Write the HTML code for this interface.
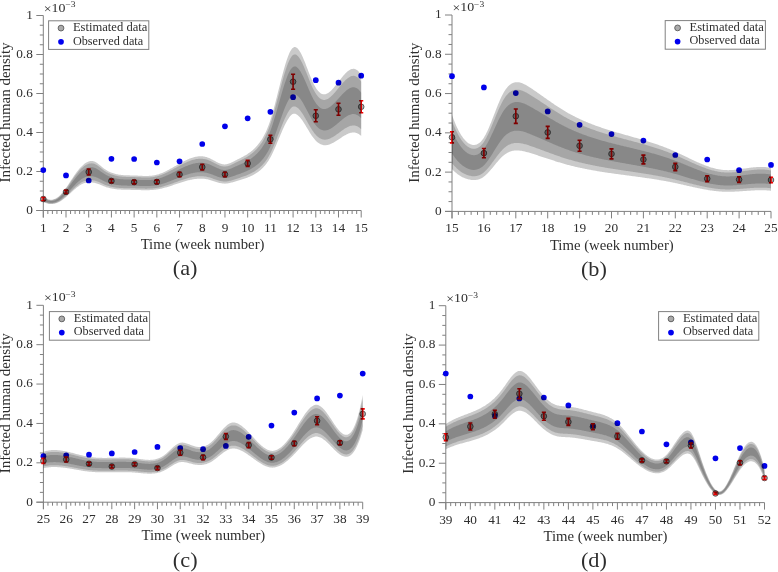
<!DOCTYPE html>
<html><head><meta charset="utf-8"><style>
html,body{margin:0;padding:0;background:#fff;}
svg{display:block;font-family:"Liberation Serif", serif;filter:blur(0.4px);}
</style></head><body>
<svg width="778" height="572" viewBox="0 0 778 572">
<rect width="778" height="572" fill="#fff"/>
<g id="panel-a">
<path d="M36.30,210.50H361.20M43.30,15.50V217.50" stroke="#808080" stroke-width="1" fill="none"/>
<path d="M36.30,210.50H43.30M39.80,200.75H43.30M39.80,191.00H43.30M39.80,181.25H43.30M36.30,171.50H43.30M39.80,161.75H43.30M39.80,152.00H43.30M39.80,142.25H43.30M36.30,132.50H43.30M39.80,122.75H43.30M39.80,113.00H43.30M39.80,103.25H43.30M36.30,93.50H43.30M39.80,83.75H43.30M39.80,74.00H43.30M39.80,64.25H43.30M36.30,54.50H43.30M39.80,44.75H43.30M39.80,35.00H43.30M39.80,25.25H43.30M36.30,15.50H43.30M43.30,210.50V217.50M47.84,210.50V214.00M52.38,210.50V214.00M56.92,210.50V214.00M61.47,210.50V214.00M66.01,210.50V217.50M70.55,210.50V214.00M75.09,210.50V214.00M79.63,210.50V214.00M84.17,210.50V214.00M88.71,210.50V217.50M93.26,210.50V214.00M97.80,210.50V214.00M102.34,210.50V214.00M106.88,210.50V214.00M111.42,210.50V217.50M115.96,210.50V214.00M120.50,210.50V214.00M125.05,210.50V214.00M129.59,210.50V214.00M134.13,210.50V217.50M138.67,210.50V214.00M143.21,210.50V214.00M147.75,210.50V214.00M152.29,210.50V214.00M156.84,210.50V217.50M161.38,210.50V214.00M165.92,210.50V214.00M170.46,210.50V214.00M175.00,210.50V214.00M179.54,210.50V217.50M184.08,210.50V214.00M188.63,210.50V214.00M193.17,210.50V214.00M197.71,210.50V214.00M202.25,210.50V217.50M206.79,210.50V214.00M211.33,210.50V214.00M215.87,210.50V214.00M220.42,210.50V214.00M224.96,210.50V217.50M229.50,210.50V214.00M234.04,210.50V214.00M238.58,210.50V214.00M243.12,210.50V214.00M247.66,210.50V217.50M252.21,210.50V214.00M256.75,210.50V214.00M261.29,210.50V214.00M265.83,210.50V214.00M270.37,210.50V217.50M274.91,210.50V214.00M279.45,210.50V214.00M284.00,210.50V214.00M288.54,210.50V214.00M293.08,210.50V217.50M297.62,210.50V214.00M302.16,210.50V214.00M306.70,210.50V214.00M311.24,210.50V214.00M315.79,210.50V217.50M320.33,210.50V214.00M324.87,210.50V214.00M329.41,210.50V214.00M333.95,210.50V214.00M338.49,210.50V217.50M343.03,210.50V214.00M347.58,210.50V214.00M352.12,210.50V214.00M356.66,210.50V214.00M361.20,210.50V217.50" stroke="#808080" stroke-width="1" fill="none"/>
<circle cx="43.30" cy="170.10" r="2.85" fill="#0000ea"/>
<circle cx="66.01" cy="175.40" r="2.85" fill="#0000ea"/>
<circle cx="88.71" cy="180.50" r="2.85" fill="#0000ea"/>
<circle cx="111.42" cy="158.80" r="2.85" fill="#0000ea"/>
<circle cx="134.13" cy="159.00" r="2.85" fill="#0000ea"/>
<circle cx="156.84" cy="162.50" r="2.85" fill="#0000ea"/>
<circle cx="179.54" cy="161.30" r="2.85" fill="#0000ea"/>
<circle cx="202.25" cy="144.00" r="2.85" fill="#0000ea"/>
<circle cx="224.96" cy="126.30" r="2.85" fill="#0000ea"/>
<circle cx="247.66" cy="118.30" r="2.85" fill="#0000ea"/>
<circle cx="270.37" cy="111.80" r="2.85" fill="#0000ea"/>
<circle cx="293.08" cy="97.20" r="2.85" fill="#0000ea"/>
<circle cx="315.79" cy="80.20" r="2.85" fill="#0000ea"/>
<circle cx="338.49" cy="82.70" r="2.85" fill="#0000ea"/>
<circle cx="361.20" cy="75.70" r="2.85" fill="#0000ea"/>
<circle cx="43.30" cy="199.00" r="2.8" fill="#000" fill-opacity="0.3" stroke="#444" stroke-width="0.85"/>
<circle cx="66.01" cy="191.90" r="2.8" fill="#000" fill-opacity="0.3" stroke="#444" stroke-width="0.85"/>
<circle cx="88.71" cy="172.00" r="2.8" fill="#000" fill-opacity="0.3" stroke="#444" stroke-width="0.85"/>
<circle cx="111.42" cy="181.00" r="2.8" fill="#000" fill-opacity="0.3" stroke="#444" stroke-width="0.85"/>
<circle cx="134.13" cy="182.10" r="2.8" fill="#000" fill-opacity="0.3" stroke="#444" stroke-width="0.85"/>
<circle cx="156.84" cy="181.90" r="2.8" fill="#000" fill-opacity="0.3" stroke="#444" stroke-width="0.85"/>
<circle cx="179.54" cy="174.50" r="2.8" fill="#000" fill-opacity="0.3" stroke="#444" stroke-width="0.85"/>
<circle cx="202.25" cy="167.10" r="2.8" fill="#000" fill-opacity="0.3" stroke="#444" stroke-width="0.85"/>
<circle cx="224.96" cy="174.40" r="2.8" fill="#000" fill-opacity="0.3" stroke="#444" stroke-width="0.85"/>
<circle cx="247.66" cy="163.40" r="2.8" fill="#000" fill-opacity="0.3" stroke="#444" stroke-width="0.85"/>
<circle cx="270.37" cy="139.30" r="2.8" fill="#000" fill-opacity="0.3" stroke="#444" stroke-width="0.85"/>
<circle cx="293.08" cy="81.70" r="2.8" fill="#000" fill-opacity="0.3" stroke="#444" stroke-width="0.85"/>
<circle cx="315.79" cy="115.80" r="2.8" fill="#000" fill-opacity="0.3" stroke="#444" stroke-width="0.85"/>
<circle cx="338.49" cy="109.30" r="2.8" fill="#000" fill-opacity="0.3" stroke="#444" stroke-width="0.85"/>
<circle cx="361.20" cy="106.80" r="2.8" fill="#000" fill-opacity="0.3" stroke="#444" stroke-width="0.85"/>
<path d="M43.30,197.50V200.50M41.25,197.50H45.35M41.25,200.50H45.35" stroke="#f00000" stroke-width="1.6" fill="none"/>
<path d="M66.01,190.40V193.40M63.96,190.40H68.06M63.96,193.40H68.06" stroke="#f00000" stroke-width="1.6" fill="none"/>
<path d="M88.71,169.00V175.00M86.66,169.00H90.76M86.66,175.00H90.76" stroke="#f00000" stroke-width="1.6" fill="none"/>
<path d="M111.42,179.20V182.80M109.37,179.20H113.47M109.37,182.80H113.47" stroke="#f00000" stroke-width="1.6" fill="none"/>
<path d="M134.13,180.30V183.90M132.08,180.30H136.18M132.08,183.90H136.18" stroke="#f00000" stroke-width="1.6" fill="none"/>
<path d="M156.84,180.10V183.70M154.79,180.10H158.89M154.79,183.70H158.89" stroke="#f00000" stroke-width="1.6" fill="none"/>
<path d="M179.54,172.30V176.70M177.49,172.30H181.59M177.49,176.70H181.59" stroke="#f00000" stroke-width="1.6" fill="none"/>
<path d="M202.25,164.30V169.90M200.20,164.30H204.30M200.20,169.90H204.30" stroke="#f00000" stroke-width="1.6" fill="none"/>
<path d="M224.96,172.20V176.60M222.91,172.20H227.01M222.91,176.60H227.01" stroke="#f00000" stroke-width="1.6" fill="none"/>
<path d="M247.66,160.40V166.40M245.61,160.40H249.71M245.61,166.40H249.71" stroke="#f00000" stroke-width="1.6" fill="none"/>
<path d="M270.37,135.30V143.30M268.32,135.30H272.42M268.32,143.30H272.42" stroke="#f00000" stroke-width="1.6" fill="none"/>
<path d="M293.08,74.20V89.20M291.03,74.20H295.13M291.03,89.20H295.13" stroke="#f00000" stroke-width="1.6" fill="none"/>
<path d="M315.79,109.80V121.80M313.74,109.80H317.84M313.74,121.80H317.84" stroke="#f00000" stroke-width="1.6" fill="none"/>
<path d="M338.49,103.30V115.30M336.44,103.30H340.54M336.44,115.30H340.54" stroke="#f00000" stroke-width="1.6" fill="none"/>
<path d="M361.20,100.80V112.80M359.15,100.80H363.25M359.15,112.80H363.25" stroke="#f00000" stroke-width="1.6" fill="none"/>
<polygon points="43.30,196.16 44.10,196.84 44.89,197.45 45.69,197.99 46.49,198.45 47.28,198.84 48.08,199.15 48.88,199.40 49.67,199.57 50.47,199.67 51.27,199.69 52.06,199.65 52.86,199.53 53.66,199.34 54.45,199.08 55.25,198.74 56.05,198.34 56.84,197.87 57.64,197.32 58.44,196.71 59.23,196.02 60.03,195.27 60.83,194.45 61.63,193.57 62.42,192.63 63.22,191.65 64.02,190.61 64.81,189.54 65.61,188.44 66.41,187.30 67.20,186.14 68.00,184.95 68.80,183.75 69.59,182.54 70.39,181.33 71.19,180.11 71.98,178.89 72.78,177.69 73.58,176.50 74.37,175.32 75.17,174.17 75.97,173.05 76.76,171.96 77.56,170.91 78.36,169.90 79.15,168.94 79.95,168.03 80.75,167.18 81.54,166.39 82.34,165.63 83.14,164.90 83.93,164.23 84.73,163.62 85.53,163.07 86.32,162.58 87.12,162.16 87.92,161.80 88.71,161.51 89.51,161.28 90.31,161.12 91.10,161.03 91.90,161.00 92.70,161.05 93.49,161.19 94.29,161.48 95.09,161.83 95.88,162.26 96.68,162.75 97.48,163.30 98.28,163.89 99.07,164.52 99.87,165.17 100.67,165.84 101.46,166.51 102.26,167.17 103.06,167.82 103.85,168.44 104.65,169.03 105.45,169.57 106.24,170.07 107.04,170.55 107.84,170.99 108.63,171.41 109.43,171.80 110.23,172.16 111.02,172.49 111.82,172.80 112.62,173.09 113.41,173.35 114.21,173.59 115.01,173.81 115.80,174.02 116.60,174.20 117.40,174.36 118.19,174.51 118.99,174.65 119.79,174.77 120.58,174.87 121.38,174.96 122.18,175.05 122.97,175.11 123.77,175.17 124.57,175.21 125.36,175.25 126.16,175.28 126.96,175.30 127.75,175.33 128.55,175.34 129.35,175.36 130.14,175.38 130.94,175.39 131.74,175.41 132.54,175.43 133.33,175.45 134.13,175.47 134.93,175.50 135.72,175.54 136.52,175.58 137.32,175.62 138.11,175.66 138.91,175.70 139.71,175.74 140.50,175.78 141.30,175.82 142.10,175.85 142.89,175.88 143.69,175.90 144.49,175.92 145.28,175.93 146.08,175.94 146.88,175.93 147.67,175.92 148.47,175.89 149.27,175.85 150.06,175.80 150.86,175.74 151.66,175.66 152.45,175.56 153.25,175.45 154.05,175.32 154.84,175.18 155.64,175.01 156.44,174.82 157.23,174.62 158.03,174.39 158.83,174.14 159.62,173.87 160.42,173.59 161.22,173.28 162.01,172.96 162.81,172.63 163.61,172.28 164.40,171.91 165.20,171.54 166.00,171.15 166.79,170.75 167.59,170.34 168.39,169.92 169.19,169.50 169.98,169.06 170.78,168.62 171.58,168.17 172.37,167.72 173.17,167.27 173.97,166.81 174.76,166.35 175.56,165.90 176.36,165.44 177.15,164.98 177.95,164.52 178.75,164.07 179.54,163.62 180.34,163.17 181.14,162.73 181.93,162.30 182.73,161.88 183.53,161.46 184.32,161.05 185.12,160.65 185.92,160.27 186.71,159.89 187.51,159.53 188.31,159.18 189.10,158.85 189.90,158.53 190.70,158.23 191.49,157.95 192.29,157.69 193.09,157.44 193.88,157.22 194.68,157.02 195.48,156.83 196.27,156.68 197.07,156.54 197.87,156.43 198.66,156.35 199.46,156.30 200.26,156.27 201.05,156.27 201.85,156.30 202.65,156.36 203.45,156.44 204.24,156.56 205.04,156.71 205.84,156.90 206.63,157.12 207.43,157.38 208.23,157.68 209.02,158.00 209.82,158.36 210.62,158.75 211.41,159.15 212.21,159.57 213.01,160.00 213.80,160.43 214.60,160.86 215.40,161.30 216.19,161.72 216.99,162.13 217.79,162.52 218.58,162.88 219.38,163.22 220.18,163.53 220.97,163.80 221.77,164.03 222.57,164.21 223.36,164.34 224.16,164.41 224.96,164.42 225.75,164.37 226.55,164.25 227.35,164.08 228.14,163.86 228.94,163.60 229.74,163.30 230.53,162.96 231.33,162.60 232.13,162.21 232.92,161.81 233.72,161.39 234.52,160.97 235.31,160.55 236.11,160.13 236.91,159.72 237.71,159.32 238.50,158.93 239.30,158.53 240.10,158.13 240.89,157.73 241.69,157.32 242.49,156.90 243.28,156.48 244.08,156.04 244.88,155.59 245.67,155.13 246.47,154.65 247.27,154.14 248.06,153.62 248.86,153.08 249.66,152.51 250.45,151.91 251.25,151.29 252.05,150.63 252.84,149.95 253.64,149.23 254.44,148.47 255.23,147.67 256.03,146.84 256.83,145.96 257.62,145.04 258.42,144.07 259.22,143.06 260.01,141.99 260.81,140.86 261.61,139.66 262.40,138.39 263.20,137.04 264.00,135.60 264.79,134.06 265.59,132.43 266.39,130.69 267.18,128.84 267.98,126.87 268.78,124.77 269.57,122.54 270.37,120.17 271.17,117.66 271.96,115.02 272.76,112.26 273.56,109.40 274.36,106.45 275.15,103.43 275.95,100.34 276.75,97.21 277.54,94.04 278.34,90.86 279.14,87.67 279.93,84.49 280.73,81.33 281.53,78.21 282.32,75.15 283.12,72.16 283.92,69.26 284.71,66.46 285.51,63.79 286.31,61.26 287.10,58.89 287.90,56.68 288.70,54.67 289.49,52.87 290.29,51.28 291.09,49.94 291.88,48.86 292.68,48.04 293.48,47.47 294.27,47.12 295.07,47.05 295.87,47.23 296.66,47.66 297.46,48.31 298.26,49.17 299.05,50.22 299.85,51.45 300.65,52.84 301.44,54.37 302.24,56.03 303.04,57.80 303.83,59.66 304.63,61.60 305.43,63.61 306.22,65.66 307.02,67.73 307.82,69.82 308.62,71.90 309.41,73.96 310.21,75.98 311.01,77.94 311.80,79.83 312.60,81.63 313.40,83.32 314.19,84.90 314.99,86.35 315.79,87.68 316.58,88.91 317.38,90.01 318.18,90.98 318.97,91.83 319.77,92.56 320.57,93.16 321.36,93.63 322.16,93.98 322.96,94.20 323.75,94.30 324.55,94.28 325.35,94.16 326.14,93.93 326.94,93.61 327.74,93.19 328.53,92.69 329.33,92.11 330.13,91.45 330.92,90.73 331.72,89.95 332.52,89.11 333.31,88.22 334.11,87.29 334.91,86.32 335.70,85.32 336.50,84.29 337.30,83.25 338.09,82.19 338.89,81.15 339.69,80.14 340.48,79.13 341.28,78.14 342.08,77.16 342.87,76.21 343.67,75.29 344.47,74.40 345.27,73.56 346.06,72.77 346.86,72.03 347.66,71.35 348.45,70.74 349.25,70.20 350.05,69.75 350.84,69.37 351.64,69.09 352.44,68.91 353.23,68.83 354.03,68.86 354.83,69.01 355.62,69.27 356.42,69.67 357.22,70.20 358.01,70.87 358.81,71.69 359.61,72.66 360.40,73.79 361.20,75.08 361.20,135.97 360.40,135.26 359.61,134.63 358.81,134.10 358.01,133.65 357.22,133.28 356.42,132.99 355.62,132.77 354.83,132.62 354.03,132.54 353.23,132.53 352.44,132.57 351.64,132.67 350.84,132.83 350.05,133.03 349.25,133.28 348.45,133.58 347.66,133.91 346.86,134.29 346.06,134.69 345.27,135.13 344.47,135.59 343.67,136.08 342.87,136.59 342.08,137.11 341.28,137.65 340.48,138.20 339.69,138.75 338.89,139.31 338.09,139.84 337.30,140.34 336.50,140.84 335.70,141.32 334.91,141.80 334.11,142.26 333.31,142.69 332.52,143.11 331.72,143.50 330.92,143.86 330.13,144.18 329.33,144.47 328.53,144.72 327.74,144.93 326.94,145.09 326.14,145.19 325.35,145.25 324.55,145.24 323.75,145.17 322.96,145.04 322.16,144.84 321.36,144.57 320.57,144.23 319.77,143.82 318.97,143.33 318.18,142.77 317.38,142.14 316.58,141.44 315.79,140.66 314.99,139.80 314.19,138.86 313.40,137.85 312.60,136.78 311.80,135.63 311.01,134.43 310.21,133.19 309.41,131.91 308.62,130.60 307.82,129.28 307.02,127.95 306.22,126.63 305.43,125.31 304.63,124.02 303.83,122.76 303.04,121.54 302.24,120.37 301.44,119.27 300.65,118.23 299.85,117.28 299.05,116.42 298.26,115.66 297.46,115.01 296.66,114.48 295.87,114.09 295.07,113.83 294.27,113.73 293.48,113.79 292.68,114.08 291.88,114.60 291.09,115.28 290.29,116.11 289.49,117.08 288.70,118.19 287.90,119.41 287.10,120.75 286.31,122.19 285.51,123.72 284.71,125.33 283.92,127.02 283.12,128.76 282.32,130.56 281.53,132.40 280.73,134.27 279.93,136.16 279.14,138.06 278.34,139.97 277.54,141.87 276.75,143.76 275.95,145.63 275.15,147.47 274.36,149.28 273.56,151.03 272.76,152.74 271.96,154.38 271.17,155.95 270.37,157.45 269.57,158.85 268.78,160.17 267.98,161.42 267.18,162.59 266.39,163.69 265.59,164.72 264.79,165.69 264.00,166.60 263.20,167.45 262.40,168.26 261.61,169.01 260.81,169.72 260.01,170.39 259.22,171.03 258.42,171.63 257.62,172.21 256.83,172.76 256.03,173.28 255.23,173.78 254.44,174.25 253.64,174.70 252.84,175.13 252.05,175.54 251.25,175.93 250.45,176.31 249.66,176.66 248.86,177.00 248.06,177.33 247.27,177.64 246.47,177.94 245.67,178.23 244.88,178.51 244.08,178.78 243.28,179.04 242.49,179.30 241.69,179.55 240.89,179.79 240.10,180.03 239.30,180.27 238.50,180.51 237.71,180.75 236.91,180.99 236.11,181.23 235.31,181.47 234.52,181.70 233.72,181.94 232.92,182.18 232.13,182.40 231.33,182.62 230.53,182.83 229.74,183.02 228.94,183.19 228.14,183.33 227.35,183.45 226.55,183.55 225.75,183.61 224.96,183.63 224.16,183.62 223.36,183.57 222.57,183.49 221.77,183.37 220.97,183.23 220.18,183.07 219.38,182.88 218.58,182.68 217.79,182.46 216.99,182.22 216.19,181.98 215.40,181.72 214.60,181.46 213.80,181.20 213.01,180.94 212.21,180.68 211.41,180.43 210.62,180.18 209.82,179.95 209.02,179.74 208.23,179.53 207.43,179.35 206.63,179.20 205.84,179.06 205.04,178.94 204.24,178.84 203.45,178.76 202.65,178.71 201.85,178.67 201.05,178.65 200.26,178.65 199.46,178.67 198.66,178.70 197.87,178.75 197.07,178.81 196.27,178.89 195.48,178.98 194.68,179.09 193.88,179.21 193.09,179.34 192.29,179.48 191.49,179.64 190.70,179.80 189.90,179.98 189.10,180.17 188.31,180.36 187.51,180.57 186.71,180.78 185.92,181.00 185.12,181.22 184.32,181.46 183.53,181.70 182.73,181.94 181.93,182.19 181.14,182.45 180.34,182.70 179.54,182.97 178.75,183.23 177.95,183.50 177.15,183.76 176.36,184.03 175.56,184.30 174.76,184.57 173.97,184.84 173.17,185.11 172.37,185.38 171.58,185.64 170.78,185.90 169.98,186.16 169.19,186.42 168.39,186.67 167.59,186.91 166.79,187.15 166.00,187.39 165.20,187.62 164.40,187.84 163.61,188.05 162.81,188.26 162.01,188.46 161.22,188.64 160.42,188.82 159.62,188.99 158.83,189.15 158.03,189.29 157.23,189.43 156.44,189.55 155.64,189.66 154.84,189.75 154.05,189.84 153.25,189.92 152.45,189.98 151.66,190.04 150.86,190.08 150.06,190.12 149.27,190.15 148.47,190.17 147.67,190.19 146.88,190.20 146.08,190.20 145.28,190.20 144.49,190.19 143.69,190.18 142.89,190.17 142.10,190.15 141.30,190.13 140.50,190.11 139.71,190.09 138.91,190.06 138.11,190.04 137.32,190.01 136.52,189.99 135.72,189.97 134.93,189.95 134.13,189.93 133.33,189.91 132.54,189.90 131.74,189.89 130.94,189.88 130.14,189.87 129.35,189.86 128.55,189.85 127.75,189.84 126.96,189.83 126.16,189.81 125.36,189.80 124.57,189.77 123.77,189.75 122.97,189.72 122.18,189.69 121.38,189.66 120.58,189.62 119.79,189.57 118.99,189.52 118.19,189.46 117.40,189.38 116.60,189.30 115.80,189.21 115.01,189.11 114.21,189.00 113.41,188.87 112.62,188.74 111.82,188.59 111.02,188.42 110.23,188.25 109.43,188.05 108.63,187.85 107.84,187.62 107.04,187.38 106.24,187.13 105.45,186.85 104.65,186.56 103.85,186.26 103.06,185.95 102.26,185.62 101.46,185.28 100.67,184.95 99.87,184.61 99.07,184.29 98.28,183.98 97.48,183.69 96.68,183.43 95.88,183.20 95.09,183.01 94.29,182.86 93.49,182.75 92.70,182.61 91.90,182.48 91.10,182.38 90.31,182.33 89.51,182.32 88.71,182.34 87.92,182.40 87.12,182.50 86.32,182.64 85.53,182.82 84.73,183.04 83.93,183.29 83.14,183.59 82.34,183.92 81.54,184.32 80.75,184.79 79.95,185.29 79.15,185.83 78.36,186.40 77.56,187.00 76.76,187.62 75.97,188.27 75.17,188.93 74.37,189.62 73.58,190.31 72.78,191.02 71.98,191.74 71.19,192.46 70.39,193.18 69.59,193.90 68.80,194.62 68.00,195.33 67.20,196.04 66.41,196.73 65.61,197.40 64.81,198.06 64.02,198.70 63.22,199.31 62.42,199.89 61.63,200.45 60.83,200.97 60.03,201.46 59.23,201.90 58.44,202.31 57.64,202.68 56.84,203.00 56.05,203.28 55.25,203.52 54.45,203.72 53.66,203.87 52.86,203.99 52.06,204.06 51.27,204.08 50.47,204.07 49.67,204.01 48.88,203.91 48.08,203.76 47.28,203.58 46.49,203.35 45.69,203.07 44.89,202.75 44.10,202.39 43.30,201.99" fill="#000" fill-opacity="0.208"/>
<polygon points="43.30,196.80 44.10,197.45 44.89,198.03 45.69,198.54 46.49,198.99 47.28,199.36 48.08,199.66 48.88,199.89 49.67,200.06 50.47,200.15 51.27,200.17 52.06,200.13 52.86,200.02 53.66,199.84 54.45,199.59 55.25,199.27 56.05,198.88 56.84,198.43 57.64,197.91 58.44,197.32 59.23,196.67 60.03,195.95 60.83,195.16 61.63,194.32 62.42,193.43 63.22,192.49 64.02,191.50 64.81,190.48 65.61,189.42 66.41,188.34 67.20,187.23 68.00,186.09 68.80,184.95 69.59,183.79 70.39,182.63 71.19,181.47 71.98,180.31 72.78,179.15 73.58,178.02 74.37,176.89 75.17,175.79 75.97,174.72 76.76,173.68 77.56,172.68 78.36,171.72 79.15,170.80 79.95,169.93 80.75,169.12 81.54,168.37 82.34,167.64 83.14,166.95 83.93,166.32 84.73,165.75 85.53,165.24 86.32,164.79 87.12,164.40 87.92,164.07 88.71,163.80 89.51,163.59 90.31,163.45 91.10,163.38 91.90,163.36 92.70,163.42 93.49,163.56 94.29,163.83 95.09,164.16 95.88,164.56 96.68,165.02 97.48,165.54 98.28,166.10 99.07,166.69 99.87,167.31 100.67,167.94 101.46,168.57 102.26,169.20 103.06,169.81 103.85,170.40 104.65,170.96 105.45,171.47 106.24,171.95 107.04,172.40 107.84,172.82 108.63,173.22 109.43,173.58 110.23,173.93 111.02,174.24 111.82,174.54 112.62,174.81 113.41,175.06 114.21,175.29 115.01,175.50 115.80,175.69 116.60,175.86 117.40,176.02 118.19,176.16 118.99,176.28 119.79,176.39 120.58,176.49 121.38,176.58 122.18,176.66 122.97,176.72 123.77,176.77 124.57,176.81 125.36,176.85 126.16,176.88 126.96,176.90 127.75,176.92 128.55,176.94 129.35,176.96 130.14,176.97 130.94,176.99 131.74,177.00 132.54,177.02 133.33,177.04 134.13,177.06 134.93,177.09 135.72,177.13 136.52,177.16 137.32,177.20 138.11,177.24 138.91,177.28 139.71,177.32 140.50,177.36 141.30,177.39 142.10,177.42 142.89,177.45 143.69,177.47 144.49,177.49 145.28,177.50 146.08,177.51 146.88,177.50 147.67,177.49 148.47,177.46 149.27,177.42 150.06,177.38 150.86,177.31 151.66,177.24 152.45,177.15 153.25,177.04 154.05,176.92 154.84,176.78 155.64,176.62 156.44,176.44 157.23,176.25 158.03,176.03 158.83,175.79 159.62,175.54 160.42,175.26 161.22,174.97 162.01,174.67 162.81,174.35 163.61,174.01 164.40,173.67 165.20,173.31 166.00,172.94 166.79,172.55 167.59,172.16 168.39,171.76 169.19,171.36 169.98,170.94 170.78,170.52 171.58,170.10 172.37,169.67 173.17,169.23 173.97,168.80 174.76,168.36 175.56,167.92 176.36,167.48 177.15,167.04 177.95,166.61 178.75,166.18 179.54,165.75 180.34,165.32 181.14,164.90 181.93,164.49 182.73,164.08 183.53,163.68 184.32,163.30 185.12,162.92 185.92,162.55 186.71,162.19 187.51,161.85 188.31,161.51 189.10,161.20 189.90,160.89 190.70,160.61 191.49,160.34 192.29,160.09 193.09,159.85 193.88,159.64 194.68,159.44 195.48,159.27 196.27,159.12 197.07,158.99 197.87,158.89 198.66,158.81 199.46,158.76 200.26,158.73 201.05,158.73 201.85,158.76 202.65,158.81 203.45,158.90 204.24,159.01 205.04,159.16 205.84,159.34 206.63,159.55 207.43,159.80 208.23,160.08 209.02,160.40 209.82,160.74 210.62,161.10 211.41,161.49 212.21,161.89 213.01,162.30 213.80,162.71 214.60,163.13 215.40,163.54 216.19,163.95 216.99,164.34 217.79,164.71 218.58,165.06 219.38,165.39 220.18,165.68 220.97,165.94 221.77,166.16 222.57,166.33 223.36,166.45 224.16,166.52 224.96,166.53 225.75,166.48 226.55,166.37 227.35,166.21 228.14,166.00 228.94,165.75 229.74,165.47 230.53,165.15 231.33,164.80 232.13,164.43 232.92,164.05 233.72,163.65 234.52,163.25 235.31,162.85 236.11,162.45 236.91,162.06 237.71,161.68 238.50,161.30 239.30,160.92 240.10,160.54 240.89,160.15 241.69,159.76 242.49,159.37 243.28,158.96 244.08,158.54 244.88,158.11 245.67,157.67 246.47,157.21 247.27,156.73 248.06,156.23 248.86,155.71 249.66,155.17 250.45,154.60 251.25,154.00 252.05,153.37 252.84,152.72 253.64,152.03 254.44,151.30 255.23,150.54 256.03,149.75 256.83,148.91 257.62,148.03 258.42,147.11 259.22,146.14 260.01,145.11 260.81,144.03 261.61,142.89 262.40,141.68 263.20,140.38 264.00,139.01 264.79,137.54 265.59,135.98 266.39,134.32 267.18,132.55 267.98,130.67 268.78,128.66 269.57,126.53 270.37,124.27 271.17,121.87 271.96,119.35 272.76,116.71 273.56,113.98 274.36,111.16 275.15,108.27 275.95,105.32 276.75,102.33 277.54,99.31 278.34,96.26 279.14,93.21 279.93,90.17 280.73,87.15 281.53,84.17 282.32,81.24 283.12,78.39 283.92,75.61 284.71,72.94 285.51,70.38 286.31,67.96 287.10,65.69 287.90,63.58 288.70,61.66 289.49,59.93 290.29,58.41 291.09,57.13 291.88,56.09 292.68,55.31 293.48,54.76 294.27,54.45 295.07,54.39 295.87,54.58 296.66,55.01 297.46,55.64 298.26,56.48 299.05,57.50 299.85,58.69 300.65,60.03 301.44,61.51 302.24,63.11 303.04,64.81 303.83,66.60 304.63,68.47 305.43,70.40 306.22,72.36 307.02,74.36 307.82,76.36 308.62,78.36 309.41,80.33 310.21,82.27 311.01,84.15 311.80,85.97 312.60,87.70 313.40,89.32 314.19,90.84 314.99,92.23 315.79,93.51 316.58,94.68 317.38,95.74 318.18,96.68 318.97,97.50 319.77,98.20 320.57,98.78 321.36,99.23 322.16,99.57 322.96,99.79 323.75,99.90 324.55,99.89 325.35,99.78 326.14,99.57 326.94,99.27 327.74,98.88 328.53,98.41 329.33,97.87 330.13,97.25 330.92,96.58 331.72,95.84 332.52,95.05 333.31,94.21 334.11,93.34 334.91,92.42 335.70,91.48 336.50,90.51 337.30,89.53 338.09,88.53 338.89,87.55 339.69,86.59 340.48,85.63 341.28,84.68 342.08,83.76 342.87,82.85 343.67,81.97 344.47,81.13 345.27,80.33 346.06,79.58 346.86,78.88 347.66,78.23 348.45,77.65 349.25,77.14 350.05,76.71 350.84,76.35 351.64,76.09 352.44,75.91 353.23,75.84 354.03,75.86 354.83,76.00 355.62,76.26 356.42,76.63 357.22,77.14 358.01,77.78 358.81,78.55 359.61,79.48 360.40,80.55 361.20,81.78 361.20,129.27 360.40,128.49 359.61,127.82 358.81,127.24 358.01,126.74 357.22,126.34 356.42,126.02 355.62,125.79 354.83,125.62 354.03,125.54 353.23,125.52 352.44,125.57 351.64,125.68 350.84,125.85 350.05,126.07 349.25,126.34 348.45,126.67 347.66,127.03 346.86,127.44 346.06,127.88 345.27,128.36 344.47,128.86 343.67,129.39 342.87,129.95 342.08,130.52 341.28,131.10 340.48,131.70 339.69,132.30 338.89,132.91 338.09,133.50 337.30,134.06 336.50,134.62 335.70,135.16 334.91,135.70 334.11,136.21 333.31,136.70 332.52,137.17 331.72,137.61 330.92,138.01 330.13,138.38 329.33,138.71 328.53,139.00 327.74,139.24 326.94,139.42 326.14,139.55 325.35,139.63 324.55,139.64 323.75,139.58 322.96,139.45 322.16,139.25 321.36,138.97 320.57,138.61 319.77,138.18 318.97,137.66 318.18,137.07 317.38,136.40 316.58,135.66 315.79,134.83 314.99,133.92 314.19,132.93 313.40,131.86 312.60,130.71 311.80,129.49 311.01,128.22 310.21,126.90 309.41,125.54 308.62,124.15 307.82,122.74 307.02,121.33 306.22,119.92 305.43,118.53 304.63,117.15 303.83,115.82 303.04,114.53 302.24,113.30 301.44,112.13 300.65,111.04 299.85,110.04 299.05,109.14 298.26,108.35 297.46,107.67 296.66,107.13 295.87,106.73 295.07,106.49 294.27,106.40 293.48,106.50 292.68,106.82 291.88,107.37 291.09,108.09 290.29,108.98 289.49,110.02 288.70,111.20 287.90,112.51 287.10,113.95 286.31,115.49 285.51,117.13 284.71,118.86 283.92,120.66 283.12,122.54 282.32,124.46 281.53,126.44 280.73,128.44 279.93,130.47 279.14,132.52 278.34,134.57 277.54,136.61 276.75,138.64 275.95,140.65 275.15,142.63 274.36,144.57 273.56,146.46 272.76,148.29 271.96,150.05 271.17,151.74 270.37,153.35 269.57,154.86 268.78,156.28 267.98,157.62 267.18,158.88 266.39,160.06 265.59,161.17 264.79,162.21 264.00,163.19 263.20,164.11 262.40,164.97 261.61,165.78 260.81,166.55 260.01,167.27 259.22,167.95 258.42,168.60 257.62,169.22 256.83,169.81 256.03,170.37 255.23,170.91 254.44,171.41 253.64,171.90 252.84,172.36 252.05,172.80 251.25,173.22 250.45,173.62 249.66,174.01 248.86,174.37 248.06,174.72 247.27,175.06 246.47,175.38 245.67,175.69 244.88,175.99 244.08,176.28 243.28,176.56 242.49,176.83 241.69,177.10 240.89,177.37 240.10,177.63 239.30,177.88 238.50,178.14 237.71,178.39 236.91,178.65 236.11,178.91 235.31,179.16 234.52,179.42 233.72,179.68 232.92,179.94 232.13,180.18 231.33,180.42 230.53,180.64 229.74,180.85 228.94,181.03 228.14,181.19 227.35,181.32 226.55,181.42 225.75,181.49 224.96,181.52 224.16,181.50 223.36,181.45 222.57,181.37 221.77,181.25 220.97,181.10 220.18,180.92 219.38,180.72 218.58,180.50 217.79,180.26 216.99,180.01 216.19,179.75 215.40,179.47 214.60,179.20 213.80,178.92 213.01,178.64 212.21,178.36 211.41,178.09 210.62,177.83 209.82,177.58 209.02,177.34 208.23,177.13 207.43,176.94 206.63,176.77 205.84,176.62 205.04,176.49 204.24,176.39 203.45,176.31 202.65,176.25 201.85,176.21 201.05,176.19 200.26,176.19 199.46,176.21 198.66,176.24 197.87,176.29 197.07,176.36 196.27,176.45 195.48,176.55 194.68,176.66 193.88,176.79 193.09,176.93 192.29,177.09 191.49,177.25 190.70,177.43 189.90,177.62 189.10,177.82 188.31,178.03 187.51,178.25 186.71,178.48 185.92,178.72 185.12,178.96 184.32,179.21 183.53,179.47 182.73,179.74 181.93,180.00 181.14,180.28 180.34,180.56 179.54,180.84 178.75,181.12 177.95,181.41 177.15,181.70 176.36,181.99 175.56,182.28 174.76,182.57 173.97,182.86 173.17,183.15 172.37,183.44 171.58,183.72 170.78,184.00 169.98,184.28 169.19,184.56 168.39,184.83 167.59,185.09 166.79,185.35 166.00,185.60 165.20,185.85 164.40,186.09 163.61,186.32 162.81,186.54 162.01,186.75 161.22,186.95 160.42,187.15 159.62,187.33 158.83,187.50 158.03,187.65 157.23,187.80 156.44,187.93 155.64,188.05 154.84,188.15 154.05,188.24 153.25,188.32 152.45,188.39 151.66,188.45 150.86,188.50 150.06,188.55 149.27,188.58 148.47,188.60 147.67,188.62 146.88,188.63 146.08,188.63 145.28,188.63 144.49,188.62 143.69,188.61 142.89,188.60 142.10,188.58 141.30,188.56 140.50,188.53 139.71,188.51 138.91,188.48 138.11,188.45 137.32,188.43 136.52,188.40 135.72,188.38 134.93,188.36 134.13,188.34 133.33,188.32 132.54,188.31 131.74,188.30 130.94,188.29 130.14,188.28 129.35,188.27 128.55,188.26 127.75,188.25 126.96,188.23 126.16,188.22 125.36,188.20 124.57,188.17 123.77,188.14 122.97,188.11 122.18,188.08 121.38,188.04 120.58,188.00 119.79,187.94 118.99,187.88 118.19,187.81 117.40,187.73 116.60,187.64 115.80,187.54 115.01,187.43 114.21,187.30 113.41,187.17 112.62,187.02 111.82,186.85 111.02,186.67 110.23,186.48 109.43,186.27 108.63,186.04 107.84,185.79 107.04,185.53 106.24,185.25 105.45,184.95 104.65,184.63 103.85,184.30 103.06,183.95 102.26,183.59 101.46,183.22 100.67,182.84 99.87,182.47 99.07,182.11 98.28,181.77 97.48,181.45 96.68,181.15 95.88,180.90 95.09,180.68 94.29,180.51 93.49,180.38 92.70,180.24 91.90,180.11 91.10,180.03 90.31,180.00 89.51,180.00 88.71,180.05 87.92,180.14 87.12,180.27 86.32,180.44 85.53,180.65 84.73,180.90 83.93,181.20 83.14,181.53 82.34,181.91 81.54,182.35 80.75,182.85 79.95,183.39 79.15,183.97 78.36,184.58 77.56,185.23 76.76,185.90 75.97,186.59 75.17,187.31 74.37,188.04 73.58,188.79 72.78,189.55 71.98,190.32 71.19,191.10 70.39,191.88 69.59,192.65 68.80,193.43 68.00,194.19 67.20,194.95 66.41,195.69 65.61,196.42 64.81,197.12 64.02,197.81 63.22,198.46 62.42,199.09 61.63,199.69 60.83,200.25 60.03,200.78 59.23,201.26 58.44,201.70 57.64,202.09 56.84,202.44 56.05,202.74 55.25,203.00 54.45,203.21 53.66,203.37 52.86,203.50 52.06,203.57 51.27,203.60 50.47,203.58 49.67,203.52 48.88,203.41 48.08,203.26 47.28,203.06 46.49,202.81 45.69,202.51 44.89,202.17 44.10,201.78 43.30,201.34" fill="#000" fill-opacity="0.178"/>
<polygon points="43.30,197.85 44.10,198.45 44.89,198.99 45.69,199.46 46.49,199.87 47.28,200.21 48.08,200.49 48.88,200.70 49.67,200.86 50.47,200.94 51.27,200.97 52.06,200.92 52.86,200.82 53.66,200.65 54.45,200.42 55.25,200.13 56.05,199.77 56.84,199.36 57.64,198.88 58.44,198.33 59.23,197.73 60.03,197.06 60.83,196.34 61.63,195.56 62.42,194.74 63.22,193.87 64.02,192.96 64.81,192.01 65.61,191.04 66.41,190.03 67.20,189.01 68.00,187.96 68.80,186.91 69.59,185.84 70.39,184.76 71.19,183.69 71.98,182.62 72.78,181.55 73.58,180.50 74.37,179.47 75.17,178.45 75.97,177.46 76.76,176.50 77.56,175.57 78.36,174.69 79.15,173.84 79.95,173.04 80.75,172.29 81.54,171.59 82.34,170.93 83.14,170.32 83.93,169.76 84.73,169.25 85.53,168.80 86.32,168.40 87.12,168.06 87.92,167.78 88.71,167.55 89.51,167.38 90.31,167.27 91.10,167.22 91.90,167.23 92.70,167.30 93.49,167.44 94.29,167.68 95.09,167.97 95.88,168.33 96.68,168.75 97.48,169.21 98.28,169.71 99.07,170.25 99.87,170.81 100.67,171.38 101.46,171.95 102.26,172.52 103.06,173.08 103.85,173.61 104.65,174.11 105.45,174.58 106.24,175.02 107.04,175.43 107.84,175.82 108.63,176.18 109.43,176.51 110.23,176.82 111.02,177.11 111.82,177.38 112.62,177.63 113.41,177.85 114.21,178.06 115.01,178.25 115.80,178.42 116.60,178.58 117.40,178.72 118.19,178.85 118.99,178.96 119.79,179.06 120.58,179.15 121.38,179.22 122.18,179.29 122.97,179.35 123.77,179.40 124.57,179.43 125.36,179.47 126.16,179.49 126.96,179.52 127.75,179.54 128.55,179.55 129.35,179.57 130.14,179.58 130.94,179.59 131.74,179.61 132.54,179.62 133.33,179.64 134.13,179.67 134.93,179.69 135.72,179.72 136.52,179.76 137.32,179.79 138.11,179.83 138.91,179.86 139.71,179.90 140.50,179.93 141.30,179.97 142.10,180.00 142.89,180.02 143.69,180.04 144.49,180.06 145.28,180.07 146.08,180.07 146.88,180.07 147.67,180.05 148.47,180.03 149.27,180.00 150.06,179.95 150.86,179.90 151.66,179.83 152.45,179.74 153.25,179.65 154.05,179.53 154.84,179.40 155.64,179.26 156.44,179.09 157.23,178.91 158.03,178.71 158.83,178.49 159.62,178.26 160.42,178.01 161.22,177.74 162.01,177.46 162.81,177.16 163.61,176.85 164.40,176.53 165.20,176.20 166.00,175.86 166.79,175.51 167.59,175.15 168.39,174.78 169.19,174.40 169.98,174.02 170.78,173.63 171.58,173.24 172.37,172.84 173.17,172.44 173.97,172.04 174.76,171.64 175.56,171.23 176.36,170.83 177.15,170.43 177.95,170.02 178.75,169.63 179.54,169.23 180.34,168.84 181.14,168.45 181.93,168.07 182.73,167.70 183.53,167.33 184.32,166.97 185.12,166.62 185.92,166.28 186.71,165.95 187.51,165.63 188.31,165.33 189.10,165.03 189.90,164.75 190.70,164.49 191.49,164.24 192.29,164.01 193.09,163.79 193.88,163.60 194.68,163.42 195.48,163.26 196.27,163.12 197.07,163.00 197.87,162.91 198.66,162.83 199.46,162.78 200.26,162.76 201.05,162.76 201.85,162.79 202.65,162.84 203.45,162.92 204.24,163.02 205.04,163.16 205.84,163.33 206.63,163.52 207.43,163.75 208.23,164.02 209.02,164.31 209.82,164.62 210.62,164.96 211.41,165.32 212.21,165.69 213.01,166.07 213.80,166.45 214.60,166.84 215.40,167.22 216.19,167.59 216.99,167.95 217.79,168.30 218.58,168.62 219.38,168.93 220.18,169.20 220.97,169.44 221.77,169.64 222.57,169.80 223.36,169.91 224.16,169.98 224.96,169.99 225.75,169.95 226.55,169.85 227.35,169.70 228.14,169.51 228.94,169.28 229.74,169.02 230.53,168.72 231.33,168.40 232.13,168.07 232.92,167.71 233.72,167.35 234.52,166.98 235.31,166.61 236.11,166.25 236.91,165.89 237.71,165.54 238.50,165.19 239.30,164.83 240.10,164.48 240.89,164.13 241.69,163.77 242.49,163.40 243.28,163.02 244.08,162.64 244.88,162.24 245.67,161.83 246.47,161.40 247.27,160.96 248.06,160.50 248.86,160.02 249.66,159.51 250.45,158.99 251.25,158.44 252.05,157.86 252.84,157.25 253.64,156.61 254.44,155.95 255.23,155.24 256.03,154.51 256.83,153.73 257.62,152.92 258.42,152.07 259.22,151.17 260.01,150.23 260.81,149.23 261.61,148.17 262.40,147.05 263.20,145.86 264.00,144.59 264.79,143.24 265.59,141.80 266.39,140.26 267.18,138.63 267.98,136.89 268.78,135.04 269.57,133.07 270.37,130.98 271.17,128.76 271.96,126.43 272.76,124.00 273.56,121.47 274.36,118.87 275.15,116.20 275.95,113.48 276.75,110.71 277.54,107.91 278.34,105.10 279.14,102.28 279.93,99.47 280.73,96.68 281.53,93.93 282.32,91.22 283.12,88.57 283.92,86.01 284.71,83.54 285.51,81.17 286.31,78.93 287.10,76.83 287.90,74.87 288.70,73.09 289.49,71.49 290.29,70.08 291.09,68.89 291.88,67.92 292.68,67.20 293.48,66.70 294.27,66.44 295.07,66.41 295.87,66.62 296.66,67.04 297.46,67.65 298.26,68.45 299.05,69.42 299.85,70.54 300.65,71.80 301.44,73.19 302.24,74.69 303.04,76.28 303.83,77.96 304.63,79.71 305.43,81.50 306.22,83.34 307.02,85.20 307.82,87.06 308.62,88.92 309.41,90.76 310.21,92.57 311.01,94.32 311.80,96.01 312.60,97.62 313.40,99.14 314.19,100.55 314.99,101.85 315.79,103.05 316.58,104.14 317.38,105.12 318.18,106.00 318.97,106.77 319.77,107.42 320.57,107.97 321.36,108.40 322.16,108.73 322.96,108.94 323.75,109.05 324.55,109.06 325.35,108.98 326.14,108.80 326.94,108.54 327.74,108.20 328.53,107.78 329.33,107.29 330.13,106.75 330.92,106.14 331.72,105.48 332.52,104.77 333.31,104.02 334.11,103.23 334.91,102.41 335.70,101.56 336.50,100.69 337.30,99.80 338.09,98.91 338.89,98.02 339.69,97.14 340.48,96.26 341.28,95.40 342.08,94.55 342.87,93.72 343.67,92.92 344.47,92.15 345.27,91.42 346.06,90.73 346.86,90.08 347.66,89.49 348.45,88.96 349.25,88.50 350.05,88.10 350.84,87.77 351.64,87.53 352.44,87.37 353.23,87.30 354.03,87.33 354.83,87.45 355.62,87.69 356.42,88.03 357.22,88.49 358.01,89.08 358.81,89.79 359.61,90.63 360.40,91.61 361.20,92.74 361.20,118.31 360.40,117.43 359.61,116.66 358.81,116.00 358.01,115.44 357.22,114.99 356.42,114.63 355.62,114.36 354.83,114.17 354.03,114.07 353.23,114.05 352.44,114.11 351.64,114.23 350.84,114.42 350.05,114.68 349.25,114.99 348.45,115.36 347.66,115.77 346.86,116.23 346.06,116.73 345.27,117.27 344.47,117.85 343.67,118.45 342.87,119.08 342.08,119.73 341.28,120.39 340.48,121.07 339.69,121.75 338.89,122.44 338.09,123.12 337.30,123.78 336.50,124.44 335.70,125.08 334.91,125.71 334.11,126.32 333.31,126.90 332.52,127.45 331.72,127.97 330.92,128.45 330.13,128.89 329.33,129.29 328.53,129.63 327.74,129.92 326.94,130.16 326.14,130.33 325.35,130.43 324.55,130.46 323.75,130.42 322.96,130.30 322.16,130.09 321.36,129.80 320.57,129.42 319.77,128.95 318.97,128.39 318.18,127.75 317.38,127.02 316.58,126.20 315.79,125.30 314.99,124.30 314.19,123.21 313.40,122.04 312.60,120.78 311.80,119.45 311.01,118.05 310.21,116.60 309.41,115.10 308.62,113.58 307.82,112.04 307.02,110.49 306.22,108.95 305.43,107.42 304.63,105.92 303.83,104.46 303.04,103.06 302.24,101.71 301.44,100.45 300.65,99.27 299.85,98.19 299.05,97.22 298.26,96.38 297.46,95.67 296.66,95.10 295.87,94.70 295.07,94.46 294.27,94.41 293.48,94.56 292.68,94.93 291.88,95.53 291.09,96.33 290.29,97.31 289.49,98.46 288.70,99.77 287.90,101.22 287.10,102.81 286.31,104.52 285.51,106.34 284.71,108.26 283.92,110.27 283.12,112.35 282.32,114.49 281.53,116.68 280.73,118.92 279.93,121.17 279.14,123.45 278.34,125.73 277.54,128.00 276.75,130.26 275.95,132.50 275.15,134.70 274.36,136.86 273.56,138.96 272.76,141.00 271.96,142.97 271.17,144.85 270.37,146.64 269.57,148.32 268.78,149.91 267.98,151.40 267.18,152.80 266.39,154.12 265.59,155.36 264.79,156.52 264.00,157.61 263.20,158.63 262.40,159.59 261.61,160.50 260.81,161.35 260.01,162.16 259.22,162.92 258.42,163.64 257.62,164.33 256.83,164.99 256.03,165.61 255.23,166.21 254.44,166.77 253.64,167.31 252.84,167.83 252.05,168.32 251.25,168.79 250.45,169.23 249.66,169.66 248.86,170.07 248.06,170.45 247.27,170.83 246.47,171.19 245.67,171.53 244.88,171.86 244.08,172.19 243.28,172.50 242.49,172.80 241.69,173.10 240.89,173.39 240.10,173.68 239.30,173.97 238.50,174.25 237.71,174.54 236.91,174.82 236.11,175.11 235.31,175.40 234.52,175.69 233.72,175.98 232.92,176.27 232.13,176.55 231.33,176.82 230.53,177.07 229.74,177.30 228.94,177.51 228.14,177.69 227.35,177.84 226.55,177.95 225.75,178.03 224.96,178.06 224.16,178.05 223.36,177.99 222.57,177.90 221.77,177.76 220.97,177.60 220.18,177.40 219.38,177.18 218.58,176.94 217.79,176.67 216.99,176.39 216.19,176.10 215.40,175.80 214.60,175.49 213.80,175.18 213.01,174.87 212.21,174.56 211.41,174.26 210.62,173.97 209.82,173.69 209.02,173.43 208.23,173.20 207.43,172.98 206.63,172.79 205.84,172.63 205.04,172.49 204.24,172.38 203.45,172.29 202.65,172.22 201.85,172.18 201.05,172.16 200.26,172.16 199.46,172.18 198.66,172.22 197.87,172.28 197.07,172.35 196.27,172.45 195.48,172.56 194.68,172.69 193.88,172.83 193.09,172.99 192.29,173.16 191.49,173.35 190.70,173.55 189.90,173.76 189.10,173.99 188.31,174.22 187.51,174.47 186.71,174.72 185.92,174.99 185.12,175.26 184.32,175.54 183.53,175.83 182.73,176.12 181.93,176.42 181.14,176.73 180.34,177.04 179.54,177.36 178.75,177.67 177.95,177.99 177.15,178.32 176.36,178.64 175.56,178.97 174.76,179.29 173.97,179.61 173.17,179.94 172.37,180.26 171.58,180.58 170.78,180.89 169.98,181.20 169.19,181.51 168.39,181.81 167.59,182.11 166.79,182.40 166.00,182.68 165.20,182.95 164.40,183.22 163.61,183.48 162.81,183.73 162.01,183.96 161.22,184.19 160.42,184.40 159.62,184.61 158.83,184.79 158.03,184.97 157.23,185.13 156.44,185.28 155.64,185.41 154.84,185.53 154.05,185.63 153.25,185.72 152.45,185.80 151.66,185.87 150.86,185.92 150.06,185.97 149.27,186.00 148.47,186.03 147.67,186.05 146.88,186.06 146.08,186.06 145.28,186.06 144.49,186.05 143.69,186.04 142.89,186.02 142.10,186.00 141.30,185.98 140.50,185.95 139.71,185.92 138.91,185.90 138.11,185.87 137.32,185.84 136.52,185.81 135.72,185.78 134.93,185.76 134.13,185.74 133.33,185.72 132.54,185.70 131.74,185.69 130.94,185.68 130.14,185.67 129.35,185.66 128.55,185.65 127.75,185.63 126.96,185.62 126.16,185.60 125.36,185.58 124.57,185.55 123.77,185.52 122.97,185.48 122.18,185.44 121.38,185.40 120.58,185.34 119.79,185.28 118.99,185.21 118.19,185.12 117.40,185.03 116.60,184.92 115.80,184.81 115.01,184.68 114.21,184.53 113.41,184.37 112.62,184.20 111.82,184.01 111.02,183.80 110.23,183.58 109.43,183.34 108.63,183.08 107.84,182.80 107.04,182.50 106.24,182.18 105.45,181.84 104.65,181.47 103.85,181.09 103.06,180.69 102.26,180.27 101.46,179.84 100.67,179.40 99.87,178.97 99.07,178.55 98.28,178.15 97.48,177.78 96.68,177.43 95.88,177.13 95.09,176.87 94.29,176.66 93.49,176.50 92.70,176.36 91.90,176.25 91.10,176.19 90.31,176.18 89.51,176.22 88.71,176.30 87.92,176.43 87.12,176.60 86.32,176.83 85.53,177.09 84.73,177.41 83.93,177.76 83.14,178.17 82.34,178.62 81.54,179.12 80.75,179.68 79.95,180.29 79.15,180.93 78.36,181.61 77.56,182.33 76.76,183.08 75.97,183.85 75.17,184.65 74.37,185.47 73.58,186.31 72.78,187.15 71.98,188.01 71.19,188.88 70.39,189.74 69.59,190.61 68.80,191.47 68.00,192.32 67.20,193.17 66.41,193.99 65.61,194.80 64.81,195.59 64.02,196.35 63.22,197.09 62.42,197.79 61.63,198.45 60.83,199.08 60.03,199.66 59.23,200.20 58.44,200.69 57.64,201.12 56.84,201.51 56.05,201.85 55.25,202.14 54.45,202.37 53.66,202.56 52.86,202.69 52.06,202.78 51.27,202.81 50.47,202.79 49.67,202.72 48.88,202.60 48.08,202.43 47.28,202.20 46.49,201.93 45.69,201.60 44.89,201.21 44.10,200.78 43.30,200.30" fill="#000" fill-opacity="0.181"/>
<rect x="48.60" y="20.80" width="100.2" height="28.6" fill="#fff" stroke="#808080" stroke-width="1"/>
<circle cx="61.00" cy="28.10" r="2.9" fill="#000" fill-opacity="0.33" stroke="#5a5a5a" stroke-width="0.9"/>
<circle cx="61.00" cy="41.80" r="2.85" fill="#0000f0"/>
<text x="72.95" y="30.70" font-size="11.8" textLength="74.4" lengthAdjust="spacingAndGlyphs" fill="#2e2e2e">Estimated data</text>
<text x="72.95" y="44.60" font-size="11.8" textLength="70.2" lengthAdjust="spacingAndGlyphs" fill="#2e2e2e">Observed data</text>
<g font-size="12.1" fill="#2e2e2e"><text transform="translate(32.85,213.90) scale(1.1,1)" text-anchor="end">0</text>
<text transform="translate(32.85,174.90) scale(1.1,1)" text-anchor="end">0.2</text>
<text transform="translate(32.85,135.90) scale(1.1,1)" text-anchor="end">0.4</text>
<text transform="translate(32.85,96.90) scale(1.1,1)" text-anchor="end">0.6</text>
<text transform="translate(32.85,57.90) scale(1.1,1)" text-anchor="end">0.8</text>
<text transform="translate(32.85,18.90) scale(1.1,1)" text-anchor="end">1</text>
<text transform="translate(43.30,231.50) scale(1.1,1)" text-anchor="middle">1</text>
<text transform="translate(66.01,231.50) scale(1.1,1)" text-anchor="middle">2</text>
<text transform="translate(88.71,231.50) scale(1.1,1)" text-anchor="middle">3</text>
<text transform="translate(111.42,231.50) scale(1.1,1)" text-anchor="middle">4</text>
<text transform="translate(134.13,231.50) scale(1.1,1)" text-anchor="middle">5</text>
<text transform="translate(156.84,231.50) scale(1.1,1)" text-anchor="middle">6</text>
<text transform="translate(179.54,231.50) scale(1.1,1)" text-anchor="middle">7</text>
<text transform="translate(202.25,231.50) scale(1.1,1)" text-anchor="middle">8</text>
<text transform="translate(224.96,231.50) scale(1.1,1)" text-anchor="middle">9</text>
<text transform="translate(247.66,231.50) scale(1.1,1)" text-anchor="middle">10</text>
<text transform="translate(270.37,231.50) scale(1.1,1)" text-anchor="middle">11</text>
<text transform="translate(293.08,231.50) scale(1.1,1)" text-anchor="middle">12</text>
<text transform="translate(315.79,231.50) scale(1.1,1)" text-anchor="middle">13</text>
<text transform="translate(338.49,231.50) scale(1.1,1)" text-anchor="middle">14</text>
<text transform="translate(361.20,231.50) scale(1.1,1)" text-anchor="middle">15</text></g>
<text transform="translate(202.55,248.65) scale(1.017,1)" font-size="14.5" text-anchor="middle" fill="#2e2e2e">Time (week number)</text>
<text transform="translate(10.10,112.50) rotate(-90) scale(1.03,1)" font-size="14.5" text-anchor="middle" fill="#2e2e2e">Infected human density</text>
<g transform="translate(43.90,11.60) scale(1.15,1)" fill="#2e2e2e"><text x="-0.1" y="0.9" font-size="12.1">×</text><text x="6.7" y="0" font-size="12.1">10</text><text x="18.7" y="-4.2" font-size="8.3">−3</text></g>
<text transform="translate(185.10,275.00) scale(1.05,1)" font-size="21.2" text-anchor="middle" fill="#2e2e2e">(a)</text>
</g>
<g id="panel-b">
<path d="M445.00,211.40H771.00M452.00,15.00V218.40" stroke="#808080" stroke-width="1" fill="none"/>
<path d="M445.00,211.40H452.00M448.50,201.58H452.00M448.50,191.76H452.00M448.50,181.94H452.00M445.00,172.12H452.00M448.50,162.30H452.00M448.50,152.48H452.00M448.50,142.66H452.00M445.00,132.84H452.00M448.50,123.02H452.00M448.50,113.20H452.00M448.50,103.38H452.00M445.00,93.56H452.00M448.50,83.74H452.00M448.50,73.92H452.00M448.50,64.10H452.00M445.00,54.28H452.00M448.50,44.46H452.00M448.50,34.64H452.00M448.50,24.82H452.00M445.00,15.00H452.00M452.00,211.40V218.40M458.38,211.40V214.90M464.76,211.40V214.90M471.14,211.40V214.90M477.52,211.40V214.90M483.90,211.40V218.40M490.28,211.40V214.90M496.66,211.40V214.90M503.04,211.40V214.90M509.42,211.40V214.90M515.80,211.40V218.40M522.18,211.40V214.90M528.56,211.40V214.90M534.94,211.40V214.90M541.32,211.40V214.90M547.70,211.40V218.40M554.08,211.40V214.90M560.46,211.40V214.90M566.84,211.40V214.90M573.22,211.40V214.90M579.60,211.40V218.40M585.98,211.40V214.90M592.36,211.40V214.90M598.74,211.40V214.90M605.12,211.40V214.90M611.50,211.40V218.40M617.88,211.40V214.90M624.26,211.40V214.90M630.64,211.40V214.90M637.02,211.40V214.90M643.40,211.40V218.40M649.78,211.40V214.90M656.16,211.40V214.90M662.54,211.40V214.90M668.92,211.40V214.90M675.30,211.40V218.40M681.68,211.40V214.90M688.06,211.40V214.90M694.44,211.40V214.90M700.82,211.40V214.90M707.20,211.40V218.40M713.58,211.40V214.90M719.96,211.40V214.90M726.34,211.40V214.90M732.72,211.40V214.90M739.10,211.40V218.40M745.48,211.40V214.90M751.86,211.40V214.90M758.24,211.40V214.90M764.62,211.40V214.90M771.00,211.40V218.40" stroke="#808080" stroke-width="1" fill="none"/>
<circle cx="452.00" cy="76.20" r="2.85" fill="#0000ea"/>
<circle cx="483.90" cy="87.40" r="2.85" fill="#0000ea"/>
<circle cx="515.80" cy="93.10" r="2.85" fill="#0000ea"/>
<circle cx="547.70" cy="111.40" r="2.85" fill="#0000ea"/>
<circle cx="579.60" cy="124.80" r="2.85" fill="#0000ea"/>
<circle cx="611.50" cy="134.10" r="2.85" fill="#0000ea"/>
<circle cx="643.40" cy="140.60" r="2.85" fill="#0000ea"/>
<circle cx="675.30" cy="155.00" r="2.85" fill="#0000ea"/>
<circle cx="707.20" cy="159.50" r="2.85" fill="#0000ea"/>
<circle cx="739.10" cy="170.20" r="2.85" fill="#0000ea"/>
<circle cx="771.00" cy="164.90" r="2.85" fill="#0000ea"/>
<circle cx="452.00" cy="137.30" r="2.8" fill="#000" fill-opacity="0.3" stroke="#444" stroke-width="0.85"/>
<circle cx="483.90" cy="153.10" r="2.8" fill="#000" fill-opacity="0.3" stroke="#444" stroke-width="0.85"/>
<circle cx="515.80" cy="116.20" r="2.8" fill="#000" fill-opacity="0.3" stroke="#444" stroke-width="0.85"/>
<circle cx="547.70" cy="132.40" r="2.8" fill="#000" fill-opacity="0.3" stroke="#444" stroke-width="0.85"/>
<circle cx="579.60" cy="145.80" r="2.8" fill="#000" fill-opacity="0.3" stroke="#444" stroke-width="0.85"/>
<circle cx="611.50" cy="153.90" r="2.8" fill="#000" fill-opacity="0.3" stroke="#444" stroke-width="0.85"/>
<circle cx="643.40" cy="159.50" r="2.8" fill="#000" fill-opacity="0.3" stroke="#444" stroke-width="0.85"/>
<circle cx="675.30" cy="166.90" r="2.8" fill="#000" fill-opacity="0.3" stroke="#444" stroke-width="0.85"/>
<circle cx="707.20" cy="178.70" r="2.8" fill="#000" fill-opacity="0.3" stroke="#444" stroke-width="0.85"/>
<circle cx="739.10" cy="179.60" r="2.8" fill="#000" fill-opacity="0.3" stroke="#444" stroke-width="0.85"/>
<circle cx="771.00" cy="180.00" r="2.8" fill="#000" fill-opacity="0.3" stroke="#444" stroke-width="0.85"/>
<path d="M452.00,131.70V142.90M449.95,131.70H454.05M449.95,142.90H454.05" stroke="#f00000" stroke-width="1.6" fill="none"/>
<path d="M483.90,148.50V157.70M481.85,148.50H485.95M481.85,157.70H485.95" stroke="#f00000" stroke-width="1.6" fill="none"/>
<path d="M515.80,109.00V123.40M513.75,109.00H517.85M513.75,123.40H517.85" stroke="#f00000" stroke-width="1.6" fill="none"/>
<path d="M547.70,126.40V138.40M545.65,126.40H549.75M545.65,138.40H549.75" stroke="#f00000" stroke-width="1.6" fill="none"/>
<path d="M579.60,140.30V151.30M577.55,140.30H581.65M577.55,151.30H581.65" stroke="#f00000" stroke-width="1.6" fill="none"/>
<path d="M611.50,148.90V158.90M609.45,148.90H613.55M609.45,158.90H613.55" stroke="#f00000" stroke-width="1.6" fill="none"/>
<path d="M643.40,155.10V163.90M641.35,155.10H645.45M641.35,163.90H645.45" stroke="#f00000" stroke-width="1.6" fill="none"/>
<path d="M675.30,163.20V170.60M673.25,163.20H677.35M673.25,170.60H677.35" stroke="#f00000" stroke-width="1.6" fill="none"/>
<path d="M707.20,175.80V181.60M705.15,175.80H709.25M705.15,181.60H709.25" stroke="#f00000" stroke-width="1.6" fill="none"/>
<path d="M739.10,176.70V182.50M737.05,176.70H741.15M737.05,182.50H741.15" stroke="#f00000" stroke-width="1.6" fill="none"/>
<path d="M771.00,177.20V182.80M768.95,177.20H773.05M768.95,182.80H773.05" stroke="#f00000" stroke-width="1.6" fill="none"/>
<polygon points="452.00,115.04 452.80,117.24 453.60,119.35 454.40,121.36 455.20,123.29 456.00,125.13 456.80,126.88 457.60,128.55 458.40,130.13 459.20,131.63 459.99,133.04 460.79,134.38 461.59,135.63 462.39,136.80 463.19,137.90 463.99,138.91 464.79,139.86 465.59,140.72 466.39,141.52 467.19,142.24 467.99,142.88 468.79,143.39 469.59,143.82 470.39,144.19 471.19,144.49 471.99,144.72 472.79,144.88 473.59,144.95 474.39,144.95 475.19,144.86 475.98,144.69 476.78,144.43 477.58,144.07 478.38,143.61 479.18,143.06 479.98,142.40 480.78,141.64 481.58,140.76 482.38,139.77 483.18,138.67 483.98,137.45 484.78,136.11 485.58,134.65 486.38,133.09 487.18,131.44 487.98,129.71 488.78,127.90 489.58,126.03 490.38,124.10 491.18,122.13 491.97,120.12 492.77,118.08 493.57,116.03 494.37,113.97 495.17,111.91 495.97,109.86 496.77,107.83 497.57,105.83 498.37,103.87 499.17,101.96 499.97,100.11 500.77,98.32 501.57,96.61 502.37,94.99 503.17,93.47 503.97,92.05 504.77,90.74 505.57,89.53 506.37,88.43 507.17,87.44 507.96,86.53 508.76,85.73 509.56,85.01 510.36,84.38 511.16,83.84 511.96,83.38 512.76,82.99 513.56,82.69 514.36,82.45 515.16,82.28 515.96,82.17 516.76,82.13 517.56,82.15 518.36,82.22 519.16,82.35 519.96,82.52 520.76,82.74 521.56,83.00 522.36,83.31 523.16,83.64 523.95,84.02 524.75,84.42 525.55,84.84 526.35,85.29 527.15,85.77 527.95,86.25 528.75,86.76 529.55,87.27 530.35,87.79 531.15,88.31 531.95,88.84 532.75,89.37 533.55,89.91 534.35,90.45 535.15,91.00 535.95,91.54 536.75,92.09 537.55,92.65 538.35,93.20 539.15,93.76 539.94,94.32 540.74,94.88 541.54,95.44 542.34,96.00 543.14,96.57 543.94,97.13 544.74,97.69 545.54,98.26 546.34,98.82 547.14,99.38 547.94,99.95 548.74,100.51 549.54,101.07 550.34,101.62 551.14,102.18 551.94,102.73 552.74,103.28 553.54,103.83 554.34,104.38 555.14,104.92 555.93,105.46 556.73,105.99 557.53,106.52 558.33,107.05 559.13,107.57 559.93,108.09 560.73,108.60 561.53,109.10 562.33,109.60 563.13,110.10 563.93,110.58 564.73,111.07 565.53,111.54 566.33,112.01 567.13,112.47 567.93,112.93 568.73,113.38 569.53,113.82 570.33,114.26 571.13,114.69 571.92,115.12 572.72,115.54 573.52,115.96 574.32,116.37 575.12,116.77 575.92,117.17 576.72,117.57 577.52,117.96 578.32,118.34 579.12,118.72 579.92,119.10 580.72,119.47 581.52,119.83 582.32,120.19 583.12,120.55 583.92,120.90 584.72,121.24 585.52,121.59 586.32,121.92 587.12,122.26 587.91,122.59 588.71,122.91 589.51,123.24 590.31,123.55 591.11,123.87 591.91,124.18 592.71,124.48 593.51,124.79 594.31,125.09 595.11,125.38 595.91,125.68 596.71,125.97 597.51,126.25 598.31,126.54 599.11,126.82 599.91,127.09 600.71,127.37 601.51,127.64 602.31,127.91 603.11,128.18 603.90,128.44 604.70,128.70 605.50,128.96 606.30,129.22 607.10,129.48 607.90,129.73 608.70,129.98 609.50,130.23 610.30,130.47 611.10,130.72 611.90,130.96 612.70,131.20 613.50,131.45 614.30,131.68 615.10,131.92 615.90,132.16 616.70,132.39 617.50,132.63 618.30,132.86 619.10,133.09 619.89,133.32 620.69,133.55 621.49,133.78 622.29,134.01 623.09,134.23 623.89,134.46 624.69,134.69 625.49,134.92 626.29,135.14 627.09,135.37 627.89,135.59 628.69,135.82 629.49,136.04 630.29,136.27 631.09,136.50 631.89,136.72 632.69,136.95 633.49,137.18 634.29,137.40 635.09,137.63 635.88,137.86 636.68,138.09 637.48,138.32 638.28,138.55 639.08,138.78 639.88,139.02 640.68,139.25 641.48,139.49 642.28,139.72 643.08,139.96 643.88,140.20 644.68,140.44 645.48,140.69 646.28,140.93 647.08,141.18 647.88,141.42 648.68,141.67 649.48,141.93 650.28,142.18 651.08,142.44 651.87,142.70 652.67,142.96 653.47,143.22 654.27,143.49 655.07,143.76 655.87,144.03 656.67,144.30 657.47,144.58 658.27,144.86 659.07,145.14 659.87,145.42 660.67,145.71 661.47,146.01 662.27,146.30 663.07,146.60 663.87,146.90 664.67,147.21 665.47,147.52 666.27,147.83 667.07,148.15 667.86,148.47 668.66,148.79 669.46,149.12 670.26,149.45 671.06,149.79 671.86,150.13 672.66,150.47 673.46,150.82 674.26,151.18 675.06,151.54 675.86,151.90 676.66,152.26 677.46,152.63 678.26,153.01 679.06,153.38 679.86,153.76 680.66,154.14 681.46,154.52 682.26,154.90 683.06,155.29 683.85,155.68 684.65,156.06 685.45,156.45 686.25,156.84 687.05,157.23 687.85,157.61 688.65,158.00 689.45,158.39 690.25,158.77 691.05,159.15 691.85,159.54 692.65,159.92 693.45,160.29 694.25,160.67 695.05,161.04 695.85,161.41 696.65,161.77 697.45,162.13 698.25,162.49 699.05,162.84 699.84,163.19 700.64,163.53 701.44,163.87 702.24,164.20 703.04,164.52 703.84,164.84 704.64,165.15 705.44,165.46 706.24,165.76 707.04,166.05 707.84,166.34 708.64,166.61 709.44,166.88 710.24,167.14 711.04,167.39 711.84,167.63 712.64,167.87 713.44,168.09 714.24,168.30 715.04,168.50 715.83,168.70 716.63,168.88 717.43,169.05 718.23,169.21 719.03,169.35 719.83,169.49 720.63,169.61 721.43,169.72 722.23,169.82 723.03,169.90 723.83,169.97 724.63,170.03 725.43,170.07 726.23,170.11 727.03,170.12 727.83,170.13 728.63,170.13 729.43,170.11 730.23,170.09 731.03,170.05 731.82,170.01 732.62,169.95 733.42,169.89 734.22,169.82 735.02,169.75 735.82,169.67 736.62,169.58 737.42,169.49 738.22,169.39 739.02,169.29 739.82,169.18 740.62,169.07 741.42,168.96 742.22,168.85 743.02,168.73 743.82,168.62 744.62,168.50 745.42,168.39 746.22,168.27 747.02,168.16 747.81,168.04 748.61,167.93 749.41,167.83 750.21,167.72 751.01,167.62 751.81,167.53 752.61,167.44 753.41,167.35 754.21,167.27 755.01,167.20 755.81,167.14 756.61,167.08 757.41,167.03 758.21,166.99 759.01,166.96 759.81,166.94 760.61,166.93 761.41,166.93 762.21,166.94 763.01,166.97 763.80,167.00 764.60,167.05 765.40,167.12 766.20,167.19 767.00,167.29 767.80,167.39 768.60,167.52 769.40,167.66 770.20,167.82 771.00,167.99 771.00,190.74 770.20,190.65 769.40,190.58 768.60,190.51 767.80,190.46 767.00,190.40 766.20,190.36 765.40,190.32 764.60,190.29 763.80,190.27 763.01,190.25 762.21,190.24 761.41,190.24 760.61,190.24 759.81,190.24 759.01,190.26 758.21,190.27 757.41,190.29 756.61,190.31 755.81,190.34 755.01,190.37 754.21,190.41 753.41,190.45 752.61,190.49 751.81,190.53 751.01,190.58 750.21,190.63 749.41,190.68 748.61,190.73 747.81,190.78 747.02,190.83 746.22,190.89 745.42,190.94 744.62,191.00 743.82,191.06 743.02,191.11 742.22,191.17 741.42,191.22 740.62,191.27 739.82,191.33 739.02,191.38 738.22,191.43 737.42,191.47 736.62,191.52 735.82,191.56 735.02,191.60 734.22,191.64 733.42,191.67 732.62,191.70 731.82,191.72 731.03,191.75 730.23,191.76 729.43,191.78 728.63,191.78 727.83,191.79 727.03,191.78 726.23,191.78 725.43,191.76 724.63,191.74 723.83,191.72 723.03,191.68 722.23,191.64 721.43,191.60 720.63,191.55 719.83,191.49 719.03,191.42 718.23,191.35 717.43,191.28 716.63,191.20 715.83,191.11 715.04,191.02 714.24,190.93 713.44,190.83 712.64,190.72 711.84,190.61 711.04,190.50 710.24,190.38 709.44,190.26 708.64,190.13 707.84,190.00 707.04,189.87 706.24,189.73 705.44,189.59 704.64,189.44 703.84,189.29 703.04,189.14 702.24,188.99 701.44,188.83 700.64,188.67 699.84,188.51 699.05,188.35 698.25,188.18 697.45,188.01 696.65,187.84 695.85,187.67 695.05,187.50 694.25,187.32 693.45,187.14 692.65,186.97 691.85,186.79 691.05,186.61 690.25,186.42 689.45,186.24 688.65,186.06 687.85,185.88 687.05,185.69 686.25,185.51 685.45,185.33 684.65,185.14 683.85,184.96 683.06,184.78 682.26,184.60 681.46,184.42 680.66,184.24 679.86,184.06 679.06,183.88 678.26,183.70 677.46,183.52 676.66,183.35 675.86,183.18 675.06,183.01 674.26,182.84 673.46,182.67 672.66,182.51 671.86,182.34 671.06,182.18 670.26,182.02 669.46,181.87 668.66,181.71 667.86,181.56 667.07,181.41 666.27,181.26 665.47,181.11 664.67,180.97 663.87,180.82 663.07,180.68 662.27,180.54 661.47,180.40 660.67,180.26 659.87,180.13 659.07,179.99 658.27,179.86 657.47,179.73 656.67,179.60 655.87,179.47 655.07,179.34 654.27,179.21 653.47,179.09 652.67,178.97 651.87,178.84 651.08,178.72 650.28,178.60 649.48,178.48 648.68,178.36 647.88,178.25 647.08,178.13 646.28,178.01 645.48,177.90 644.68,177.78 643.88,177.67 643.08,177.56 642.28,177.45 641.48,177.34 640.68,177.22 639.88,177.11 639.08,177.01 638.28,176.90 637.48,176.79 636.68,176.68 635.88,176.57 635.09,176.46 634.29,176.36 633.49,176.25 632.69,176.14 631.89,176.04 631.09,175.93 630.29,175.83 629.49,175.72 628.69,175.61 627.89,175.51 627.09,175.40 626.29,175.30 625.49,175.19 624.69,175.09 623.89,174.98 623.09,174.87 622.29,174.77 621.49,174.66 620.69,174.55 619.89,174.44 619.10,174.34 618.30,174.23 617.50,174.12 616.70,174.01 615.90,173.90 615.10,173.79 614.30,173.68 613.50,173.57 612.70,173.45 611.90,173.34 611.10,173.23 610.30,173.11 609.50,173.00 608.70,172.88 607.90,172.76 607.10,172.64 606.30,172.52 605.50,172.40 604.70,172.28 603.90,172.16 603.11,172.04 602.31,171.91 601.51,171.78 600.71,171.66 599.91,171.53 599.11,171.40 598.31,171.27 597.51,171.13 596.71,171.00 595.91,170.86 595.11,170.73 594.31,170.59 593.51,170.45 592.71,170.30 591.91,170.16 591.11,170.02 590.31,169.87 589.51,169.72 588.71,169.57 587.91,169.42 587.12,169.26 586.32,169.10 585.52,168.95 584.72,168.79 583.92,168.62 583.12,168.46 582.32,168.29 581.52,168.12 580.72,167.95 579.92,167.78 579.12,167.60 578.32,167.42 577.52,167.24 576.72,167.06 575.92,166.88 575.12,166.69 574.32,166.50 573.52,166.31 572.72,166.11 571.92,165.91 571.13,165.71 570.33,165.51 569.53,165.30 568.73,165.10 567.93,164.88 567.13,164.67 566.33,164.45 565.53,164.23 564.73,164.01 563.93,163.78 563.13,163.56 562.33,163.32 561.53,163.09 560.73,162.85 559.93,162.61 559.13,162.37 558.33,162.13 557.53,161.88 556.73,161.63 555.93,161.38 555.14,161.13 554.34,160.87 553.54,160.62 552.74,160.36 551.94,160.10 551.14,159.84 550.34,159.58 549.54,159.32 548.74,159.05 547.94,158.79 547.14,158.53 546.34,158.26 545.54,158.00 544.74,157.73 543.94,157.47 543.14,157.21 542.34,156.94 541.54,156.68 540.74,156.41 539.94,156.15 539.15,155.89 538.35,155.63 537.55,155.37 536.75,155.11 535.95,154.85 535.15,154.59 534.35,154.34 533.55,154.09 532.75,153.83 531.95,153.58 531.15,153.34 530.35,153.09 529.55,152.85 528.75,152.61 527.95,152.37 527.15,152.15 526.35,151.92 525.55,151.71 524.75,151.51 523.95,151.33 523.16,151.15 522.36,151.00 521.56,150.86 520.76,150.73 519.96,150.63 519.16,150.55 518.36,150.49 517.56,150.46 516.76,150.46 515.96,150.48 515.16,150.53 514.36,150.61 513.56,150.72 512.76,150.87 511.96,151.05 511.16,151.27 510.36,151.53 509.56,151.83 508.76,152.17 507.96,152.55 507.17,152.98 506.37,153.45 505.57,153.97 504.77,154.54 503.97,155.16 503.17,155.83 502.37,156.55 501.57,157.31 500.77,158.12 499.97,158.96 499.17,159.84 498.37,160.74 497.57,161.66 496.77,162.61 495.97,163.56 495.17,164.53 494.37,165.50 493.57,166.48 492.77,167.44 491.97,168.40 491.18,169.35 490.38,170.28 489.58,171.19 488.78,172.08 487.98,172.93 487.18,173.75 486.38,174.52 485.58,175.26 484.78,175.94 483.98,176.58 483.18,177.15 482.38,177.68 481.58,178.14 480.78,178.55 479.98,178.91 479.18,179.23 478.38,179.49 477.58,179.70 476.78,179.87 475.98,180.00 475.19,180.08 474.39,180.12 473.59,180.12 472.79,180.09 471.99,180.02 471.19,179.91 470.39,179.77 469.59,179.60 468.79,179.39 467.99,179.16 467.19,178.96 466.39,178.74 465.59,178.48 464.79,178.19 463.99,177.87 463.19,177.52 462.39,177.13 461.59,176.71 460.79,176.26 459.99,175.78 459.20,175.26 458.40,174.71 457.60,174.13 456.80,173.52 456.00,172.87 455.20,172.18 454.40,171.47 453.60,170.71 452.80,169.93 452.00,169.11" fill="#000" fill-opacity="0.208"/>
<polygon points="452.00,120.99 452.80,123.03 453.60,125.00 454.40,126.87 455.20,128.67 456.00,130.38 456.80,132.01 457.60,133.56 458.40,135.03 459.20,136.43 459.99,137.74 460.79,138.98 461.59,140.15 462.39,141.24 463.19,142.25 463.99,143.20 464.79,144.07 465.59,144.88 466.39,145.61 467.19,146.28 467.99,146.87 468.79,147.35 469.59,147.76 470.39,148.11 471.19,148.39 471.99,148.60 472.79,148.75 473.59,148.82 474.39,148.82 475.19,148.74 475.98,148.57 476.78,148.33 477.58,147.99 478.38,147.56 479.18,147.04 479.98,146.42 480.78,145.70 481.58,144.87 482.38,143.94 483.18,142.90 483.98,141.75 484.78,140.49 485.58,139.12 486.38,137.65 487.18,136.10 487.98,134.46 488.78,132.76 489.58,131.00 490.38,129.18 491.18,127.32 491.97,125.43 492.77,123.51 493.57,121.58 494.37,119.64 495.17,117.69 495.97,115.76 496.77,113.85 497.57,111.97 498.37,110.12 499.17,108.32 499.97,106.58 500.77,104.90 501.57,103.29 502.37,101.76 503.17,100.33 503.97,98.99 504.77,97.75 505.57,96.62 506.37,95.59 507.17,94.65 507.96,93.80 508.76,93.04 509.56,92.36 510.36,91.77 511.16,91.26 511.96,90.82 512.76,90.46 513.56,90.17 514.36,89.95 515.16,89.79 515.96,89.69 516.76,89.65 517.56,89.66 518.36,89.73 519.16,89.85 519.96,90.01 520.76,90.22 521.56,90.47 522.36,90.75 523.16,91.07 523.95,91.42 524.75,91.80 525.55,92.20 526.35,92.62 527.15,93.07 527.95,93.53 528.75,94.00 529.55,94.48 530.35,94.97 531.15,95.46 531.95,95.96 532.75,96.46 533.55,96.97 534.35,97.48 535.15,97.99 535.95,98.51 536.75,99.02 537.55,99.55 538.35,100.07 539.15,100.59 539.94,101.12 540.74,101.65 541.54,102.18 542.34,102.71 543.14,103.24 543.94,103.77 544.74,104.30 545.54,104.83 546.34,105.36 547.14,105.89 547.94,106.42 548.74,106.95 549.54,107.47 550.34,108.00 551.14,108.52 551.94,109.04 552.74,109.56 553.54,110.08 554.34,110.59 555.14,111.10 555.93,111.61 556.73,112.11 557.53,112.61 558.33,113.11 559.13,113.60 559.93,114.08 560.73,114.57 561.53,115.04 562.33,115.51 563.13,115.98 563.93,116.44 564.73,116.89 565.53,117.34 566.33,117.78 567.13,118.21 567.93,118.64 568.73,119.07 569.53,119.49 570.33,119.90 571.13,120.31 571.92,120.71 572.72,121.11 573.52,121.50 574.32,121.88 575.12,122.27 575.92,122.64 576.72,123.01 577.52,123.38 578.32,123.74 579.12,124.10 579.92,124.45 580.72,124.80 581.52,125.14 582.32,125.48 583.12,125.82 583.92,126.15 584.72,126.47 585.52,126.80 586.32,127.11 587.12,127.43 587.91,127.74 588.71,128.05 589.51,128.35 590.31,128.65 591.11,128.94 591.91,129.24 592.71,129.52 593.51,129.81 594.31,130.09 595.11,130.37 595.91,130.65 596.71,130.92 597.51,131.19 598.31,131.46 599.11,131.72 599.91,131.98 600.71,132.24 601.51,132.50 602.31,132.75 603.11,133.00 603.90,133.25 604.70,133.50 605.50,133.74 606.30,133.98 607.10,134.22 607.90,134.46 608.70,134.70 609.50,134.93 610.30,135.16 611.10,135.40 611.90,135.62 612.70,135.85 613.50,136.08 614.30,136.30 615.10,136.53 615.90,136.75 616.70,136.97 617.50,137.19 618.30,137.41 619.10,137.63 619.89,137.84 620.69,138.06 621.49,138.28 622.29,138.49 623.09,138.71 623.89,138.92 624.69,139.13 625.49,139.35 626.29,139.56 627.09,139.77 627.89,139.98 628.69,140.20 629.49,140.41 630.29,140.62 631.09,140.83 631.89,141.05 632.69,141.26 633.49,141.47 634.29,141.69 635.09,141.90 635.88,142.12 636.68,142.33 637.48,142.55 638.28,142.77 639.08,142.99 639.88,143.21 640.68,143.43 641.48,143.65 642.28,143.87 643.08,144.10 643.88,144.32 644.68,144.55 645.48,144.78 646.28,145.01 647.08,145.24 647.88,145.47 648.68,145.71 649.48,145.95 650.28,146.19 651.08,146.43 651.87,146.67 652.67,146.92 653.47,147.17 654.27,147.42 655.07,147.67 655.87,147.93 656.67,148.18 657.47,148.44 658.27,148.71 659.07,148.97 659.87,149.24 660.67,149.51 661.47,149.79 662.27,150.07 663.07,150.35 663.87,150.63 664.67,150.92 665.47,151.21 666.27,151.51 667.07,151.80 667.86,152.11 668.66,152.41 669.46,152.72 670.26,153.03 671.06,153.35 671.86,153.67 672.66,154.00 673.46,154.33 674.26,154.66 675.06,155.00 675.86,155.34 676.66,155.68 677.46,156.03 678.26,156.38 679.06,156.74 679.86,157.09 680.66,157.45 681.46,157.81 682.26,158.17 683.06,158.53 683.85,158.90 684.65,159.26 685.45,159.63 686.25,159.99 687.05,160.36 687.85,160.72 688.65,161.09 689.45,161.45 690.25,161.81 691.05,162.17 691.85,162.53 692.65,162.89 693.45,163.25 694.25,163.60 695.05,163.95 695.85,164.29 696.65,164.64 697.45,164.98 698.25,165.31 699.05,165.65 699.84,165.97 700.64,166.29 701.44,166.61 702.24,166.92 703.04,167.23 703.84,167.53 704.64,167.83 705.44,168.11 706.24,168.40 707.04,168.67 707.84,168.94 708.64,169.20 709.44,169.45 710.24,169.70 711.04,169.93 711.84,170.16 712.64,170.38 713.44,170.59 714.24,170.79 715.04,170.98 715.83,171.16 716.63,171.33 717.43,171.49 718.23,171.64 719.03,171.78 719.83,171.91 720.63,172.02 721.43,172.13 722.23,172.22 723.03,172.30 723.83,172.37 724.63,172.42 725.43,172.46 726.23,172.49 727.03,172.51 727.83,172.51 728.63,172.51 729.43,172.49 730.23,172.47 731.03,172.44 731.82,172.40 732.62,172.35 733.42,172.29 734.22,172.22 735.02,172.15 735.82,172.08 736.62,171.99 737.42,171.91 738.22,171.81 739.02,171.72 739.82,171.62 740.62,171.52 741.42,171.41 742.22,171.30 743.02,171.20 743.82,171.09 744.62,170.98 745.42,170.87 746.22,170.76 747.02,170.65 747.81,170.55 748.61,170.44 749.41,170.34 750.21,170.24 751.01,170.15 751.81,170.06 752.61,169.97 753.41,169.89 754.21,169.82 755.01,169.75 755.81,169.69 756.61,169.64 757.41,169.59 758.21,169.55 759.01,169.52 759.81,169.50 760.61,169.49 761.41,169.49 762.21,169.50 763.01,169.53 763.80,169.56 764.60,169.61 765.40,169.67 766.20,169.74 767.00,169.83 767.80,169.93 768.60,170.05 769.40,170.18 770.20,170.33 771.00,170.49 771.00,188.23 770.20,188.14 769.40,188.06 768.60,187.98 767.80,187.92 767.00,187.86 766.20,187.81 765.40,187.77 764.60,187.74 763.80,187.71 763.01,187.69 762.21,187.68 761.41,187.67 760.61,187.68 759.81,187.68 759.01,187.69 758.21,187.71 757.41,187.73 756.61,187.76 755.81,187.79 755.01,187.82 754.21,187.86 753.41,187.91 752.61,187.95 751.81,188.00 751.01,188.05 750.21,188.11 749.41,188.16 748.61,188.22 747.81,188.28 747.02,188.34 746.22,188.40 745.42,188.46 744.62,188.53 743.82,188.59 743.02,188.65 742.22,188.71 741.42,188.77 740.62,188.83 739.82,188.89 739.02,188.95 738.22,189.00 737.42,189.06 736.62,189.11 735.82,189.15 735.02,189.20 734.22,189.24 733.42,189.27 732.62,189.31 731.82,189.34 731.03,189.36 730.23,189.38 729.43,189.39 728.63,189.40 727.83,189.41 727.03,189.40 726.23,189.39 725.43,189.38 724.63,189.35 723.83,189.32 723.03,189.29 722.23,189.24 721.43,189.19 720.63,189.13 719.83,189.07 719.03,189.00 718.23,188.92 717.43,188.83 716.63,188.74 715.83,188.65 715.04,188.55 714.24,188.44 713.44,188.33 712.64,188.21 711.84,188.08 711.04,187.96 710.24,187.82 709.44,187.69 708.64,187.54 707.84,187.40 707.04,187.25 706.24,187.09 705.44,186.93 704.64,186.77 703.84,186.60 703.04,186.43 702.24,186.26 701.44,186.09 700.64,185.91 699.84,185.73 699.05,185.54 698.25,185.35 697.45,185.17 696.65,184.97 695.85,184.78 695.05,184.59 694.25,184.39 693.45,184.19 692.65,183.99 691.85,183.79 691.05,183.59 690.25,183.38 689.45,183.18 688.65,182.97 687.85,182.77 687.05,182.56 686.25,182.36 685.45,182.15 684.65,181.95 683.85,181.74 683.06,181.54 682.26,181.33 681.46,181.13 680.66,180.93 679.86,180.72 679.06,180.52 678.26,180.32 677.46,180.13 676.66,179.93 675.86,179.74 675.06,179.54 674.26,179.35 673.46,179.17 672.66,178.98 671.86,178.80 671.06,178.62 670.26,178.44 669.46,178.26 668.66,178.09 667.86,177.92 667.07,177.75 666.27,177.58 665.47,177.42 664.67,177.25 663.87,177.09 663.07,176.93 662.27,176.77 661.47,176.62 660.67,176.46 659.87,176.31 659.07,176.16 658.27,176.01 657.47,175.86 656.67,175.71 655.87,175.57 655.07,175.43 654.27,175.28 653.47,175.14 652.67,175.00 651.87,174.87 651.08,174.73 650.28,174.59 649.48,174.46 648.68,174.33 647.88,174.20 647.08,174.06 646.28,173.93 645.48,173.80 644.68,173.68 643.88,173.55 643.08,173.42 642.28,173.30 641.48,173.17 640.68,173.05 639.88,172.92 639.08,172.80 638.28,172.68 637.48,172.56 636.68,172.43 635.88,172.31 635.09,172.19 634.29,172.07 633.49,171.95 632.69,171.83 631.89,171.71 631.09,171.59 630.29,171.48 629.49,171.36 628.69,171.24 627.89,171.12 627.09,171.00 626.29,170.88 625.49,170.76 624.69,170.64 623.89,170.52 623.09,170.40 622.29,170.28 621.49,170.16 620.69,170.04 619.89,169.92 619.10,169.80 618.30,169.68 617.50,169.55 616.70,169.43 615.90,169.31 615.10,169.18 614.30,169.06 613.50,168.93 612.70,168.81 611.90,168.68 611.10,168.55 610.30,168.42 609.50,168.29 608.70,168.16 607.90,168.03 607.10,167.89 606.30,167.76 605.50,167.63 604.70,167.49 603.90,167.35 603.11,167.21 602.31,167.07 601.51,166.93 600.71,166.79 599.91,166.64 599.11,166.49 598.31,166.35 597.51,166.20 596.71,166.05 595.91,165.89 595.11,165.74 594.31,165.58 593.51,165.42 592.71,165.26 591.91,165.10 591.11,164.94 590.31,164.77 589.51,164.61 588.71,164.44 587.91,164.26 587.12,164.09 586.32,163.91 585.52,163.74 584.72,163.56 583.92,163.37 583.12,163.19 582.32,163.00 581.52,162.81 580.72,162.62 579.92,162.42 579.12,162.23 578.32,162.03 577.52,161.82 576.72,161.62 575.92,161.41 575.12,161.20 574.32,160.98 573.52,160.77 572.72,160.55 571.92,160.33 571.13,160.10 570.33,159.87 569.53,159.64 568.73,159.41 567.93,159.17 567.13,158.93 566.33,158.68 565.53,158.44 564.73,158.19 563.93,157.93 563.13,157.68 562.33,157.41 561.53,157.15 560.73,156.88 559.93,156.61 559.13,156.34 558.33,156.07 557.53,155.79 556.73,155.51 555.93,155.23 555.14,154.94 554.34,154.66 553.54,154.37 552.74,154.08 551.94,153.79 551.14,153.50 550.34,153.20 549.54,152.91 548.74,152.61 547.94,152.32 547.14,152.02 546.34,151.73 545.54,151.43 544.74,151.13 543.94,150.83 543.14,150.54 542.34,150.24 541.54,149.94 540.74,149.65 539.94,149.35 539.15,149.05 538.35,148.76 537.55,148.47 536.75,148.18 535.95,147.89 535.15,147.60 534.35,147.31 533.55,147.03 532.75,146.74 531.95,146.46 531.15,146.18 530.35,145.91 529.55,145.63 528.75,145.36 527.95,145.10 527.15,144.84 526.35,144.60 525.55,144.36 524.75,144.13 523.95,143.92 523.16,143.73 522.36,143.55 521.56,143.39 520.76,143.25 519.96,143.14 519.16,143.05 518.36,142.98 517.56,142.95 516.76,142.94 515.96,142.96 515.16,143.02 514.36,143.11 513.56,143.24 512.76,143.40 511.96,143.61 511.16,143.86 510.36,144.15 509.56,144.48 508.76,144.86 507.96,145.29 507.17,145.77 506.37,146.30 505.57,146.88 504.77,147.52 503.97,148.21 503.17,148.97 502.37,149.78 501.57,150.64 500.77,151.54 499.97,152.49 499.17,153.47 498.37,154.48 497.57,155.52 496.77,156.58 495.97,157.66 495.17,158.74 494.37,159.83 493.57,160.93 492.77,162.01 491.97,163.09 491.18,164.16 490.38,165.20 489.58,166.22 488.78,167.22 487.98,168.17 487.18,169.09 486.38,169.97 485.58,170.79 484.78,171.56 483.98,172.27 483.18,172.92 482.38,173.51 481.58,174.03 480.78,174.49 479.98,174.90 479.18,175.25 478.38,175.54 477.58,175.78 476.78,175.97 475.98,176.11 475.19,176.21 474.39,176.25 473.59,176.26 472.79,176.22 471.99,176.13 471.19,176.01 470.39,175.86 469.59,175.66 468.79,175.43 467.99,175.17 467.19,174.92 466.39,174.64 465.59,174.33 464.79,173.97 463.99,173.58 463.19,173.16 462.39,172.70 461.59,172.19 460.79,171.66 459.99,171.08 459.20,170.46 458.40,169.81 457.60,169.12 456.80,168.39 456.00,167.61 455.20,166.80 454.40,165.95 453.60,165.06 452.80,164.13 452.00,163.16" fill="#000" fill-opacity="0.178"/>
<polygon points="452.00,130.72 452.80,132.52 453.60,134.24 454.40,135.89 455.20,137.47 456.00,138.97 456.80,140.41 457.60,141.77 458.40,143.06 459.20,144.28 459.99,145.44 460.79,146.52 461.59,147.54 462.39,148.50 463.19,149.39 463.99,150.21 464.79,150.97 465.59,151.67 466.39,152.31 467.19,152.89 467.99,153.40 468.79,153.83 469.59,154.20 470.39,154.51 471.19,154.76 471.99,154.96 472.79,155.09 473.59,155.15 474.39,155.15 475.19,155.08 475.98,154.93 476.78,154.71 477.58,154.40 478.38,154.02 479.18,153.55 479.98,152.99 480.78,152.34 481.58,151.60 482.38,150.77 483.18,149.83 483.98,148.80 484.78,147.66 485.58,146.43 486.38,145.11 487.18,143.71 487.98,142.24 488.78,140.71 489.58,139.13 490.38,137.49 491.18,135.82 491.97,134.12 492.77,132.40 493.57,130.66 494.37,128.91 495.17,127.17 495.97,125.43 496.77,123.71 497.57,122.02 498.37,120.36 499.17,118.74 499.97,117.17 500.77,115.66 501.57,114.22 502.37,112.84 503.17,111.55 503.97,110.35 504.77,109.24 505.57,108.22 506.37,107.29 507.17,106.44 507.96,105.68 508.76,105.00 509.56,104.39 510.36,103.86 511.16,103.40 511.96,103.00 512.76,102.68 513.56,102.42 514.36,102.21 515.16,102.07 515.96,101.98 516.76,101.95 517.56,101.96 518.36,102.02 519.16,102.13 519.96,102.27 520.76,102.46 521.56,102.68 522.36,102.94 523.16,103.22 523.95,103.54 524.75,103.87 525.55,104.24 526.35,104.62 527.15,105.02 527.95,105.43 528.75,105.85 529.55,106.29 530.35,106.73 531.15,107.17 531.95,107.62 532.75,108.07 533.55,108.52 534.35,108.98 535.15,109.44 535.95,109.90 536.75,110.37 537.55,110.84 538.35,111.30 539.15,111.78 539.94,112.25 540.74,112.72 541.54,113.20 542.34,113.67 543.14,114.15 543.94,114.63 544.74,115.11 545.54,115.58 546.34,116.06 547.14,116.54 547.94,117.01 548.74,117.49 549.54,117.96 550.34,118.43 551.14,118.90 551.94,119.37 552.74,119.84 553.54,120.30 554.34,120.76 555.14,121.22 555.93,121.67 556.73,122.13 557.53,122.58 558.33,123.02 559.13,123.46 559.93,123.90 560.73,124.33 561.53,124.76 562.33,125.18 563.13,125.60 563.93,126.01 564.73,126.42 565.53,126.82 566.33,127.22 567.13,127.61 567.93,128.00 568.73,128.38 569.53,128.75 570.33,129.12 571.13,129.49 571.92,129.85 572.72,130.21 573.52,130.56 574.32,130.91 575.12,131.25 575.92,131.59 576.72,131.92 577.52,132.25 578.32,132.58 579.12,132.90 579.92,133.21 580.72,133.53 581.52,133.84 582.32,134.14 583.12,134.44 583.92,134.74 584.72,135.03 585.52,135.32 586.32,135.61 587.12,135.89 587.91,136.17 588.71,136.44 589.51,136.72 590.31,136.98 591.11,137.25 591.91,137.51 592.71,137.77 593.51,138.03 594.31,138.28 595.11,138.53 595.91,138.78 596.71,139.03 597.51,139.27 598.31,139.51 599.11,139.75 599.91,139.98 600.71,140.21 601.51,140.44 602.31,140.67 603.11,140.90 603.90,141.12 604.70,141.34 605.50,141.56 606.30,141.78 607.10,141.99 607.90,142.21 608.70,142.42 609.50,142.63 610.30,142.84 611.10,143.05 611.90,143.25 612.70,143.46 613.50,143.66 614.30,143.86 615.10,144.06 615.90,144.26 616.70,144.46 617.50,144.66 618.30,144.86 619.10,145.05 619.89,145.25 620.69,145.44 621.49,145.63 622.29,145.83 623.09,146.02 623.89,146.21 624.69,146.40 625.49,146.60 626.29,146.79 627.09,146.98 627.89,147.17 628.69,147.36 629.49,147.55 630.29,147.74 631.09,147.93 631.89,148.12 632.69,148.32 633.49,148.51 634.29,148.70 635.09,148.89 635.88,149.09 636.68,149.28 637.48,149.48 638.28,149.67 639.08,149.87 639.88,150.06 640.68,150.26 641.48,150.46 642.28,150.66 643.08,150.86 643.88,151.07 644.68,151.27 645.48,151.48 646.28,151.68 647.08,151.89 647.88,152.10 648.68,152.31 649.48,152.53 650.28,152.74 651.08,152.96 651.87,153.18 652.67,153.40 653.47,153.62 654.27,153.85 655.07,154.08 655.87,154.30 656.67,154.54 657.47,154.77 658.27,155.01 659.07,155.25 659.87,155.49 660.67,155.73 661.47,155.98 662.27,156.23 663.07,156.48 663.87,156.74 664.67,157.00 665.47,157.26 666.27,157.52 667.07,157.79 667.86,158.06 668.66,158.34 669.46,158.62 670.26,158.90 671.06,159.18 671.86,159.47 672.66,159.76 673.46,160.06 674.26,160.36 675.06,160.66 675.86,160.97 676.66,161.28 677.46,161.59 678.26,161.91 679.06,162.22 679.86,162.54 680.66,162.87 681.46,163.19 682.26,163.52 683.06,163.84 683.85,164.17 684.65,164.50 685.45,164.83 686.25,165.15 687.05,165.48 687.85,165.81 688.65,166.14 689.45,166.47 690.25,166.79 691.05,167.12 691.85,167.44 692.65,167.76 693.45,168.08 694.25,168.40 695.05,168.71 695.85,169.02 696.65,169.33 697.45,169.64 698.25,169.94 699.05,170.24 699.84,170.53 700.64,170.82 701.44,171.11 702.24,171.39 703.04,171.66 703.84,171.93 704.64,172.20 705.44,172.46 706.24,172.71 707.04,172.96 707.84,173.20 708.64,173.43 709.44,173.66 710.24,173.88 711.04,174.09 711.84,174.30 712.64,174.49 713.44,174.68 714.24,174.86 715.04,175.03 715.83,175.20 716.63,175.35 717.43,175.49 718.23,175.63 719.03,175.75 719.83,175.87 720.63,175.97 721.43,176.07 722.23,176.15 723.03,176.22 723.83,176.28 724.63,176.33 725.43,176.36 726.23,176.39 727.03,176.41 727.83,176.41 728.63,176.41 729.43,176.39 730.23,176.37 731.03,176.34 731.82,176.30 732.62,176.26 733.42,176.21 734.22,176.15 735.02,176.09 735.82,176.02 736.62,175.94 737.42,175.86 738.22,175.78 739.02,175.69 739.82,175.60 740.62,175.51 741.42,175.42 742.22,175.32 743.02,175.22 743.82,175.13 744.62,175.03 745.42,174.93 746.22,174.83 747.02,174.73 747.81,174.64 748.61,174.54 749.41,174.45 750.21,174.36 751.01,174.28 751.81,174.20 752.61,174.12 753.41,174.05 754.21,173.98 755.01,173.92 755.81,173.87 756.61,173.82 757.41,173.78 758.21,173.74 759.01,173.72 759.81,173.70 760.61,173.69 761.41,173.69 762.21,173.70 763.01,173.72 763.80,173.75 764.60,173.79 765.40,173.85 766.20,173.91 767.00,173.99 767.80,174.08 768.60,174.19 769.40,174.31 770.20,174.44 771.00,174.59 771.00,184.14 770.20,184.03 769.40,183.93 768.60,183.84 767.80,183.77 767.00,183.70 766.20,183.64 765.40,183.59 764.60,183.55 763.80,183.52 763.01,183.50 762.21,183.49 761.41,183.48 760.61,183.48 759.81,183.49 759.01,183.50 758.21,183.52 757.41,183.55 756.61,183.58 755.81,183.61 755.01,183.65 754.21,183.70 753.41,183.75 752.61,183.80 751.81,183.86 751.01,183.92 750.21,183.98 749.41,184.05 748.61,184.12 747.81,184.19 747.02,184.26 746.22,184.33 745.42,184.40 744.62,184.48 743.82,184.55 743.02,184.62 742.22,184.69 741.42,184.77 740.62,184.84 739.82,184.91 739.02,184.97 738.22,185.04 737.42,185.10 736.62,185.16 735.82,185.21 735.02,185.26 734.22,185.31 733.42,185.35 732.62,185.39 731.82,185.43 731.03,185.45 730.23,185.48 729.43,185.49 728.63,185.50 727.83,185.51 727.03,185.50 726.23,185.49 725.43,185.47 724.63,185.45 723.83,185.41 723.03,185.37 722.23,185.31 721.43,185.25 720.63,185.18 719.83,185.11 719.03,185.02 718.23,184.93 717.43,184.83 716.63,184.73 715.83,184.61 715.04,184.49 714.24,184.37 713.44,184.23 712.64,184.09 711.84,183.95 711.04,183.80 710.24,183.64 709.44,183.48 708.64,183.31 707.84,183.14 707.04,182.96 706.24,182.78 705.44,182.59 704.64,182.40 703.84,182.20 703.04,182.00 702.24,181.80 701.44,181.59 700.64,181.38 699.84,181.17 699.05,180.95 698.25,180.73 697.45,180.51 696.65,180.28 695.85,180.05 695.05,179.82 694.25,179.59 693.45,179.36 692.65,179.12 691.85,178.88 691.05,178.64 690.25,178.41 689.45,178.16 688.65,177.92 687.85,177.68 687.05,177.44 686.25,177.20 685.45,176.95 684.65,176.71 683.85,176.47 683.06,176.23 682.26,175.99 681.46,175.75 680.66,175.51 679.86,175.27 679.06,175.03 678.26,174.80 677.46,174.57 676.66,174.34 675.86,174.11 675.06,173.88 674.26,173.66 673.46,173.43 672.66,173.22 671.86,173.00 671.06,172.79 670.26,172.58 669.46,172.37 668.66,172.16 667.86,171.96 667.07,171.76 666.27,171.56 665.47,171.37 664.67,171.18 663.87,170.98 663.07,170.80 662.27,170.61 661.47,170.43 660.67,170.24 659.87,170.06 659.07,169.88 658.27,169.71 657.47,169.53 656.67,169.36 655.87,169.19 655.07,169.02 654.27,168.85 653.47,168.69 652.67,168.52 651.87,168.36 651.08,168.20 650.28,168.04 649.48,167.88 648.68,167.72 647.88,167.57 647.08,167.41 646.28,167.26 645.48,167.11 644.68,166.96 643.88,166.80 643.08,166.66 642.28,166.51 641.48,166.36 640.68,166.21 639.88,166.07 639.08,165.92 638.28,165.78 637.48,165.63 636.68,165.49 635.88,165.35 635.09,165.20 634.29,165.06 633.49,164.92 632.69,164.78 631.89,164.64 631.09,164.50 630.29,164.36 629.49,164.21 628.69,164.07 627.89,163.93 627.09,163.79 626.29,163.65 625.49,163.51 624.69,163.37 623.89,163.23 623.09,163.09 622.29,162.95 621.49,162.80 620.69,162.66 619.89,162.52 619.10,162.37 618.30,162.23 617.50,162.09 616.70,161.94 615.90,161.79 615.10,161.65 614.30,161.50 613.50,161.35 612.70,161.20 611.90,161.05 611.10,160.90 610.30,160.75 609.50,160.59 608.70,160.44 607.90,160.28 607.10,160.12 606.30,159.97 605.50,159.81 604.70,159.64 603.90,159.48 603.11,159.32 602.31,159.15 601.51,158.98 600.71,158.81 599.91,158.64 599.11,158.47 598.31,158.29 597.51,158.12 596.71,157.94 595.91,157.76 595.11,157.58 594.31,157.39 593.51,157.21 592.71,157.02 591.91,156.83 591.11,156.63 590.31,156.44 589.51,156.24 588.71,156.04 587.91,155.84 587.12,155.63 586.32,155.42 585.52,155.21 584.72,155.00 583.92,154.78 583.12,154.56 582.32,154.34 581.52,154.12 580.72,153.89 579.92,153.66 579.12,153.43 578.32,153.19 577.52,152.95 576.72,152.71 575.92,152.46 575.12,152.21 574.32,151.96 573.52,151.71 572.72,151.45 571.92,151.18 571.13,150.92 570.33,150.65 569.53,150.38 568.73,150.10 567.93,149.82 567.13,149.53 566.33,149.24 565.53,148.95 564.73,148.66 563.93,148.36 563.13,148.05 562.33,147.75 561.53,147.43 560.73,147.12 559.93,146.80 559.13,146.48 558.33,146.15 557.53,145.83 556.73,145.49 555.93,145.16 555.14,144.83 554.34,144.49 553.54,144.15 552.74,143.81 551.94,143.46 551.14,143.12 550.34,142.77 549.54,142.42 548.74,142.08 547.94,141.73 547.14,141.38 546.34,141.03 545.54,140.67 544.74,140.32 543.94,139.97 543.14,139.62 542.34,139.27 541.54,138.92 540.74,138.57 539.94,138.22 539.15,137.87 538.35,137.52 537.55,137.18 536.75,136.83 535.95,136.49 535.15,136.15 534.35,135.81 533.55,135.48 532.75,135.14 531.95,134.81 531.15,134.48 530.35,134.15 529.55,133.83 528.75,133.51 527.95,133.20 527.15,132.90 526.35,132.60 525.55,132.32 524.75,132.06 523.95,131.81 523.16,131.58 522.36,131.37 521.56,131.18 520.76,131.02 519.96,130.88 519.16,130.77 518.36,130.70 517.56,130.65 516.76,130.64 515.96,130.67 515.16,130.74 514.36,130.84 513.56,130.99 512.76,131.19 511.96,131.43 511.16,131.72 510.36,132.06 509.56,132.45 508.76,132.90 507.96,133.41 507.17,133.97 506.37,134.59 505.57,135.28 504.77,136.04 503.97,136.85 503.17,137.74 502.37,138.70 501.57,139.71 500.77,140.78 499.97,141.89 499.17,143.05 498.37,144.25 497.57,145.47 496.77,146.72 495.97,147.99 495.17,149.27 494.37,150.56 493.57,151.85 492.77,153.13 491.97,154.40 491.18,155.66 490.38,156.89 489.58,158.10 488.78,159.27 487.98,160.39 487.18,161.48 486.38,162.51 485.58,163.48 484.78,164.39 483.98,165.23 483.18,165.99 482.38,166.68 481.58,167.30 480.78,167.85 479.98,168.33 479.18,168.74 478.38,169.08 477.58,169.37 476.78,169.59 475.98,169.76 475.19,169.87 474.39,169.92 473.59,169.93 472.79,169.88 471.99,169.78 471.19,169.64 470.39,169.45 469.59,169.22 468.79,168.95 467.99,168.64 467.19,168.31 466.39,167.94 465.59,167.53 464.79,167.07 463.99,166.57 463.19,166.03 462.39,165.44 461.59,164.80 460.79,164.12 459.99,163.39 459.20,162.61 458.40,161.78 457.60,160.91 456.80,159.99 456.00,159.02 455.20,158.00 454.40,156.94 453.60,155.82 452.80,154.65 452.00,153.43" fill="#000" fill-opacity="0.181"/>
<rect x="665.20" y="20.60" width="100.2" height="28.6" fill="#fff" stroke="#808080" stroke-width="1"/>
<circle cx="677.60" cy="27.90" r="2.9" fill="#000" fill-opacity="0.33" stroke="#5a5a5a" stroke-width="0.9"/>
<circle cx="677.60" cy="41.60" r="2.85" fill="#0000f0"/>
<text x="689.55" y="30.50" font-size="11.8" textLength="74.4" lengthAdjust="spacingAndGlyphs" fill="#2e2e2e">Estimated data</text>
<text x="689.55" y="44.40" font-size="11.8" textLength="70.2" lengthAdjust="spacingAndGlyphs" fill="#2e2e2e">Observed data</text>
<g font-size="12.1" fill="#2e2e2e"><text transform="translate(441.55,214.80) scale(1.1,1)" text-anchor="end">0</text>
<text transform="translate(441.55,175.52) scale(1.1,1)" text-anchor="end">0.2</text>
<text transform="translate(441.55,136.24) scale(1.1,1)" text-anchor="end">0.4</text>
<text transform="translate(441.55,96.96) scale(1.1,1)" text-anchor="end">0.6</text>
<text transform="translate(441.55,57.68) scale(1.1,1)" text-anchor="end">0.8</text>
<text transform="translate(441.55,18.40) scale(1.1,1)" text-anchor="end">1</text>
<text transform="translate(452.00,232.40) scale(1.1,1)" text-anchor="middle">15</text>
<text transform="translate(483.90,232.40) scale(1.1,1)" text-anchor="middle">16</text>
<text transform="translate(515.80,232.40) scale(1.1,1)" text-anchor="middle">17</text>
<text transform="translate(547.70,232.40) scale(1.1,1)" text-anchor="middle">18</text>
<text transform="translate(579.60,232.40) scale(1.1,1)" text-anchor="middle">19</text>
<text transform="translate(611.50,232.40) scale(1.1,1)" text-anchor="middle">20</text>
<text transform="translate(643.40,232.40) scale(1.1,1)" text-anchor="middle">21</text>
<text transform="translate(675.30,232.40) scale(1.1,1)" text-anchor="middle">22</text>
<text transform="translate(707.20,232.40) scale(1.1,1)" text-anchor="middle">23</text>
<text transform="translate(739.10,232.40) scale(1.1,1)" text-anchor="middle">24</text>
<text transform="translate(771.00,232.40) scale(1.1,1)" text-anchor="middle">25</text></g>
<text transform="translate(611.80,249.55) scale(1.017,1)" font-size="14.5" text-anchor="middle" fill="#2e2e2e">Time (week number)</text>
<text transform="translate(418.80,112.70) rotate(-90) scale(1.03,1)" font-size="14.5" text-anchor="middle" fill="#2e2e2e">Infected human density</text>
<g transform="translate(452.60,11.10) scale(1.15,1)" fill="#2e2e2e"><text x="-0.1" y="0.9" font-size="12.1">×</text><text x="6.7" y="0" font-size="12.1">10</text><text x="18.7" y="-4.2" font-size="8.3">−3</text></g>
<text transform="translate(593.90,275.90) scale(1.05,1)" font-size="21.2" text-anchor="middle" fill="#2e2e2e">(b)</text>
</g>
<g id="panel-c">
<path d="M36.40,502.20H362.70M43.40,305.30V509.20" stroke="#808080" stroke-width="1" fill="none"/>
<path d="M36.40,502.20H43.40M39.90,492.36H43.40M39.90,482.51H43.40M39.90,472.66H43.40M36.40,462.82H43.40M39.90,452.98H43.40M39.90,443.13H43.40M39.90,433.28H43.40M36.40,423.44H43.40M39.90,413.60H43.40M39.90,403.75H43.40M39.90,393.90H43.40M36.40,384.06H43.40M39.90,374.22H43.40M39.90,364.37H43.40M39.90,354.52H43.40M36.40,344.68H43.40M39.90,334.83H43.40M39.90,324.99H43.40M39.90,315.14H43.40M36.40,305.30H43.40M43.40,502.20V509.20M47.96,502.20V505.70M52.52,502.20V505.70M57.08,502.20V505.70M61.65,502.20V505.70M66.21,502.20V509.20M70.77,502.20V505.70M75.33,502.20V505.70M79.89,502.20V505.70M84.45,502.20V505.70M89.01,502.20V509.20M93.58,502.20V505.70M98.14,502.20V505.70M102.70,502.20V505.70M107.26,502.20V505.70M111.82,502.20V509.20M116.38,502.20V505.70M120.94,502.20V505.70M125.51,502.20V505.70M130.07,502.20V505.70M134.63,502.20V509.20M139.19,502.20V505.70M143.75,502.20V505.70M148.31,502.20V505.70M152.87,502.20V505.70M157.44,502.20V509.20M162.00,502.20V505.70M166.56,502.20V505.70M171.12,502.20V505.70M175.68,502.20V505.70M180.24,502.20V509.20M184.80,502.20V505.70M189.37,502.20V505.70M193.93,502.20V505.70M198.49,502.20V505.70M203.05,502.20V509.20M207.61,502.20V505.70M212.17,502.20V505.70M216.73,502.20V505.70M221.30,502.20V505.70M225.86,502.20V509.20M230.42,502.20V505.70M234.98,502.20V505.70M239.54,502.20V505.70M244.10,502.20V505.70M248.66,502.20V509.20M253.23,502.20V505.70M257.79,502.20V505.70M262.35,502.20V505.70M266.91,502.20V505.70M271.47,502.20V509.20M276.03,502.20V505.70M280.59,502.20V505.70M285.16,502.20V505.70M289.72,502.20V505.70M294.28,502.20V509.20M298.84,502.20V505.70M303.40,502.20V505.70M307.96,502.20V505.70M312.52,502.20V505.70M317.09,502.20V509.20M321.65,502.20V505.70M326.21,502.20V505.70M330.77,502.20V505.70M335.33,502.20V505.70M339.89,502.20V509.20M344.45,502.20V505.70M349.02,502.20V505.70M353.58,502.20V505.70M358.14,502.20V505.70M362.70,502.20V509.20" stroke="#808080" stroke-width="1" fill="none"/>
<circle cx="43.40" cy="456.20" r="2.85" fill="#0000ea"/>
<circle cx="66.21" cy="455.30" r="2.85" fill="#0000ea"/>
<circle cx="89.01" cy="454.70" r="2.85" fill="#0000ea"/>
<circle cx="111.82" cy="453.40" r="2.85" fill="#0000ea"/>
<circle cx="134.63" cy="452.00" r="2.85" fill="#0000ea"/>
<circle cx="157.44" cy="446.90" r="2.85" fill="#0000ea"/>
<circle cx="180.24" cy="448.00" r="2.85" fill="#0000ea"/>
<circle cx="203.05" cy="449.20" r="2.85" fill="#0000ea"/>
<circle cx="225.86" cy="445.90" r="2.85" fill="#0000ea"/>
<circle cx="248.66" cy="436.80" r="2.85" fill="#0000ea"/>
<circle cx="271.47" cy="425.60" r="2.85" fill="#0000ea"/>
<circle cx="294.28" cy="412.60" r="2.85" fill="#0000ea"/>
<circle cx="317.09" cy="398.40" r="2.85" fill="#0000ea"/>
<circle cx="339.89" cy="395.60" r="2.85" fill="#0000ea"/>
<circle cx="362.70" cy="373.60" r="2.85" fill="#0000ea"/>
<circle cx="43.40" cy="460.90" r="2.8" fill="#000" fill-opacity="0.3" stroke="#444" stroke-width="0.85"/>
<circle cx="66.21" cy="459.50" r="2.8" fill="#000" fill-opacity="0.3" stroke="#444" stroke-width="0.85"/>
<circle cx="89.01" cy="463.70" r="2.8" fill="#000" fill-opacity="0.3" stroke="#444" stroke-width="0.85"/>
<circle cx="111.82" cy="466.50" r="2.8" fill="#000" fill-opacity="0.3" stroke="#444" stroke-width="0.85"/>
<circle cx="134.63" cy="464.20" r="2.8" fill="#000" fill-opacity="0.3" stroke="#444" stroke-width="0.85"/>
<circle cx="157.44" cy="468.10" r="2.8" fill="#000" fill-opacity="0.3" stroke="#444" stroke-width="0.85"/>
<circle cx="180.24" cy="452.70" r="2.8" fill="#000" fill-opacity="0.3" stroke="#444" stroke-width="0.85"/>
<circle cx="203.05" cy="457.40" r="2.8" fill="#000" fill-opacity="0.3" stroke="#444" stroke-width="0.85"/>
<circle cx="225.86" cy="436.50" r="2.8" fill="#000" fill-opacity="0.3" stroke="#444" stroke-width="0.85"/>
<circle cx="248.66" cy="445.10" r="2.8" fill="#000" fill-opacity="0.3" stroke="#444" stroke-width="0.85"/>
<circle cx="271.47" cy="457.50" r="2.8" fill="#000" fill-opacity="0.3" stroke="#444" stroke-width="0.85"/>
<circle cx="294.28" cy="443.50" r="2.8" fill="#000" fill-opacity="0.3" stroke="#444" stroke-width="0.85"/>
<circle cx="317.09" cy="420.80" r="2.8" fill="#000" fill-opacity="0.3" stroke="#444" stroke-width="0.85"/>
<circle cx="339.89" cy="442.80" r="2.8" fill="#000" fill-opacity="0.3" stroke="#444" stroke-width="0.85"/>
<circle cx="362.70" cy="413.90" r="2.8" fill="#000" fill-opacity="0.3" stroke="#444" stroke-width="0.85"/>
<path d="M43.40,458.40V463.40M41.35,458.40H45.45M41.35,463.40H45.45" stroke="#f00000" stroke-width="1.6" fill="none"/>
<path d="M66.21,457.00V462.00M64.16,457.00H68.26M64.16,462.00H68.26" stroke="#f00000" stroke-width="1.6" fill="none"/>
<path d="M89.01,462.20V465.20M86.96,462.20H91.06M86.96,465.20H91.06" stroke="#f00000" stroke-width="1.6" fill="none"/>
<path d="M111.82,465.00V468.00M109.77,465.00H113.87M109.77,468.00H113.87" stroke="#f00000" stroke-width="1.6" fill="none"/>
<path d="M134.63,462.70V465.70M132.58,462.70H136.68M132.58,465.70H136.68" stroke="#f00000" stroke-width="1.6" fill="none"/>
<path d="M157.44,466.60V469.60M155.39,466.60H159.49M155.39,469.60H159.49" stroke="#f00000" stroke-width="1.6" fill="none"/>
<path d="M180.24,450.20V455.20M178.19,450.20H182.29M178.19,455.20H182.29" stroke="#f00000" stroke-width="1.6" fill="none"/>
<path d="M203.05,455.20V459.60M201.00,455.20H205.10M201.00,459.60H205.10" stroke="#f00000" stroke-width="1.6" fill="none"/>
<path d="M225.86,433.50V439.50M223.81,433.50H227.91M223.81,439.50H227.91" stroke="#f00000" stroke-width="1.6" fill="none"/>
<path d="M248.66,442.60V447.60M246.61,442.60H250.71M246.61,447.60H250.71" stroke="#f00000" stroke-width="1.6" fill="none"/>
<path d="M271.47,455.70V459.30M269.42,455.70H273.52M269.42,459.30H273.52" stroke="#f00000" stroke-width="1.6" fill="none"/>
<path d="M294.28,441.30V445.70M292.23,441.30H296.33M292.23,445.70H296.33" stroke="#f00000" stroke-width="1.6" fill="none"/>
<path d="M317.09,416.80V424.80M315.04,416.80H319.14M315.04,424.80H319.14" stroke="#f00000" stroke-width="1.6" fill="none"/>
<path d="M339.89,440.80V444.80M337.84,440.80H341.94M337.84,444.80H341.94" stroke="#f00000" stroke-width="1.6" fill="none"/>
<path d="M362.70,408.90V418.90M360.65,408.90H364.75M360.65,418.90H364.75" stroke="#f00000" stroke-width="1.6" fill="none"/>
<polygon points="43.40,451.71 44.20,451.45 45.00,451.22 45.80,451.01 46.60,450.82 47.40,450.66 48.20,450.51 49.00,450.38 49.80,450.28 50.60,450.19 51.40,450.12 52.20,450.07 53.00,450.04 53.80,450.02 54.60,450.02 55.40,450.04 56.20,450.06 57.00,450.11 57.80,450.17 58.60,450.24 59.41,450.32 60.21,450.41 61.01,450.52 61.81,450.64 62.61,450.76 63.41,450.90 64.21,451.05 65.01,451.20 65.81,451.36 66.61,451.53 67.41,451.71 68.21,451.89 69.01,452.08 69.81,452.27 70.61,452.47 71.41,452.67 72.21,452.87 73.01,453.08 73.81,453.29 74.61,453.49 75.41,453.70 76.21,453.92 77.01,454.13 77.81,454.33 78.61,454.54 79.41,454.75 80.21,454.95 81.01,455.15 81.81,455.34 82.61,455.54 83.41,455.72 84.21,455.90 85.01,456.08 85.81,456.24 86.61,456.40 87.41,456.55 88.21,456.70 89.01,456.83 89.81,456.95 90.61,457.07 91.42,457.17 92.22,457.27 93.02,457.36 93.82,457.44 94.62,457.51 95.42,457.58 96.22,457.64 97.02,457.69 97.82,457.73 98.62,457.77 99.42,457.80 100.22,457.83 101.02,457.85 101.82,457.86 102.62,457.88 103.42,457.88 104.22,457.89 105.02,457.89 105.82,457.88 106.62,457.88 107.42,457.87 108.22,457.85 109.02,457.84 109.82,457.82 110.62,457.81 111.42,457.79 112.22,457.77 113.02,457.75 113.82,457.73 114.62,457.71 115.42,457.69 116.22,457.68 117.02,457.66 117.82,457.64 118.62,457.63 119.42,457.62 120.22,457.61 121.02,457.60 121.82,457.60 122.62,457.60 123.43,457.60 124.23,457.61 125.03,457.62 125.83,457.64 126.63,457.66 127.43,457.69 128.23,457.72 129.03,457.76 129.83,457.81 130.63,457.86 131.43,457.92 132.23,457.99 133.03,458.06 133.83,458.14 134.63,458.23 135.43,458.33 136.23,458.43 137.03,458.54 137.83,458.66 138.63,458.78 139.43,458.90 140.23,459.01 141.03,459.13 141.83,459.24 142.63,459.35 143.43,459.46 144.23,459.55 145.03,459.64 145.83,459.71 146.63,459.78 147.43,459.83 148.23,459.86 149.03,459.88 149.83,459.88 150.63,459.86 151.43,459.82 152.23,459.76 153.03,459.67 153.83,459.56 154.63,459.43 155.44,459.26 156.24,459.07 157.04,458.84 157.84,458.58 158.64,458.29 159.44,457.96 160.24,457.60 161.04,457.19 161.84,456.75 162.64,456.26 163.44,455.74 164.24,455.16 165.04,454.55 165.84,453.89 166.64,453.20 167.44,452.49 168.24,451.75 169.04,451.00 169.84,450.25 170.64,449.49 171.44,448.74 172.24,448.01 173.04,447.29 173.84,446.61 174.64,445.95 175.44,445.33 176.24,444.76 177.04,444.25 177.84,443.79 178.64,443.40 179.44,443.08 180.24,442.84 181.04,442.68 181.84,442.61 182.64,442.60 183.44,442.66 184.24,442.78 185.04,442.94 185.84,443.15 186.64,443.40 187.45,443.68 188.25,443.97 189.05,444.29 189.85,444.61 190.65,444.93 191.45,445.24 192.25,445.54 193.05,445.82 193.85,446.08 194.65,446.30 195.45,446.49 196.25,446.66 197.05,446.79 197.85,446.88 198.65,446.94 199.45,446.97 200.25,446.95 201.05,446.90 201.85,446.81 202.65,446.67 203.45,446.49 204.25,446.27 205.05,446.00 205.85,445.69 206.65,445.32 207.45,444.91 208.25,444.44 209.05,443.92 209.85,443.35 210.65,442.73 211.45,442.05 212.25,441.31 213.05,440.52 213.85,439.69 214.65,438.82 215.45,437.92 216.25,437.00 217.05,436.06 217.85,435.10 218.65,434.14 219.46,433.17 220.26,432.21 221.06,431.27 221.86,430.34 222.66,429.43 223.46,428.55 224.26,427.71 225.06,426.91 225.86,426.16 226.66,425.46 227.46,424.82 228.26,424.25 229.06,423.75 229.86,423.33 230.66,423.00 231.46,422.75 232.26,422.59 233.06,422.52 233.86,422.53 234.66,422.61 235.46,422.77 236.26,422.99 237.06,423.28 237.86,423.62 238.66,424.02 239.46,424.47 240.26,424.97 241.06,425.52 241.86,426.10 242.66,426.73 243.46,427.39 244.26,428.09 245.06,428.81 245.86,429.56 246.66,430.34 247.46,431.14 248.26,431.96 249.06,432.80 249.86,433.64 250.66,434.50 251.47,435.37 252.27,436.24 253.07,437.11 253.87,437.98 254.67,438.84 255.47,439.70 256.27,440.55 257.07,441.39 257.87,442.20 258.67,443.00 259.47,443.78 260.27,444.53 261.07,445.26 261.87,445.96 262.67,446.62 263.47,447.24 264.27,447.83 265.07,448.37 265.87,448.87 266.67,449.32 267.47,449.72 268.27,450.06 269.07,450.35 269.87,450.58 270.67,450.75 271.47,450.85 272.27,450.88 273.07,450.85 273.87,450.75 274.67,450.59 275.47,450.36 276.27,450.07 277.07,449.73 277.87,449.33 278.67,448.87 279.47,448.35 280.27,447.79 281.07,447.17 281.87,446.50 282.67,445.79 283.48,445.02 284.28,444.22 285.08,443.37 285.88,442.47 286.68,441.54 287.48,440.56 288.28,439.55 289.08,438.51 289.88,437.43 290.68,436.31 291.48,435.17 292.28,433.99 293.08,432.79 293.88,431.56 294.68,430.31 295.48,429.03 296.28,427.74 297.08,426.43 297.88,425.12 298.68,423.81 299.48,422.50 300.28,421.20 301.08,419.91 301.88,418.64 302.68,417.40 303.48,416.18 304.28,415.00 305.08,413.86 305.88,412.76 306.68,411.71 307.48,410.71 308.28,409.78 309.08,408.90 309.88,408.10 310.68,407.37 311.48,406.72 312.28,406.16 313.08,405.68 313.88,405.30 314.68,405.02 315.49,404.84 316.29,404.77 317.09,404.82 317.89,404.98 318.69,405.26 319.49,405.65 320.29,406.13 321.09,406.71 321.89,407.38 322.69,408.12 323.49,408.94 324.29,409.83 325.09,410.79 325.89,411.79 326.69,412.85 327.49,413.94 328.29,415.07 329.09,416.24 329.89,417.42 330.69,418.62 331.49,419.83 332.29,421.04 333.09,422.25 333.89,423.45 334.69,424.63 335.49,425.78 336.29,426.90 337.09,427.97 337.89,429.00 338.69,429.97 339.49,430.88 340.29,431.71 341.09,432.46 341.89,433.12 342.69,433.69 343.49,434.16 344.29,434.51 345.09,434.74 345.89,434.85 346.69,434.82 347.50,434.65 348.30,434.33 349.10,433.86 349.90,433.22 350.70,432.41 351.50,431.42 352.30,430.24 353.10,428.88 353.90,427.31 354.70,425.54 355.50,423.56 356.30,421.36 357.10,418.92 357.90,416.26 358.70,413.35 359.50,410.19 360.30,406.78 361.10,403.11 361.90,399.16 362.70,394.94 362.70,429.95 361.90,432.79 361.10,435.45 360.30,437.92 359.50,440.22 358.70,442.35 357.90,444.31 357.10,446.10 356.30,447.74 355.50,449.22 354.70,450.56 353.90,451.75 353.10,452.81 352.30,453.73 351.50,454.52 350.70,455.18 349.90,455.73 349.10,456.16 348.30,456.48 347.50,456.70 346.69,456.81 345.89,456.83 345.09,456.76 344.29,456.60 343.49,456.36 342.69,456.05 341.89,455.67 341.09,455.22 340.29,454.71 339.49,454.15 338.69,453.54 337.89,452.89 337.09,452.20 336.29,451.47 335.49,450.72 334.69,449.94 333.89,449.15 333.09,448.34 332.29,447.53 331.49,446.71 330.69,445.90 329.89,445.09 329.09,444.29 328.29,443.51 327.49,442.75 326.69,442.01 325.89,441.30 325.09,440.62 324.29,439.98 323.49,439.38 322.69,438.83 321.89,438.32 321.09,437.87 320.29,437.48 319.49,437.16 318.69,436.90 317.89,436.71 317.09,436.60 316.29,436.57 315.49,436.61 314.68,436.73 313.88,436.92 313.08,437.18 312.28,437.50 311.48,437.88 310.68,438.32 309.88,438.81 309.08,439.35 308.28,439.94 307.48,440.57 306.68,441.24 305.88,441.95 305.08,442.69 304.28,443.46 303.48,444.26 302.68,445.07 301.88,445.91 301.08,446.77 300.28,447.63 299.48,448.51 298.68,449.39 297.88,450.28 297.08,451.16 296.28,452.04 295.48,452.91 294.68,453.77 293.88,454.61 293.08,455.44 292.28,456.25 291.48,457.04 290.68,457.82 289.88,458.57 289.08,459.29 288.28,460.00 287.48,460.68 286.68,461.34 285.88,461.96 285.08,462.57 284.28,463.14 283.48,463.68 282.67,464.20 281.87,464.68 281.07,465.13 280.27,465.55 279.47,465.93 278.67,466.27 277.87,466.58 277.07,466.85 276.27,467.09 275.47,467.28 274.67,467.43 273.87,467.54 273.07,467.61 272.27,467.63 271.47,467.61 270.67,467.54 269.87,467.43 269.07,467.27 268.27,467.08 267.47,466.85 266.67,466.58 265.87,466.27 265.07,465.94 264.27,465.57 263.47,465.18 262.67,464.76 261.87,464.31 261.07,463.84 260.27,463.35 259.47,462.85 258.67,462.32 257.87,461.78 257.07,461.23 256.27,460.67 255.47,460.10 254.67,459.52 253.87,458.94 253.07,458.35 252.27,457.77 251.47,457.18 250.66,456.60 249.86,456.02 249.06,455.45 248.26,454.88 247.46,454.33 246.66,453.79 245.86,453.27 245.06,452.76 244.26,452.27 243.46,451.80 242.66,451.36 241.86,450.94 241.06,450.54 240.26,450.18 239.46,449.84 238.66,449.54 237.86,449.27 237.06,449.04 236.26,448.84 235.46,448.69 234.66,448.59 233.86,448.53 233.06,448.53 232.26,448.57 231.46,448.68 230.66,448.85 229.86,449.07 229.06,449.36 228.26,449.69 227.46,450.08 226.66,450.51 225.86,450.98 225.06,451.48 224.26,452.02 223.46,452.59 222.66,453.18 221.86,453.79 221.06,454.42 220.26,455.05 219.46,455.70 218.65,456.35 217.85,457.00 217.05,457.64 216.25,458.28 215.45,458.90 214.65,459.51 213.85,460.09 213.05,460.65 212.25,461.18 211.45,461.68 210.65,462.14 209.85,462.56 209.05,462.94 208.25,463.29 207.45,463.61 206.65,463.88 205.85,464.13 205.05,464.34 204.25,464.52 203.45,464.67 202.65,464.79 201.85,464.89 201.05,464.95 200.25,464.98 199.45,464.99 198.65,464.98 197.85,464.94 197.05,464.87 196.25,464.78 195.45,464.67 194.65,464.54 193.85,464.39 193.05,464.22 192.25,464.03 191.45,463.83 190.65,463.62 189.85,463.40 189.05,463.19 188.25,462.98 187.45,462.78 186.64,462.59 185.84,462.42 185.04,462.28 184.24,462.17 183.44,462.09 182.64,462.05 181.84,462.06 181.04,462.11 180.24,462.21 179.44,462.37 178.64,462.59 177.84,462.85 177.04,463.16 176.24,463.51 175.44,463.89 174.64,464.31 173.84,464.75 173.04,465.21 172.24,465.69 171.44,466.19 170.64,466.69 169.84,467.20 169.04,467.71 168.24,468.22 167.44,468.71 166.64,469.19 165.84,469.66 165.04,470.10 164.24,470.51 163.44,470.90 162.64,471.25 161.84,471.58 161.04,471.88 160.24,472.15 159.44,472.40 158.64,472.62 157.84,472.82 157.04,472.99 156.24,473.14 155.44,473.27 154.63,473.39 153.83,473.48 153.03,473.55 152.23,473.61 151.43,473.65 150.63,473.68 149.83,473.69 149.03,473.69 148.23,473.68 147.43,473.65 146.63,473.62 145.83,473.58 145.03,473.53 144.23,473.47 143.43,473.41 142.63,473.34 141.83,473.26 141.03,473.19 140.23,473.11 139.43,473.03 138.63,472.95 137.83,472.87 137.03,472.79 136.23,472.72 135.43,472.65 134.63,472.58 133.83,472.52 133.03,472.46 132.23,472.42 131.43,472.37 130.63,472.33 129.83,472.30 129.03,472.27 128.23,472.24 127.43,472.22 126.63,472.20 125.83,472.18 125.03,472.17 124.23,472.16 123.43,472.16 122.62,472.16 121.82,472.16 121.02,472.16 120.22,472.16 119.42,472.17 118.62,472.18 117.82,472.18 117.02,472.20 116.22,472.21 115.42,472.22 114.62,472.23 113.82,472.24 113.02,472.26 112.22,472.27 111.42,472.28 110.62,472.30 109.82,472.31 109.02,472.32 108.22,472.33 107.42,472.33 106.62,472.34 105.82,472.35 105.02,472.35 104.22,472.35 103.42,472.35 102.62,472.34 101.82,472.33 101.02,472.32 100.22,472.31 99.42,472.29 98.62,472.27 97.82,472.24 97.02,472.21 96.22,472.18 95.42,472.14 94.62,472.10 93.82,472.05 93.02,471.99 92.22,471.93 91.42,471.87 90.61,471.80 89.81,471.72 89.01,471.64 88.21,471.55 87.41,471.45 86.61,471.35 85.81,471.24 85.01,471.13 84.21,471.01 83.41,470.89 82.61,470.76 81.81,470.64 81.01,470.50 80.21,470.37 79.41,470.23 78.61,470.10 77.81,469.96 77.01,469.81 76.21,469.67 75.41,469.53 74.61,469.39 73.81,469.25 73.01,469.11 72.21,468.97 71.41,468.83 70.61,468.70 69.81,468.57 69.01,468.44 68.21,468.31 67.41,468.19 66.61,468.07 65.81,467.95 65.01,467.85 64.21,467.74 63.41,467.64 62.61,467.55 61.81,467.47 61.01,467.39 60.21,467.32 59.41,467.25 58.60,467.20 57.80,467.15 57.00,467.11 56.20,467.08 55.40,467.06 54.60,467.05 53.80,467.05 53.00,467.06 52.20,467.08 51.40,467.12 50.60,467.17 49.80,467.22 49.00,467.30 48.20,467.38 47.40,467.48 46.60,467.59 45.80,467.72 45.00,467.86 44.20,468.01 43.40,468.19" fill="#000" fill-opacity="0.208"/>
<polygon points="43.40,453.52 44.20,453.27 45.00,453.05 45.80,452.85 46.60,452.67 47.40,452.51 48.20,452.37 49.00,452.24 49.80,452.14 50.60,452.06 51.40,451.99 52.20,451.94 53.00,451.91 53.80,451.89 54.60,451.89 55.40,451.91 56.20,451.94 57.00,451.98 57.80,452.03 58.60,452.10 59.41,452.18 60.21,452.27 61.01,452.38 61.81,452.49 62.61,452.61 63.41,452.74 64.21,452.88 65.01,453.03 65.81,453.19 66.61,453.35 67.41,453.52 68.21,453.70 69.01,453.88 69.81,454.06 70.61,454.25 71.41,454.45 72.21,454.64 73.01,454.84 73.81,455.04 74.61,455.24 75.41,455.45 76.21,455.65 77.01,455.85 77.81,456.05 78.61,456.25 79.41,456.45 80.21,456.65 81.01,456.84 81.81,457.03 82.61,457.21 83.41,457.39 84.21,457.56 85.01,457.73 85.81,457.89 86.61,458.05 87.41,458.19 88.21,458.33 89.01,458.46 89.81,458.58 90.61,458.69 91.42,458.79 92.22,458.88 93.02,458.97 93.82,459.05 94.62,459.12 95.42,459.18 96.22,459.24 97.02,459.28 97.82,459.33 98.62,459.36 99.42,459.39 100.22,459.42 101.02,459.44 101.82,459.46 102.62,459.47 103.42,459.47 104.22,459.48 105.02,459.48 105.82,459.47 106.62,459.47 107.42,459.46 108.22,459.45 109.02,459.43 109.82,459.42 110.62,459.40 111.42,459.38 112.22,459.37 113.02,459.35 113.82,459.33 114.62,459.31 115.42,459.29 116.22,459.27 117.02,459.26 117.82,459.24 118.62,459.23 119.42,459.22 120.22,459.21 121.02,459.20 121.82,459.20 122.62,459.20 123.43,459.21 124.23,459.21 125.03,459.22 125.83,459.24 126.63,459.26 127.43,459.29 128.23,459.32 129.03,459.36 129.83,459.40 130.63,459.45 131.43,459.51 132.23,459.57 133.03,459.64 133.83,459.72 134.63,459.81 135.43,459.90 136.23,460.00 137.03,460.11 137.83,460.22 138.63,460.34 139.43,460.45 140.23,460.56 141.03,460.68 141.83,460.79 142.63,460.89 143.43,460.99 144.23,461.08 145.03,461.16 145.83,461.24 146.63,461.30 147.43,461.35 148.23,461.38 149.03,461.40 149.83,461.40 150.63,461.38 151.43,461.34 152.23,461.28 153.03,461.20 153.83,461.09 154.63,460.96 155.44,460.80 156.24,460.61 157.04,460.40 157.84,460.15 158.64,459.86 159.44,459.55 160.24,459.20 161.04,458.81 161.84,458.38 162.64,457.91 163.44,457.40 164.24,456.85 165.04,456.26 165.84,455.62 166.64,454.96 167.44,454.27 168.24,453.56 169.04,452.84 169.84,452.11 170.64,451.38 171.44,450.66 172.24,449.95 173.04,449.26 173.84,448.60 174.64,447.97 175.44,447.37 176.24,446.83 177.04,446.33 177.84,445.89 178.64,445.51 179.44,445.20 180.24,444.97 181.04,444.82 181.84,444.75 182.64,444.74 183.44,444.80 184.24,444.91 185.04,445.07 185.84,445.27 186.64,445.51 187.45,445.78 188.25,446.06 189.05,446.37 189.85,446.67 190.65,446.98 191.45,447.29 192.25,447.58 193.05,447.85 193.85,448.09 194.65,448.31 195.45,448.49 196.25,448.65 197.05,448.78 197.85,448.87 198.65,448.93 199.45,448.95 200.25,448.94 201.05,448.89 201.85,448.80 202.65,448.67 203.45,448.49 204.25,448.28 205.05,448.02 205.85,447.71 206.65,447.36 207.45,446.96 208.25,446.52 209.05,446.02 209.85,445.47 210.65,444.86 211.45,444.21 212.25,443.49 213.05,442.74 213.85,441.94 214.65,441.10 215.45,440.23 216.25,439.34 217.05,438.43 217.85,437.51 218.65,436.58 219.46,435.65 220.26,434.73 221.06,433.81 221.86,432.92 222.66,432.04 223.46,431.20 224.26,430.39 225.06,429.61 225.86,428.89 226.66,428.22 227.46,427.60 228.26,427.05 229.06,426.57 229.86,426.17 230.66,425.84 231.46,425.60 232.26,425.45 233.06,425.38 233.86,425.39 234.66,425.47 235.46,425.62 236.26,425.84 237.06,426.11 237.86,426.45 238.66,426.83 239.46,427.27 240.26,427.75 241.06,428.27 241.86,428.83 242.66,429.44 243.46,430.08 244.26,430.75 245.06,431.45 245.86,432.17 246.66,432.92 247.46,433.69 248.26,434.48 249.06,435.29 249.86,436.11 250.66,436.93 251.47,437.77 252.27,438.61 253.07,439.45 253.87,440.28 254.67,441.12 255.47,441.95 256.27,442.76 257.07,443.57 257.87,444.36 258.67,445.13 259.47,445.88 260.27,446.61 261.07,447.30 261.87,447.97 262.67,448.61 263.47,449.21 264.27,449.78 265.07,450.30 265.87,450.78 266.67,451.22 267.47,451.60 268.27,451.94 269.07,452.21 269.87,452.44 270.67,452.60 271.47,452.69 272.27,452.72 273.07,452.69 273.87,452.60 274.67,452.44 275.47,452.22 276.27,451.95 277.07,451.61 277.87,451.22 278.67,450.78 279.47,450.29 280.27,449.74 281.07,449.15 281.87,448.50 282.67,447.81 283.48,447.08 284.28,446.30 285.08,445.48 285.88,444.62 286.68,443.72 287.48,442.78 288.28,441.80 289.08,440.79 289.88,439.75 290.68,438.68 291.48,437.57 292.28,436.44 293.08,435.28 293.88,434.10 294.68,432.89 295.48,431.66 296.28,430.41 297.08,429.15 297.88,427.89 298.68,426.62 299.48,425.36 300.28,424.11 301.08,422.87 301.88,421.64 302.68,420.44 303.48,419.27 304.28,418.13 305.08,417.03 305.88,415.97 306.68,414.96 307.48,414.00 308.28,413.09 309.08,412.25 309.88,411.48 310.68,410.78 311.48,410.15 312.28,409.60 313.08,409.14 313.88,408.78 314.68,408.50 315.49,408.33 316.29,408.27 317.09,408.31 317.89,408.47 318.69,408.74 319.49,409.11 320.29,409.58 321.09,410.14 321.89,410.78 322.69,411.50 323.49,412.29 324.29,413.15 325.09,414.07 325.89,415.04 326.69,416.05 327.49,417.11 328.29,418.20 329.09,419.32 329.89,420.46 330.69,421.62 331.49,422.78 332.29,423.95 333.09,425.12 333.89,426.27 334.69,427.41 335.49,428.52 336.29,429.60 337.09,430.64 337.89,431.63 338.69,432.56 339.49,433.44 340.29,434.24 341.09,434.96 341.89,435.60 342.69,436.15 343.49,436.60 344.29,436.94 345.09,437.16 345.89,437.27 346.69,437.24 347.50,437.08 348.30,436.77 349.10,436.31 349.90,435.69 350.70,434.91 351.50,433.96 352.30,432.83 353.10,431.51 353.90,430.00 354.70,428.30 355.50,426.38 356.30,424.26 357.10,421.91 357.90,419.34 358.70,416.54 359.50,413.50 360.30,410.21 361.10,406.66 361.90,402.86 362.70,398.79 362.70,426.09 361.90,429.09 361.10,431.89 360.30,434.50 359.50,436.92 358.70,439.16 357.90,441.22 357.10,443.11 356.30,444.84 355.50,446.40 354.70,447.81 353.90,449.07 353.10,450.18 352.30,451.14 351.50,451.98 350.70,452.68 349.90,453.25 349.10,453.71 348.30,454.05 347.50,454.27 346.69,454.39 345.89,454.41 345.09,454.34 344.29,454.17 343.49,453.92 342.69,453.59 341.89,453.19 341.09,452.72 340.29,452.18 339.49,451.59 338.69,450.95 337.89,450.26 337.09,449.53 336.29,448.77 335.49,447.98 334.69,447.16 333.89,446.32 333.09,445.47 332.29,444.61 331.49,443.75 330.69,442.90 329.89,442.04 329.09,441.20 328.29,440.38 327.49,439.58 326.69,438.80 325.89,438.05 325.09,437.34 324.29,436.66 323.49,436.03 322.69,435.45 321.89,434.92 321.09,434.45 320.29,434.03 319.49,433.69 318.69,433.42 317.89,433.22 317.09,433.10 316.29,433.07 315.49,433.12 314.68,433.24 313.88,433.44 313.08,433.71 312.28,434.05 311.48,434.45 310.68,434.91 309.88,435.43 309.08,436.00 308.28,436.62 307.48,437.29 306.68,437.99 305.88,438.74 305.08,439.52 304.28,440.33 303.48,441.17 302.68,442.03 301.88,442.91 301.08,443.81 300.28,444.73 299.48,445.65 298.68,446.58 297.88,447.51 297.08,448.44 296.28,449.37 295.48,450.28 294.68,451.19 293.88,452.08 293.08,452.95 292.28,453.80 291.48,454.64 290.68,455.45 289.88,456.24 289.08,457.01 288.28,457.75 287.48,458.47 286.68,459.16 285.88,459.82 285.08,460.45 284.28,461.06 283.48,461.63 282.67,462.17 281.87,462.68 281.07,463.15 280.27,463.59 279.47,463.99 278.67,464.36 277.87,464.68 277.07,464.97 276.27,465.21 275.47,465.42 274.67,465.58 273.87,465.69 273.07,465.76 272.27,465.79 271.47,465.76 270.67,465.69 269.87,465.58 269.07,465.41 268.27,465.21 267.47,464.96 266.67,464.68 265.87,464.36 265.07,464.01 264.27,463.62 263.47,463.21 262.67,462.76 261.87,462.29 261.07,461.80 260.27,461.28 259.47,460.75 258.67,460.20 257.87,459.63 257.07,459.05 256.27,458.46 255.47,457.86 254.67,457.25 253.87,456.63 253.07,456.02 252.27,455.40 251.47,454.78 250.66,454.17 249.86,453.56 249.06,452.96 248.26,452.36 247.46,451.78 246.66,451.21 245.86,450.66 245.06,450.13 244.26,449.61 243.46,449.12 242.66,448.65 241.86,448.21 241.06,447.79 240.26,447.40 239.46,447.05 238.66,446.73 237.86,446.45 237.06,446.20 236.26,446.00 235.46,445.84 234.66,445.73 233.86,445.67 233.06,445.67 232.26,445.72 231.46,445.83 230.66,446.00 229.86,446.24 229.06,446.54 228.26,446.89 227.46,447.30 226.66,447.75 225.86,448.25 225.06,448.78 224.26,449.35 223.46,449.94 222.66,450.57 221.86,451.21 221.06,451.87 220.26,452.54 219.46,453.22 218.65,453.91 217.85,454.59 217.05,455.27 216.25,455.94 215.45,456.59 214.65,457.23 213.85,457.85 213.05,458.44 212.25,459.00 211.45,459.52 210.65,460.00 209.85,460.45 209.05,460.85 208.25,461.22 207.45,461.55 206.65,461.84 205.85,462.10 205.05,462.32 204.25,462.52 203.45,462.67 202.65,462.80 201.85,462.90 201.05,462.96 200.25,463.00 199.45,463.01 198.65,462.99 197.85,462.95 197.05,462.88 196.25,462.79 195.45,462.67 194.65,462.54 193.85,462.38 193.05,462.20 192.25,462.00 191.45,461.79 190.65,461.56 189.85,461.34 189.05,461.11 188.25,460.89 187.45,460.68 186.64,460.48 185.84,460.31 185.04,460.16 184.24,460.04 183.44,459.95 182.64,459.91 181.84,459.92 181.04,459.97 180.24,460.08 179.44,460.25 178.64,460.48 177.84,460.76 177.04,461.08 176.24,461.45 175.44,461.85 174.64,462.29 173.84,462.75 173.04,463.24 172.24,463.75 171.44,464.27 170.64,464.80 169.84,465.34 169.04,465.87 168.24,466.40 167.44,466.93 166.64,467.43 165.84,467.92 165.04,468.39 164.24,468.83 163.44,469.23 162.64,469.61 161.84,469.95 161.04,470.26 160.24,470.55 159.44,470.81 158.64,471.04 157.84,471.25 157.04,471.43 156.24,471.59 155.44,471.73 154.63,471.85 153.83,471.95 153.03,472.03 152.23,472.09 151.43,472.13 150.63,472.16 149.83,472.17 149.03,472.17 148.23,472.16 147.43,472.13 146.63,472.10 145.83,472.05 145.03,472.00 144.23,471.94 143.43,471.87 142.63,471.80 141.83,471.72 141.03,471.64 140.23,471.56 139.43,471.47 138.63,471.39 137.83,471.31 137.03,471.22 136.23,471.15 135.43,471.07 134.63,471.00 133.83,470.94 133.03,470.88 132.23,470.83 131.43,470.78 130.63,470.74 129.83,470.70 129.03,470.67 128.23,470.64 127.43,470.62 126.63,470.60 125.83,470.58 125.03,470.57 124.23,470.56 123.43,470.56 122.62,470.55 121.82,470.55 121.02,470.56 120.22,470.56 119.42,470.57 118.62,470.58 117.82,470.59 117.02,470.60 116.22,470.61 115.42,470.62 114.62,470.63 113.82,470.65 113.02,470.66 112.22,470.68 111.42,470.69 110.62,470.70 109.82,470.71 109.02,470.73 108.22,470.73 107.42,470.74 106.62,470.75 105.82,470.75 105.02,470.76 104.22,470.76 103.42,470.76 102.62,470.75 101.82,470.74 101.02,470.73 100.22,470.72 99.42,470.70 98.62,470.67 97.82,470.65 97.02,470.62 96.22,470.58 95.42,470.54 94.62,470.49 93.82,470.44 93.02,470.38 92.22,470.32 91.42,470.25 90.61,470.18 89.81,470.10 89.01,470.01 88.21,469.91 87.41,469.81 86.61,469.70 85.81,469.59 85.01,469.47 84.21,469.35 83.41,469.22 82.61,469.09 81.81,468.95 81.01,468.82 80.21,468.67 79.41,468.53 78.61,468.38 77.81,468.24 77.01,468.09 76.21,467.94 75.41,467.79 74.61,467.64 73.81,467.49 73.01,467.35 72.21,467.20 71.41,467.05 70.61,466.91 69.81,466.77 69.01,466.64 68.21,466.50 67.41,466.37 66.61,466.25 65.81,466.13 65.01,466.01 64.21,465.91 63.41,465.80 62.61,465.70 61.81,465.61 61.01,465.53 60.21,465.46 59.41,465.39 58.60,465.33 57.80,465.28 57.00,465.24 56.20,465.21 55.40,465.19 54.60,465.18 53.80,465.18 53.00,465.19 52.20,465.21 51.40,465.25 50.60,465.30 49.80,465.36 49.00,465.43 48.20,465.52 47.40,465.63 46.60,465.75 45.80,465.88 45.00,466.03 44.20,466.19 43.40,466.37" fill="#000" fill-opacity="0.178"/>
<polygon points="43.40,456.49 44.20,456.25 45.00,456.04 45.80,455.85 46.60,455.68 47.40,455.53 48.20,455.40 49.00,455.29 49.80,455.19 50.60,455.11 51.40,455.05 52.20,455.01 53.00,454.98 53.80,454.96 54.60,454.96 55.40,454.97 56.20,455.00 57.00,455.04 57.80,455.09 58.60,455.15 59.41,455.23 60.21,455.32 61.01,455.41 61.81,455.52 62.61,455.63 63.41,455.76 64.21,455.89 65.01,456.03 65.81,456.17 66.61,456.33 67.41,456.49 68.21,456.65 69.01,456.82 69.81,457.00 70.61,457.17 71.41,457.36 72.21,457.54 73.01,457.73 73.81,457.91 74.61,458.10 75.41,458.29 76.21,458.49 77.01,458.68 77.81,458.86 78.61,459.05 79.41,459.24 80.21,459.42 81.01,459.60 81.81,459.78 82.61,459.95 83.41,460.12 84.21,460.28 85.01,460.44 85.81,460.59 86.61,460.74 87.41,460.87 88.21,461.00 89.01,461.12 89.81,461.24 90.61,461.34 91.42,461.44 92.22,461.52 93.02,461.60 93.82,461.68 94.62,461.74 95.42,461.80 96.22,461.85 97.02,461.90 97.82,461.94 98.62,461.97 99.42,462.00 100.22,462.03 101.02,462.05 101.82,462.06 102.62,462.07 103.42,462.08 104.22,462.08 105.02,462.08 105.82,462.08 106.62,462.07 107.42,462.06 108.22,462.05 109.02,462.04 109.82,462.02 110.62,462.01 111.42,461.99 112.22,461.98 113.02,461.96 113.82,461.94 114.62,461.92 115.42,461.91 116.22,461.89 117.02,461.87 117.82,461.86 118.62,461.85 119.42,461.84 120.22,461.83 121.02,461.82 121.82,461.82 122.62,461.82 123.43,461.83 124.23,461.83 125.03,461.84 125.83,461.86 126.63,461.88 127.43,461.90 128.23,461.93 129.03,461.97 129.83,462.01 130.63,462.06 131.43,462.11 132.23,462.17 133.03,462.24 133.83,462.31 134.63,462.39 135.43,462.48 136.23,462.58 137.03,462.68 137.83,462.78 138.63,462.89 139.43,462.99 140.23,463.10 141.03,463.21 141.83,463.31 142.63,463.41 143.43,463.50 144.23,463.59 145.03,463.66 145.83,463.73 146.63,463.79 147.43,463.84 148.23,463.87 149.03,463.88 149.83,463.89 150.63,463.87 151.43,463.83 152.23,463.78 153.03,463.70 153.83,463.60 154.63,463.48 155.44,463.33 156.24,463.15 157.04,462.94 157.84,462.71 158.64,462.44 159.44,462.15 160.24,461.82 161.04,461.45 161.84,461.05 162.64,460.61 163.44,460.13 164.24,459.62 165.04,459.06 165.84,458.46 166.64,457.84 167.44,457.19 168.24,456.53 169.04,455.85 169.84,455.16 170.64,454.48 171.44,453.80 172.24,453.14 173.04,452.49 173.84,451.87 174.64,451.27 175.44,450.72 176.24,450.20 177.04,449.73 177.84,449.32 178.64,448.96 179.44,448.67 180.24,448.46 181.04,448.32 181.84,448.25 182.64,448.24 183.44,448.30 184.24,448.40 185.04,448.55 185.84,448.74 186.64,448.97 187.45,449.22 188.25,449.49 189.05,449.77 189.85,450.06 190.65,450.35 191.45,450.63 192.25,450.90 193.05,451.16 193.85,451.39 194.65,451.59 195.45,451.77 196.25,451.91 197.05,452.03 197.85,452.12 198.65,452.17 199.45,452.20 200.25,452.18 201.05,452.14 201.85,452.05 202.65,451.93 203.45,451.77 204.25,451.56 205.05,451.32 205.85,451.03 206.65,450.70 207.45,450.33 208.25,449.91 209.05,449.44 209.85,448.92 210.65,448.36 211.45,447.74 212.25,447.07 213.05,446.36 213.85,445.61 214.65,444.82 215.45,444.01 216.25,443.17 217.05,442.32 217.85,441.45 218.65,440.58 219.46,439.71 220.26,438.84 221.06,437.98 221.86,437.14 222.66,436.32 223.46,435.52 224.26,434.76 225.06,434.04 225.86,433.36 226.66,432.73 227.46,432.15 228.26,431.63 229.06,431.18 229.86,430.80 230.66,430.49 231.46,430.27 232.26,430.13 233.06,430.06 233.86,430.07 234.66,430.15 235.46,430.29 236.26,430.49 237.06,430.75 237.86,431.06 238.66,431.42 239.46,431.83 240.26,432.28 241.06,432.77 241.86,433.31 242.66,433.87 243.46,434.47 244.26,435.10 245.06,435.76 245.86,436.44 246.66,437.14 247.46,437.87 248.26,438.61 249.06,439.36 249.86,440.13 250.66,440.91 251.47,441.69 252.27,442.48 253.07,443.27 253.87,444.06 254.67,444.84 255.47,445.62 256.27,446.39 257.07,447.14 257.87,447.88 258.67,448.61 259.47,449.31 260.27,449.99 261.07,450.65 261.87,451.28 262.67,451.88 263.47,452.44 264.27,452.97 265.07,453.47 265.87,453.92 266.67,454.32 267.47,454.69 268.27,455.00 269.07,455.26 269.87,455.47 270.67,455.62 271.47,455.71 272.27,455.74 273.07,455.71 273.87,455.62 274.67,455.47 275.47,455.27 276.27,455.01 277.07,454.70 277.87,454.33 278.67,453.92 279.47,453.45 280.27,452.94 281.07,452.38 281.87,451.77 282.67,451.13 283.48,450.44 284.28,449.70 285.08,448.93 285.88,448.12 286.68,447.28 287.48,446.40 288.28,445.48 289.08,444.54 289.88,443.56 290.68,442.55 291.48,441.51 292.28,440.45 293.08,439.36 293.88,438.25 294.68,437.11 295.48,435.96 296.28,434.78 297.08,433.60 297.88,432.42 298.68,431.23 299.48,430.04 300.28,428.87 301.08,427.70 301.88,426.55 302.68,425.43 303.48,424.32 304.28,423.25 305.08,422.22 305.88,421.22 306.68,420.27 307.48,419.37 308.28,418.52 309.08,417.73 309.88,417.01 310.68,416.35 311.48,415.76 312.28,415.25 313.08,414.81 313.88,414.47 314.68,414.21 315.49,414.05 316.29,413.99 317.09,414.03 317.89,414.18 318.69,414.43 319.49,414.78 320.29,415.22 321.09,415.75 321.89,416.35 322.69,417.03 323.49,417.77 324.29,418.58 325.09,419.44 325.89,420.35 326.69,421.30 327.49,422.30 328.29,423.32 329.09,424.37 329.89,425.44 330.69,426.53 331.49,427.62 332.29,428.72 333.09,429.82 333.89,430.90 334.69,431.97 335.49,433.01 336.29,434.02 337.09,435.00 337.89,435.93 338.69,436.81 339.49,437.63 340.29,438.38 341.09,439.06 341.89,439.66 342.69,440.18 343.49,440.60 344.29,440.91 345.09,441.13 345.89,441.22 346.69,441.20 347.50,441.04 348.30,440.76 349.10,440.33 349.90,439.75 350.70,439.01 351.50,438.12 352.30,437.05 353.10,435.82 353.90,434.40 354.70,432.80 355.50,431.00 356.30,429.01 357.10,426.80 357.90,424.39 358.70,421.76 359.50,418.90 360.30,415.81 361.10,412.48 361.90,408.91 362.70,405.09 362.70,419.79 361.90,423.04 361.10,426.07 360.30,428.89 359.50,431.51 358.70,433.94 357.90,436.17 357.10,438.22 356.30,440.09 355.50,441.78 354.70,443.31 353.90,444.67 353.10,445.87 352.30,446.92 351.50,447.82 350.70,448.58 349.90,449.20 349.10,449.69 348.30,450.06 347.50,450.30 346.69,450.43 345.89,450.46 345.09,450.37 344.29,450.19 343.49,449.92 342.69,449.57 341.89,449.13 341.09,448.62 340.29,448.04 339.49,447.40 338.69,446.71 337.89,445.96 337.09,445.17 336.29,444.35 335.49,443.49 334.69,442.60 333.89,441.70 333.09,440.77 332.29,439.85 331.49,438.91 330.69,437.99 329.89,437.06 329.09,436.15 328.29,435.26 327.49,434.39 326.69,433.55 325.89,432.74 325.09,431.97 324.29,431.24 323.49,430.55 322.69,429.92 321.89,429.35 321.09,428.84 320.29,428.39 319.49,428.02 318.69,427.72 317.89,427.51 317.09,427.38 316.29,427.35 315.49,427.40 314.68,427.53 313.88,427.75 313.08,428.04 312.28,428.41 311.48,428.84 310.68,429.34 309.88,429.90 309.08,430.52 308.28,431.19 307.48,431.91 306.68,432.68 305.88,433.48 305.08,434.33 304.28,435.21 303.48,436.11 302.68,437.05 301.88,438.01 301.08,438.98 300.28,439.97 299.48,440.97 298.68,441.97 297.88,442.98 297.08,443.99 296.28,444.99 295.48,445.98 294.68,446.97 293.88,447.93 293.08,448.87 292.28,449.80 291.48,450.70 290.68,451.58 289.88,452.44 289.08,453.27 288.28,454.07 287.48,454.85 286.68,455.59 285.88,456.31 285.08,457.00 284.28,457.65 283.48,458.27 282.67,458.86 281.87,459.41 281.07,459.92 280.27,460.40 279.47,460.83 278.67,461.23 277.87,461.58 277.07,461.89 276.27,462.15 275.47,462.37 274.67,462.55 273.87,462.67 273.07,462.75 272.27,462.77 271.47,462.75 270.67,462.67 269.87,462.54 269.07,462.37 268.27,462.15 267.47,461.88 266.67,461.57 265.87,461.23 265.07,460.84 264.27,460.43 263.47,459.98 262.67,459.50 261.87,458.99 261.07,458.45 260.27,457.90 259.47,457.32 258.67,456.72 257.87,456.11 257.07,455.48 256.27,454.84 255.47,454.18 254.67,453.52 253.87,452.86 253.07,452.19 252.27,451.52 251.47,450.85 250.66,450.19 249.86,449.53 249.06,448.88 248.26,448.24 247.46,447.61 246.66,446.99 245.86,446.40 245.06,445.82 244.26,445.26 243.46,444.72 242.66,444.22 241.86,443.74 241.06,443.29 240.26,442.87 239.46,442.48 238.66,442.14 237.86,441.83 237.06,441.57 236.26,441.35 235.46,441.18 234.66,441.06 233.86,440.99 233.06,440.98 232.26,441.04 231.46,441.16 230.66,441.35 229.86,441.61 229.06,441.93 228.26,442.31 227.46,442.75 226.66,443.24 225.86,443.78 225.06,444.36 224.26,444.97 223.46,445.62 222.66,446.29 221.86,446.99 221.06,447.70 220.26,448.43 219.46,449.17 218.65,449.91 217.85,450.65 217.05,451.38 216.25,452.11 215.45,452.82 214.65,453.51 213.85,454.18 213.05,454.81 212.25,455.42 211.45,455.98 210.65,456.51 209.85,456.99 209.05,457.43 208.25,457.83 207.45,458.18 206.65,458.50 205.85,458.78 205.05,459.02 204.25,459.23 203.45,459.40 202.65,459.54 201.85,459.64 201.05,459.71 200.25,459.76 199.45,459.77 198.65,459.75 197.85,459.70 197.05,459.63 196.25,459.53 195.45,459.40 194.65,459.25 193.85,459.08 193.05,458.89 192.25,458.67 191.45,458.44 190.65,458.20 189.85,457.95 189.05,457.71 188.25,457.47 187.45,457.24 186.64,457.03 185.84,456.84 185.04,456.68 184.24,456.55 183.44,456.46 182.64,456.41 181.84,456.42 181.04,456.47 180.24,456.59 179.44,456.78 178.64,457.02 177.84,457.32 177.04,457.68 176.24,458.07 175.44,458.51 174.64,458.98 173.84,459.49 173.04,460.02 172.24,460.57 171.44,461.13 170.64,461.71 169.84,462.29 169.04,462.87 168.24,463.44 167.44,464.01 166.64,464.56 165.84,465.08 165.04,465.59 164.24,466.06 163.44,466.50 162.64,466.91 161.84,467.28 161.04,467.62 160.24,467.93 159.44,468.21 158.64,468.46 157.84,468.69 157.04,468.89 156.24,469.06 155.44,469.21 154.63,469.34 153.83,469.44 153.03,469.53 152.23,469.59 151.43,469.64 150.63,469.67 149.83,469.69 149.03,469.69 148.23,469.67 147.43,469.64 146.63,469.61 145.83,469.56 145.03,469.50 144.23,469.43 143.43,469.36 142.63,469.28 141.83,469.20 141.03,469.11 140.23,469.02 139.43,468.93 138.63,468.84 137.83,468.75 137.03,468.66 136.23,468.57 135.43,468.49 134.63,468.42 133.83,468.35 133.03,468.29 132.23,468.23 131.43,468.18 130.63,468.13 129.83,468.09 129.03,468.06 128.23,468.03 127.43,468.00 126.63,467.98 125.83,467.97 125.03,467.95 124.23,467.94 123.43,467.94 122.62,467.93 121.82,467.93 121.02,467.94 120.22,467.94 119.42,467.95 118.62,467.96 117.82,467.97 117.02,467.98 116.22,467.99 115.42,468.01 114.62,468.02 113.82,468.04 113.02,468.05 112.22,468.07 111.42,468.08 110.62,468.09 109.82,468.11 109.02,468.12 108.22,468.13 107.42,468.14 106.62,468.15 105.82,468.15 105.02,468.15 104.22,468.15 103.42,468.15 102.62,468.15 101.82,468.14 101.02,468.12 100.22,468.11 99.42,468.09 98.62,468.06 97.82,468.03 97.02,468.00 96.22,467.96 95.42,467.92 94.62,467.87 93.82,467.81 93.02,467.75 92.22,467.68 91.42,467.61 90.61,467.53 89.81,467.44 89.01,467.34 88.21,467.24 87.41,467.13 86.61,467.01 85.81,466.89 85.01,466.76 84.21,466.63 83.41,466.49 82.61,466.35 81.81,466.20 81.01,466.05 80.21,465.90 79.41,465.74 78.61,465.58 77.81,465.43 77.01,465.26 76.21,465.10 75.41,464.94 74.61,464.78 73.81,464.62 73.01,464.46 72.21,464.30 71.41,464.14 70.61,463.99 69.81,463.84 69.01,463.69 68.21,463.55 67.41,463.41 66.61,463.27 65.81,463.14 65.01,463.02 64.21,462.90 63.41,462.79 62.61,462.68 61.81,462.59 61.01,462.50 60.21,462.41 59.41,462.34 58.60,462.28 57.80,462.22 57.00,462.18 56.20,462.15 55.40,462.12 54.60,462.11 53.80,462.11 53.00,462.13 52.20,462.15 51.40,462.19 50.60,462.24 49.80,462.31 49.00,462.39 48.20,462.49 47.40,462.60 46.60,462.73 45.80,462.87 45.00,463.03 44.20,463.21 43.40,463.41" fill="#000" fill-opacity="0.181"/>
<rect x="49.40" y="311.60" width="100.2" height="28.6" fill="#fff" stroke="#808080" stroke-width="1"/>
<circle cx="61.80" cy="318.90" r="2.9" fill="#000" fill-opacity="0.33" stroke="#5a5a5a" stroke-width="0.9"/>
<circle cx="61.80" cy="332.60" r="2.85" fill="#0000f0"/>
<text x="73.75" y="321.50" font-size="11.8" textLength="74.4" lengthAdjust="spacingAndGlyphs" fill="#2e2e2e">Estimated data</text>
<text x="73.75" y="335.40" font-size="11.8" textLength="70.2" lengthAdjust="spacingAndGlyphs" fill="#2e2e2e">Observed data</text>
<g font-size="12.1" fill="#2e2e2e"><text transform="translate(32.95,505.60) scale(1.1,1)" text-anchor="end">0</text>
<text transform="translate(32.95,466.22) scale(1.1,1)" text-anchor="end">0.2</text>
<text transform="translate(32.95,426.84) scale(1.1,1)" text-anchor="end">0.4</text>
<text transform="translate(32.95,387.46) scale(1.1,1)" text-anchor="end">0.6</text>
<text transform="translate(32.95,348.08) scale(1.1,1)" text-anchor="end">0.8</text>
<text transform="translate(32.95,308.70) scale(1.1,1)" text-anchor="end">1</text>
<text transform="translate(43.40,523.20) scale(1.1,1)" text-anchor="middle">25</text>
<text transform="translate(66.21,523.20) scale(1.1,1)" text-anchor="middle">26</text>
<text transform="translate(89.01,523.20) scale(1.1,1)" text-anchor="middle">27</text>
<text transform="translate(111.82,523.20) scale(1.1,1)" text-anchor="middle">28</text>
<text transform="translate(134.63,523.20) scale(1.1,1)" text-anchor="middle">29</text>
<text transform="translate(157.44,523.20) scale(1.1,1)" text-anchor="middle">30</text>
<text transform="translate(180.24,523.20) scale(1.1,1)" text-anchor="middle">31</text>
<text transform="translate(203.05,523.20) scale(1.1,1)" text-anchor="middle">32</text>
<text transform="translate(225.86,523.20) scale(1.1,1)" text-anchor="middle">33</text>
<text transform="translate(248.66,523.20) scale(1.1,1)" text-anchor="middle">34</text>
<text transform="translate(271.47,523.20) scale(1.1,1)" text-anchor="middle">35</text>
<text transform="translate(294.28,523.20) scale(1.1,1)" text-anchor="middle">36</text>
<text transform="translate(317.09,523.20) scale(1.1,1)" text-anchor="middle">37</text>
<text transform="translate(339.89,523.20) scale(1.1,1)" text-anchor="middle">38</text>
<text transform="translate(362.70,523.20) scale(1.1,1)" text-anchor="middle">39</text></g>
<text transform="translate(203.35,540.35) scale(1.017,1)" font-size="14.5" text-anchor="middle" fill="#2e2e2e">Time (week number)</text>
<text transform="translate(10.20,403.25) rotate(-90) scale(1.03,1)" font-size="14.5" text-anchor="middle" fill="#2e2e2e">Infected human density</text>
<g transform="translate(44.00,301.40) scale(1.15,1)" fill="#2e2e2e"><text x="-0.1" y="0.9" font-size="12.1">×</text><text x="6.7" y="0" font-size="12.1">10</text><text x="18.7" y="-4.2" font-size="8.3">−3</text></g>
<text transform="translate(185.20,566.70) scale(1.05,1)" font-size="21.2" text-anchor="middle" fill="#2e2e2e">(c)</text>
</g>
<g id="panel-d">
<path d="M438.80,502.60H764.50M445.80,305.70V509.60" stroke="#808080" stroke-width="1" fill="none"/>
<path d="M438.80,502.60H445.80M442.30,492.75H445.80M442.30,482.91H445.80M442.30,473.06H445.80M438.80,463.22H445.80M442.30,453.38H445.80M442.30,443.53H445.80M442.30,433.69H445.80M438.80,423.84H445.80M442.30,414.00H445.80M442.30,404.15H445.80M442.30,394.31H445.80M438.80,384.46H445.80M442.30,374.62H445.80M442.30,364.77H445.80M442.30,354.93H445.80M438.80,345.08H445.80M442.30,335.24H445.80M442.30,325.39H445.80M442.30,315.54H445.80M438.80,305.70H445.80M445.80,502.60V509.60M450.70,502.60V506.10M455.61,502.60V506.10M460.51,502.60V506.10M465.41,502.60V506.10M470.32,502.60V509.60M475.22,502.60V506.10M480.12,502.60V506.10M485.02,502.60V506.10M489.93,502.60V506.10M494.83,502.60V509.60M499.73,502.60V506.10M504.64,502.60V506.10M509.54,502.60V506.10M514.44,502.60V506.10M519.35,502.60V509.60M524.25,502.60V506.10M529.15,502.60V506.10M534.06,502.60V506.10M538.96,502.60V506.10M543.86,502.60V509.60M548.76,502.60V506.10M553.67,502.60V506.10M558.57,502.60V506.10M563.47,502.60V506.10M568.38,502.60V509.60M573.28,502.60V506.10M578.18,502.60V506.10M583.09,502.60V506.10M587.99,502.60V506.10M592.89,502.60V509.60M597.80,502.60V506.10M602.70,502.60V506.10M607.60,502.60V506.10M612.50,502.60V506.10M617.41,502.60V509.60M622.31,502.60V506.10M627.21,502.60V506.10M632.12,502.60V506.10M637.02,502.60V506.10M641.92,502.60V509.60M646.83,502.60V506.10M651.73,502.60V506.10M656.63,502.60V506.10M661.54,502.60V506.10M666.44,502.60V509.60M671.34,502.60V506.10M676.24,502.60V506.10M681.15,502.60V506.10M686.05,502.60V506.10M690.95,502.60V509.60M695.86,502.60V506.10M700.76,502.60V506.10M705.66,502.60V506.10M710.57,502.60V506.10M715.47,502.60V509.60M720.37,502.60V506.10M725.28,502.60V506.10M730.18,502.60V506.10M735.08,502.60V506.10M739.98,502.60V509.60M744.89,502.60V506.10M749.79,502.60V506.10M754.69,502.60V506.10M759.60,502.60V506.10M764.50,502.60V509.60" stroke="#808080" stroke-width="1" fill="none"/>
<circle cx="445.80" cy="373.50" r="2.85" fill="#0000ea"/>
<circle cx="470.32" cy="396.50" r="2.85" fill="#0000ea"/>
<circle cx="494.83" cy="415.80" r="2.85" fill="#0000ea"/>
<circle cx="519.35" cy="398.50" r="2.85" fill="#0000ea"/>
<circle cx="543.86" cy="397.50" r="2.85" fill="#0000ea"/>
<circle cx="568.38" cy="405.40" r="2.85" fill="#0000ea"/>
<circle cx="592.89" cy="425.80" r="2.85" fill="#0000ea"/>
<circle cx="617.41" cy="423.20" r="2.85" fill="#0000ea"/>
<circle cx="641.92" cy="431.50" r="2.85" fill="#0000ea"/>
<circle cx="666.44" cy="444.30" r="2.85" fill="#0000ea"/>
<circle cx="690.95" cy="442.30" r="2.85" fill="#0000ea"/>
<circle cx="715.47" cy="458.30" r="2.85" fill="#0000ea"/>
<circle cx="739.98" cy="448.10" r="2.85" fill="#0000ea"/>
<circle cx="764.50" cy="465.90" r="2.85" fill="#0000ea"/>
<circle cx="445.80" cy="437.30" r="2.8" fill="#000" fill-opacity="0.3" stroke="#444" stroke-width="0.85"/>
<circle cx="470.32" cy="426.50" r="2.8" fill="#000" fill-opacity="0.3" stroke="#444" stroke-width="0.85"/>
<circle cx="494.83" cy="414.20" r="2.8" fill="#000" fill-opacity="0.3" stroke="#444" stroke-width="0.85"/>
<circle cx="519.35" cy="393.70" r="2.8" fill="#000" fill-opacity="0.3" stroke="#444" stroke-width="0.85"/>
<circle cx="543.86" cy="416.20" r="2.8" fill="#000" fill-opacity="0.3" stroke="#444" stroke-width="0.85"/>
<circle cx="568.38" cy="421.90" r="2.8" fill="#000" fill-opacity="0.3" stroke="#444" stroke-width="0.85"/>
<circle cx="592.89" cy="426.80" r="2.8" fill="#000" fill-opacity="0.3" stroke="#444" stroke-width="0.85"/>
<circle cx="617.41" cy="436.30" r="2.8" fill="#000" fill-opacity="0.3" stroke="#444" stroke-width="0.85"/>
<circle cx="641.92" cy="460.40" r="2.8" fill="#000" fill-opacity="0.3" stroke="#444" stroke-width="0.85"/>
<circle cx="666.44" cy="461.30" r="2.8" fill="#000" fill-opacity="0.3" stroke="#444" stroke-width="0.85"/>
<circle cx="690.95" cy="445.50" r="2.8" fill="#000" fill-opacity="0.3" stroke="#444" stroke-width="0.85"/>
<circle cx="715.47" cy="493.40" r="2.8" fill="#000" fill-opacity="0.3" stroke="#444" stroke-width="0.85"/>
<circle cx="739.98" cy="462.70" r="2.8" fill="#000" fill-opacity="0.3" stroke="#444" stroke-width="0.85"/>
<circle cx="764.50" cy="478.00" r="2.8" fill="#000" fill-opacity="0.3" stroke="#444" stroke-width="0.85"/>
<path d="M445.80,433.80V440.80M443.75,433.80H447.85M443.75,440.80H447.85" stroke="#f00000" stroke-width="1.6" fill="none"/>
<path d="M470.32,423.00V430.00M468.27,423.00H472.37M468.27,430.00H472.37" stroke="#f00000" stroke-width="1.6" fill="none"/>
<path d="M494.83,410.20V418.20M492.78,410.20H496.88M492.78,418.20H496.88" stroke="#f00000" stroke-width="1.6" fill="none"/>
<path d="M519.35,388.70V398.70M517.30,388.70H521.40M517.30,398.70H521.40" stroke="#f00000" stroke-width="1.6" fill="none"/>
<path d="M543.86,412.20V420.20M541.81,412.20H545.91M541.81,420.20H545.91" stroke="#f00000" stroke-width="1.6" fill="none"/>
<path d="M568.38,418.40V425.40M566.33,418.40H570.43M566.33,425.40H570.43" stroke="#f00000" stroke-width="1.6" fill="none"/>
<path d="M592.89,423.80V429.80M590.84,423.80H594.94M590.84,429.80H594.94" stroke="#f00000" stroke-width="1.6" fill="none"/>
<path d="M617.41,433.30V439.30M615.36,433.30H619.46M615.36,439.30H619.46" stroke="#f00000" stroke-width="1.6" fill="none"/>
<path d="M641.92,458.90V461.90M639.87,458.90H643.97M639.87,461.90H643.97" stroke="#f00000" stroke-width="1.6" fill="none"/>
<path d="M666.44,459.80V462.80M664.39,459.80H668.49M664.39,462.80H668.49" stroke="#f00000" stroke-width="1.6" fill="none"/>
<path d="M690.95,443.00V448.00M688.90,443.00H693.00M688.90,448.00H693.00" stroke="#f00000" stroke-width="1.6" fill="none"/>
<path d="M715.47,492.40V494.40M713.42,492.40H717.52M713.42,494.40H717.52" stroke="#f00000" stroke-width="1.6" fill="none"/>
<path d="M739.98,460.70V464.70M737.93,460.70H742.03M737.93,464.70H742.03" stroke="#f00000" stroke-width="1.6" fill="none"/>
<path d="M764.50,476.50V479.50M762.45,476.50H766.55M762.45,479.50H766.55" stroke="#f00000" stroke-width="1.6" fill="none"/>
<polygon points="445.80,424.10 446.60,423.56 447.40,423.04 448.20,422.54 448.99,422.05 449.79,421.58 450.59,421.13 451.39,420.69 452.19,420.27 452.99,419.86 453.79,419.46 454.59,419.07 455.38,418.70 456.18,418.33 456.98,417.98 457.78,417.63 458.58,417.29 459.38,416.96 460.18,416.64 460.98,416.32 461.77,416.01 462.57,415.70 463.37,415.39 464.17,415.09 464.97,414.78 465.77,414.48 466.57,414.18 467.37,413.88 468.16,413.58 468.96,413.28 469.76,412.97 470.56,412.66 471.36,412.35 472.16,412.03 472.96,411.71 473.76,411.37 474.55,411.04 475.35,410.69 476.15,410.33 476.95,409.97 477.75,409.59 478.55,409.21 479.35,408.81 480.15,408.40 480.94,407.97 481.74,407.54 482.54,407.08 483.34,406.62 484.14,406.15 484.94,405.65 485.74,405.14 486.54,404.61 487.33,404.06 488.13,403.50 488.93,402.91 489.73,402.29 490.53,401.66 491.33,401.00 492.13,400.32 492.93,399.62 493.72,398.89 494.52,398.13 495.32,397.35 496.12,396.54 496.92,395.70 497.72,394.83 498.52,393.93 499.32,393.00 500.11,392.04 500.91,391.05 501.71,390.02 502.51,388.96 503.31,387.87 504.11,386.76 504.91,385.63 505.71,384.50 506.50,383.36 507.30,382.22 508.10,381.09 508.90,379.97 509.70,378.89 510.50,377.84 511.30,376.83 512.10,375.88 512.89,374.99 513.69,374.17 514.49,373.43 515.29,372.76 516.09,372.19 516.89,371.72 517.69,371.35 518.49,371.10 519.28,370.96 520.08,370.95 520.88,371.05 521.68,371.25 522.48,371.55 523.28,371.95 524.08,372.44 524.88,373.01 525.67,373.65 526.47,374.37 527.27,375.16 528.07,376.00 528.87,376.90 529.67,377.85 530.47,378.84 531.27,379.87 532.06,380.90 532.86,381.95 533.66,383.01 534.46,384.09 535.26,385.18 536.06,386.27 536.86,387.36 537.66,388.44 538.45,389.50 539.25,390.55 540.05,391.57 540.85,392.57 541.65,393.54 542.45,394.48 543.25,395.40 544.05,396.28 544.84,397.14 545.64,397.95 546.44,398.74 547.24,399.49 548.04,400.20 548.84,400.87 549.64,401.50 550.44,402.09 551.23,402.63 552.03,403.13 552.83,403.58 553.63,403.99 554.43,404.35 555.23,404.66 556.03,404.92 556.83,405.18 557.62,405.41 558.42,405.60 559.22,405.77 560.02,405.91 560.82,406.02 561.62,406.12 562.42,406.20 563.22,406.27 564.01,406.33 564.81,406.38 565.61,406.44 566.41,406.49 567.21,406.54 568.01,406.60 568.81,406.67 569.61,406.76 570.40,406.85 571.20,406.96 572.00,407.07 572.80,407.20 573.60,407.33 574.40,407.47 575.20,407.62 576.00,407.78 576.79,407.95 577.59,408.12 578.39,408.30 579.19,408.48 579.99,408.67 580.79,408.86 581.59,409.06 582.39,409.26 583.18,409.47 583.98,409.67 584.78,409.88 585.58,410.09 586.38,410.31 587.18,410.52 587.98,410.73 588.78,410.94 589.57,411.16 590.37,411.37 591.17,411.58 591.97,411.78 592.77,411.99 593.57,412.19 594.37,412.39 595.17,412.59 595.96,412.79 596.76,412.99 597.56,413.19 598.36,413.40 599.16,413.61 599.96,413.83 600.76,414.06 601.56,414.29 602.35,414.54 603.15,414.80 603.95,415.07 604.75,415.36 605.55,415.66 606.35,415.99 607.15,416.32 607.95,416.68 608.74,417.06 609.54,417.46 610.34,417.89 611.14,418.34 611.94,418.82 612.74,419.32 613.54,419.85 614.34,420.42 615.13,421.01 615.93,421.64 616.73,422.30 617.53,422.99 618.33,423.72 619.13,424.49 619.93,425.28 620.73,426.11 621.52,426.96 622.32,427.84 623.12,428.74 623.92,429.66 624.72,430.60 625.52,431.56 626.32,432.53 627.12,433.51 627.91,434.50 628.71,435.50 629.51,436.50 630.31,437.51 631.11,438.52 631.91,439.53 632.71,440.53 633.51,441.53 634.30,442.52 635.10,443.50 635.90,444.46 636.70,445.41 637.50,446.35 638.30,447.27 639.10,448.17 639.90,449.04 640.69,449.90 641.49,450.73 642.29,451.53 643.09,452.30 643.89,453.05 644.69,453.76 645.49,454.44 646.29,455.09 647.08,455.70 647.88,456.27 648.68,456.80 649.48,457.29 650.28,457.74 651.08,458.14 651.88,458.49 652.68,458.80 653.47,459.06 654.27,459.27 655.07,459.42 655.87,459.52 656.67,459.56 657.47,459.54 658.27,459.47 659.07,459.33 659.86,459.13 660.66,458.86 661.46,458.53 662.26,458.13 663.06,457.66 663.86,457.12 664.66,456.50 665.46,455.81 666.25,455.05 667.05,454.20 667.85,453.29 668.65,452.31 669.45,451.27 670.25,450.19 671.05,449.06 671.85,447.90 672.64,446.72 673.44,445.52 674.24,444.32 675.04,443.11 675.84,441.91 676.64,440.72 677.44,439.56 678.24,438.44 679.03,437.35 679.83,436.30 680.63,435.32 681.43,434.40 682.23,433.55 683.03,432.77 683.83,432.09 684.63,431.50 685.42,431.03 686.22,430.69 687.02,430.50 687.82,430.48 688.62,430.66 689.42,431.06 690.22,431.69 691.02,432.58 691.81,433.73 692.61,435.13 693.41,436.75 694.21,438.57 695.01,440.56 695.81,442.70 696.61,444.95 697.41,447.29 698.20,449.70 699.00,452.16 699.80,454.62 700.60,457.08 701.40,459.50 702.20,461.88 703.00,464.20 703.80,466.47 704.59,468.68 705.39,470.81 706.19,472.88 706.99,474.86 707.79,476.76 708.59,478.57 709.39,480.29 710.19,481.90 710.98,483.41 711.78,484.81 712.58,486.09 713.38,487.24 714.18,488.27 714.98,489.17 715.78,489.92 716.58,490.53 717.37,490.99 718.17,491.29 718.97,491.44 719.77,491.41 720.57,491.22 721.37,490.84 722.17,490.29 722.97,489.57 723.76,488.70 724.56,487.68 725.36,486.53 726.16,485.25 726.96,483.86 727.76,482.37 728.56,480.79 729.36,479.13 730.15,477.40 730.95,475.61 731.75,473.77 732.55,471.90 733.35,470.00 734.15,468.09 734.95,466.17 735.75,464.26 736.54,462.37 737.34,460.51 738.14,458.69 738.94,456.92 739.74,455.21 740.54,453.57 741.34,452.01 742.14,450.54 742.93,449.17 743.73,447.89 744.53,446.71 745.33,445.65 746.13,444.70 746.93,443.88 747.73,443.18 748.53,442.62 749.32,442.21 750.12,441.94 750.92,441.82 751.72,441.86 752.52,442.07 753.32,442.46 754.12,443.02 754.92,443.76 755.71,444.70 756.51,445.83 757.31,447.17 758.11,448.72 758.91,450.48 759.71,452.46 760.51,454.67 761.31,457.11 762.10,459.80 762.90,462.73 763.70,465.91 764.50,469.35 764.50,479.97 763.70,477.63 762.90,475.46 762.10,473.47 761.31,471.64 760.51,469.98 759.71,468.47 758.91,467.12 758.11,465.92 757.31,464.87 756.51,463.96 755.71,463.19 754.92,462.55 754.12,462.04 753.32,461.66 752.52,461.40 751.72,461.26 750.92,461.23 750.12,461.31 749.32,461.49 748.53,461.78 747.73,462.16 746.93,462.63 746.13,463.19 745.33,463.83 744.53,464.56 743.73,465.36 742.93,466.23 742.14,467.17 741.34,468.17 740.54,469.23 739.74,470.34 738.94,471.51 738.14,472.71 737.34,473.95 736.54,475.22 735.75,476.51 734.95,477.80 734.15,479.11 733.35,480.41 732.55,481.70 731.75,482.98 730.95,484.23 730.15,485.44 729.36,486.62 728.56,487.75 727.76,488.83 726.96,489.85 726.16,490.79 725.36,491.66 724.56,492.45 723.76,493.14 722.97,493.73 722.17,494.22 721.37,494.60 720.57,494.85 719.77,494.99 718.97,495.00 718.17,494.90 717.37,494.70 716.58,494.39 715.78,493.97 714.98,493.46 714.18,492.85 713.38,492.15 712.58,491.36 711.78,490.49 710.98,489.54 710.19,488.51 709.39,487.41 708.59,486.25 707.79,485.01 706.99,483.72 706.19,482.37 705.39,480.96 704.59,479.51 703.80,478.01 703.00,476.46 702.20,474.88 701.40,473.26 700.60,471.62 699.80,469.94 699.00,468.26 698.20,466.60 697.41,464.95 696.61,463.36 695.81,461.83 695.01,460.37 694.21,459.02 693.41,457.78 692.61,456.68 691.81,455.72 691.02,454.94 690.22,454.33 689.42,453.90 688.62,453.63 687.82,453.51 687.02,453.52 686.22,453.65 685.42,453.88 684.63,454.21 683.83,454.61 683.03,455.07 682.23,455.60 681.43,456.18 680.63,456.80 679.83,457.47 679.03,458.18 678.24,458.92 677.44,459.69 676.64,460.48 675.84,461.29 675.04,462.11 674.24,462.93 673.44,463.75 672.64,464.56 671.85,465.37 671.05,466.16 670.25,466.92 669.45,467.66 668.65,468.37 667.85,469.04 667.05,469.66 666.25,470.23 665.46,470.75 664.66,471.22 663.86,471.64 663.06,472.01 662.26,472.33 661.46,472.60 660.66,472.83 659.86,473.01 659.07,473.15 658.27,473.24 657.47,473.29 656.67,473.30 655.87,473.27 655.07,473.21 654.27,473.10 653.47,472.96 652.68,472.79 651.88,472.58 651.08,472.34 650.28,472.06 649.48,471.76 648.68,471.43 647.88,471.06 647.08,470.68 646.29,470.26 645.49,469.82 644.69,469.36 643.89,468.87 643.09,468.37 642.29,467.84 641.49,467.29 640.69,466.73 639.90,466.15 639.10,465.55 638.30,464.94 637.50,464.31 636.70,463.68 635.90,463.03 635.10,462.37 634.30,461.70 633.51,461.03 632.71,460.35 631.91,459.67 631.11,458.98 630.31,458.30 629.51,457.61 628.71,456.93 627.91,456.25 627.12,455.57 626.32,454.90 625.52,454.24 624.72,453.59 623.92,452.95 623.12,452.33 622.32,451.71 621.52,451.12 620.73,450.54 619.93,449.97 619.13,449.43 618.33,448.91 617.53,448.41 616.73,447.94 615.93,447.49 615.13,447.06 614.34,446.66 613.54,446.28 612.74,445.91 611.94,445.57 611.14,445.25 610.34,444.94 609.54,444.65 608.74,444.38 607.95,444.12 607.15,443.87 606.35,443.64 605.55,443.43 604.75,443.22 603.95,443.02 603.15,442.84 602.35,442.66 601.56,442.49 600.76,442.33 599.96,442.18 599.16,442.03 598.36,441.88 597.56,441.74 596.76,441.60 595.96,441.47 595.17,441.33 594.37,441.20 593.57,441.06 592.77,440.92 591.97,440.78 591.17,440.64 590.37,440.50 589.57,440.36 588.78,440.21 587.98,440.07 587.18,439.92 586.38,439.78 585.58,439.63 584.78,439.49 583.98,439.35 583.18,439.21 582.39,439.07 581.59,438.93 580.79,438.80 579.99,438.66 579.19,438.54 578.39,438.41 577.59,438.29 576.79,438.17 576.00,438.06 575.20,437.95 574.40,437.85 573.60,437.75 572.80,437.66 572.00,437.58 571.20,437.50 570.40,437.43 569.61,437.36 568.81,437.31 568.01,437.26 567.21,437.22 566.41,437.18 565.61,437.14 564.81,437.11 564.01,437.07 563.22,437.03 562.42,436.99 561.62,436.93 560.82,436.86 560.02,436.78 559.22,436.69 558.42,436.58 557.62,436.45 556.83,436.29 556.03,436.11 555.23,435.87 554.43,435.61 553.63,435.31 552.83,434.98 552.03,434.61 551.23,434.22 550.44,433.79 549.64,433.33 548.84,432.84 548.04,432.32 547.24,431.78 546.44,431.21 545.64,430.61 544.84,429.99 544.05,429.34 543.25,428.67 542.45,427.98 541.65,427.27 540.85,426.53 540.05,425.78 539.25,425.01 538.45,424.23 537.66,423.42 536.86,422.61 536.06,421.79 535.26,420.97 534.46,420.14 533.66,419.33 532.86,418.52 532.06,417.72 531.27,416.96 530.47,416.24 529.67,415.55 528.87,414.89 528.07,414.26 527.27,413.67 526.47,413.12 525.67,412.62 524.88,412.17 524.08,411.77 523.28,411.43 522.48,411.16 521.68,410.94 520.88,410.80 520.08,410.73 519.28,410.75 518.49,410.84 517.69,411.02 516.89,411.27 516.09,411.60 515.29,412.00 514.49,412.46 513.69,412.98 512.89,413.56 512.10,414.18 511.30,414.84 510.50,415.54 509.70,416.27 508.90,417.03 508.10,417.81 507.30,418.60 506.50,419.42 505.71,420.25 504.91,421.09 504.11,421.91 503.31,422.72 502.51,423.52 501.71,424.29 500.91,425.04 500.11,425.77 499.32,426.47 498.52,427.15 497.72,427.81 496.92,428.45 496.12,429.07 495.32,429.66 494.52,430.24 493.72,430.80 492.93,431.34 492.13,431.86 491.33,432.36 490.53,432.85 489.73,433.32 488.93,433.78 488.13,434.22 487.33,434.64 486.54,435.05 485.74,435.45 484.94,435.83 484.14,436.20 483.34,436.56 482.54,436.91 481.74,437.23 480.94,437.55 480.15,437.86 479.35,438.15 478.55,438.44 477.75,438.72 476.95,438.99 476.15,439.26 475.35,439.52 474.55,439.77 473.76,440.01 472.96,440.26 472.16,440.49 471.36,440.72 470.56,440.95 469.76,441.18 468.96,441.40 468.16,441.63 467.37,441.85 466.57,442.06 465.77,442.28 464.97,442.50 464.17,442.72 463.37,442.94 462.57,443.17 461.77,443.39 460.98,443.62 460.18,443.85 459.38,444.08 458.58,444.32 457.78,444.57 456.98,444.82 456.18,445.07 455.38,445.33 454.59,445.60 453.79,445.88 452.99,446.16 452.19,446.46 451.39,446.76 450.59,447.07 449.79,447.39 448.99,447.72 448.20,448.07 447.40,448.42 446.60,448.79 445.80,449.17" fill="#000" fill-opacity="0.208"/>
<polygon points="445.80,426.86 446.60,426.33 447.40,425.83 448.20,425.34 448.99,424.87 449.79,424.42 450.59,423.98 451.39,423.56 452.19,423.15 452.99,422.75 453.79,422.36 454.59,421.99 455.38,421.63 456.18,421.27 456.98,420.93 457.78,420.59 458.58,420.27 459.38,419.95 460.18,419.63 460.98,419.32 461.77,419.02 462.57,418.72 463.37,418.42 464.17,418.13 464.97,417.83 465.77,417.54 466.57,417.25 467.37,416.96 468.16,416.67 468.96,416.37 469.76,416.08 470.56,415.78 471.36,415.47 472.16,415.16 472.96,414.85 473.76,414.52 474.55,414.20 475.35,413.86 476.15,413.52 476.95,413.16 477.75,412.80 478.55,412.42 479.35,412.04 480.15,411.64 480.94,411.23 481.74,410.80 482.54,410.36 483.34,409.91 484.14,409.45 484.94,408.97 485.74,408.48 486.54,407.96 487.33,407.43 488.13,406.87 488.93,406.30 489.73,405.71 490.53,405.09 491.33,404.45 492.13,403.79 492.93,403.11 493.72,402.40 494.52,401.66 495.32,400.90 496.12,400.11 496.92,399.30 497.72,398.46 498.52,397.58 499.32,396.68 500.11,395.75 500.91,394.79 501.71,393.79 502.51,392.76 503.31,391.71 504.11,390.63 504.91,389.53 505.71,388.43 506.50,387.33 507.30,386.23 508.10,385.13 508.90,384.05 509.70,383.00 510.50,381.98 511.30,381.02 512.10,380.10 512.89,379.24 513.69,378.44 514.49,377.72 515.29,377.08 516.09,376.53 516.89,376.07 517.69,375.71 518.49,375.47 519.28,375.34 520.08,375.33 520.88,375.42 521.68,375.62 522.48,375.91 523.28,376.29 524.08,376.76 524.88,377.32 525.67,377.94 526.47,378.64 527.27,379.40 528.07,380.21 528.87,381.08 529.67,382.00 530.47,382.96 531.27,383.95 532.06,384.95 532.86,385.97 533.66,387.01 534.46,388.06 535.26,389.12 536.06,390.18 536.86,391.24 537.66,392.29 538.45,393.32 539.25,394.34 540.05,395.33 540.85,396.30 541.65,397.25 542.45,398.17 543.25,399.06 544.05,399.92 544.84,400.75 545.64,401.55 546.44,402.31 547.24,403.04 548.04,403.73 548.84,404.39 549.64,405.00 550.44,405.58 551.23,406.11 552.03,406.60 552.83,407.04 553.63,407.43 554.43,407.78 555.23,408.09 556.03,408.36 556.83,408.61 557.62,408.82 558.42,409.01 559.22,409.17 560.02,409.30 560.82,409.42 561.62,409.51 562.42,409.59 563.22,409.66 564.01,409.71 564.81,409.76 565.61,409.81 566.41,409.86 567.21,409.92 568.01,409.97 568.81,410.04 569.61,410.12 570.40,410.22 571.20,410.32 572.00,410.43 572.80,410.55 573.60,410.68 574.40,410.81 575.20,410.96 576.00,411.11 576.79,411.27 577.59,411.44 578.39,411.61 579.19,411.79 579.99,411.97 580.79,412.16 581.59,412.35 582.39,412.54 583.18,412.74 583.98,412.94 584.78,413.14 585.58,413.34 586.38,413.55 587.18,413.75 587.98,413.96 588.78,414.16 589.57,414.37 590.37,414.57 591.17,414.77 591.97,414.97 592.77,415.17 593.57,415.37 594.37,415.56 595.17,415.75 595.96,415.94 596.76,416.13 597.56,416.33 598.36,416.53 599.16,416.73 599.96,416.95 600.76,417.17 601.56,417.39 602.35,417.63 603.15,417.88 603.95,418.15 604.75,418.43 605.55,418.72 606.35,419.03 607.15,419.35 607.95,419.70 608.74,420.07 609.54,420.45 610.34,420.87 611.14,421.30 611.94,421.76 612.74,422.25 613.54,422.76 614.34,423.30 615.13,423.88 615.93,424.48 616.73,425.12 617.53,425.79 618.33,426.49 619.13,427.23 619.93,428.00 620.73,428.80 621.52,429.62 622.32,430.47 623.12,431.34 623.92,432.23 624.72,433.13 625.52,434.05 626.32,434.99 627.12,435.94 627.91,436.89 628.71,437.86 629.51,438.83 630.31,439.80 631.11,440.77 631.91,441.74 632.71,442.71 633.51,443.67 634.30,444.63 635.10,445.57 635.90,446.50 636.70,447.42 637.50,448.33 638.30,449.21 639.10,450.08 639.90,450.93 640.69,451.75 641.49,452.55 642.29,453.32 643.09,454.07 643.89,454.79 644.69,455.48 645.49,456.14 646.29,456.76 647.08,457.35 647.88,457.90 648.68,458.41 649.48,458.88 650.28,459.31 651.08,459.70 651.88,460.04 652.68,460.34 653.47,460.59 654.27,460.79 655.07,460.94 655.87,461.03 656.67,461.07 657.47,461.06 658.27,460.98 659.07,460.85 659.86,460.66 660.66,460.40 661.46,460.08 662.26,459.69 663.06,459.24 663.86,458.72 664.66,458.12 665.46,457.46 666.25,456.72 667.05,455.90 667.85,455.02 668.65,454.08 669.45,453.07 670.25,452.03 671.05,450.94 671.85,449.82 672.64,448.68 673.44,447.53 674.24,446.36 675.04,445.20 675.84,444.04 676.64,442.90 677.44,441.78 678.24,440.69 679.03,439.64 679.83,438.63 680.63,437.68 681.43,436.79 682.23,435.97 683.03,435.23 683.83,434.57 684.63,434.00 685.42,433.54 686.22,433.21 687.02,433.03 687.82,433.02 688.62,433.19 689.42,433.57 690.22,434.18 691.02,435.04 691.81,436.15 692.61,437.50 693.41,439.07 694.21,440.82 695.01,442.74 695.81,444.80 696.61,446.97 697.41,449.24 698.20,451.56 699.00,453.93 699.80,456.31 700.60,458.68 701.40,461.02 702.20,463.31 703.00,465.55 703.80,467.74 704.59,469.87 705.39,471.93 706.19,473.92 706.99,475.84 707.79,477.67 708.59,479.42 709.39,481.07 710.19,482.63 710.98,484.09 711.78,485.43 712.58,486.67 713.38,487.78 714.18,488.78 714.98,489.64 715.78,490.37 716.58,490.96 717.37,491.40 718.17,491.69 718.97,491.83 719.77,491.81 720.57,491.62 721.37,491.26 722.17,490.72 722.97,490.03 723.76,489.19 724.56,488.21 725.36,487.09 726.16,485.86 726.96,484.52 727.76,483.08 728.56,481.55 729.36,479.95 730.15,478.28 730.95,476.56 731.75,474.78 732.55,472.98 733.35,471.15 734.15,469.30 734.95,467.45 735.75,465.61 736.54,463.79 737.34,461.99 738.14,460.23 738.94,458.52 739.74,456.87 740.54,455.29 741.34,453.79 742.14,452.37 742.93,451.04 743.73,449.81 744.53,448.67 745.33,447.65 746.13,446.73 746.93,445.94 747.73,445.27 748.53,444.73 749.32,444.33 750.12,444.07 750.92,443.95 751.72,444.00 752.52,444.20 753.32,444.57 754.12,445.11 754.92,445.83 755.71,446.73 756.51,447.83 757.31,449.12 758.11,450.61 758.91,452.31 759.71,454.22 760.51,456.35 761.31,458.71 762.10,461.30 762.90,464.13 763.70,467.20 764.50,470.52 764.50,478.80 763.70,476.34 762.90,474.06 762.10,471.96 761.31,470.04 760.51,468.29 759.71,466.71 758.91,465.29 758.11,464.03 757.31,462.92 756.51,461.97 755.71,461.16 754.92,460.49 754.12,459.95 753.32,459.55 752.52,459.28 751.72,459.13 750.92,459.09 750.12,459.18 749.32,459.37 748.53,459.67 747.73,460.07 746.93,460.57 746.13,461.16 745.33,461.83 744.53,462.59 743.73,463.44 742.93,464.35 742.14,465.34 741.34,466.39 740.54,467.51 739.74,468.68 738.94,469.90 738.14,471.17 737.34,472.47 736.54,473.81 735.75,475.16 734.95,476.52 734.15,477.90 733.35,479.27 732.55,480.62 731.75,481.96 730.95,483.28 730.15,484.56 729.36,485.80 728.56,486.99 727.76,488.12 726.96,489.19 726.16,490.18 725.36,491.10 724.56,491.92 723.76,492.65 722.97,493.28 722.17,493.79 721.37,494.18 720.57,494.45 719.77,494.59 718.97,494.61 718.17,494.51 717.37,494.29 716.58,493.96 715.78,493.52 714.98,492.98 714.18,492.34 713.38,491.61 712.58,490.78 711.78,489.87 710.98,488.87 710.19,487.79 709.39,486.63 708.59,485.40 707.79,484.11 706.99,482.75 706.19,481.33 705.39,479.85 704.59,478.32 703.80,476.74 703.00,475.12 702.20,473.45 701.40,471.75 700.60,470.02 699.80,468.26 699.00,466.49 698.20,464.74 697.41,463.01 696.61,461.33 695.81,459.72 695.01,458.19 694.21,456.77 693.41,455.47 692.61,454.31 691.81,453.30 691.02,452.48 690.22,451.84 689.42,451.39 688.62,451.11 687.82,450.98 687.02,450.99 686.22,451.13 685.42,451.37 684.63,451.71 683.83,452.13 683.03,452.62 682.23,453.17 681.43,453.78 680.63,454.44 679.83,455.15 679.03,455.89 678.24,456.67 677.44,457.48 676.64,458.31 675.84,459.16 675.04,460.02 674.24,460.88 673.44,461.74 672.64,462.60 671.85,463.45 671.05,464.28 670.25,465.08 669.45,465.86 668.65,466.60 667.85,467.30 667.05,467.96 666.25,468.56 665.46,469.11 664.66,469.60 663.86,470.04 663.06,470.43 662.26,470.77 661.46,471.06 660.66,471.29 659.86,471.48 659.07,471.63 658.27,471.73 657.47,471.78 656.67,471.79 655.87,471.76 655.07,471.69 654.27,471.58 653.47,471.43 652.68,471.25 651.88,471.03 651.08,470.78 650.28,470.49 649.48,470.17 648.68,469.82 647.88,469.44 647.08,469.03 646.29,468.59 645.49,468.13 644.69,467.64 643.89,467.13 643.09,466.60 642.29,466.04 641.49,465.47 640.69,464.88 639.90,464.26 639.10,463.64 638.30,462.99 637.50,462.34 636.70,461.67 635.90,460.99 635.10,460.29 634.30,459.59 633.51,458.88 632.71,458.17 631.91,457.45 631.11,456.73 630.31,456.01 629.51,455.29 628.71,454.57 627.91,453.86 627.12,453.15 626.32,452.44 625.52,451.75 624.72,451.06 623.92,450.39 623.12,449.73 622.32,449.09 621.52,448.46 620.73,447.85 619.93,447.26 619.13,446.69 618.33,446.14 617.53,445.62 616.73,445.12 615.93,444.65 615.13,444.20 614.34,443.77 613.54,443.37 612.74,442.99 611.94,442.63 611.14,442.29 610.34,441.96 609.54,441.66 608.74,441.37 607.95,441.10 607.15,440.84 606.35,440.60 605.55,440.37 604.75,440.15 603.95,439.95 603.15,439.75 602.35,439.57 601.56,439.39 600.76,439.22 599.96,439.06 599.16,438.90 598.36,438.75 597.56,438.60 596.76,438.45 595.96,438.31 595.17,438.17 594.37,438.03 593.57,437.88 592.77,437.74 591.97,437.59 591.17,437.45 590.37,437.30 589.57,437.15 588.78,436.99 587.98,436.84 587.18,436.69 586.38,436.54 585.58,436.38 584.78,436.23 583.98,436.08 583.18,435.93 582.39,435.79 581.59,435.64 580.79,435.50 579.99,435.36 579.19,435.23 578.39,435.10 577.59,434.97 576.79,434.85 576.00,434.73 575.20,434.62 574.40,434.51 573.60,434.41 572.80,434.31 572.00,434.22 571.20,434.14 570.40,434.06 569.61,434.00 568.81,433.94 568.01,433.89 567.21,433.84 566.41,433.80 565.61,433.77 564.81,433.73 564.01,433.69 563.22,433.65 562.42,433.60 561.62,433.54 560.82,433.47 560.02,433.39 559.22,433.29 558.42,433.17 557.62,433.03 556.83,432.87 556.03,432.68 555.23,432.44 554.43,432.17 553.63,431.86 552.83,431.52 552.03,431.15 551.23,430.74 550.44,430.30 549.64,429.83 548.84,429.32 548.04,428.79 547.24,428.23 546.44,427.64 545.64,427.02 544.84,426.37 544.05,425.70 543.25,425.01 542.45,424.30 541.65,423.56 540.85,422.80 540.05,422.02 539.25,421.22 538.45,420.41 537.66,419.58 536.86,418.73 536.06,417.88 535.26,417.03 534.46,416.18 533.66,415.33 532.86,414.49 532.06,413.67 531.27,412.88 530.47,412.13 529.67,411.40 528.87,410.71 528.07,410.05 527.27,409.44 526.47,408.86 525.67,408.34 524.88,407.86 524.08,407.45 523.28,407.09 522.48,406.80 521.68,406.58 520.88,406.43 520.08,406.36 519.28,406.37 518.49,406.47 517.69,406.65 516.89,406.92 516.09,407.27 515.29,407.68 514.49,408.17 513.69,408.71 512.89,409.32 512.10,409.97 511.30,410.66 510.50,411.39 509.70,412.16 508.90,412.95 508.10,413.77 507.30,414.60 506.50,415.46 505.71,416.32 504.91,417.19 504.11,418.04 503.31,418.89 502.51,419.72 501.71,420.52 500.91,421.30 500.11,422.06 499.32,422.79 498.52,423.50 497.72,424.18 496.92,424.85 496.12,425.49 495.32,426.11 494.52,426.71 493.72,427.29 492.93,427.85 492.13,428.39 491.33,428.91 490.53,429.42 489.73,429.91 488.93,430.38 488.13,430.84 487.33,431.28 486.54,431.70 485.74,432.11 484.94,432.51 484.14,432.89 483.34,433.27 482.54,433.63 481.74,433.97 480.94,434.30 480.15,434.62 479.35,434.92 478.55,435.22 477.75,435.52 476.95,435.80 476.15,436.08 475.35,436.34 474.55,436.61 473.76,436.86 472.96,437.11 472.16,437.36 471.36,437.60 470.56,437.84 469.76,438.08 468.96,438.31 468.16,438.54 467.37,438.77 466.57,439.00 465.77,439.23 464.97,439.45 464.17,439.68 463.37,439.91 462.57,440.14 461.77,440.38 460.98,440.62 460.18,440.86 459.38,441.10 458.58,441.35 457.78,441.61 456.98,441.87 456.18,442.13 455.38,442.40 454.59,442.68 453.79,442.97 452.99,443.27 452.19,443.58 451.39,443.89 450.59,444.22 449.79,444.55 448.99,444.90 448.20,445.26 447.40,445.63 446.60,446.01 445.80,446.41" fill="#000" fill-opacity="0.178"/>
<polygon points="445.80,431.37 446.60,430.88 447.40,430.40 448.20,429.94 448.99,429.50 449.79,429.07 450.59,428.65 451.39,428.25 452.19,427.86 452.99,427.48 453.79,427.12 454.59,426.77 455.38,426.42 456.18,426.09 456.98,425.76 457.78,425.44 458.58,425.13 459.38,424.83 460.18,424.53 460.98,424.24 461.77,423.95 462.57,423.66 463.37,423.38 464.17,423.10 464.97,422.82 465.77,422.55 466.57,422.27 467.37,421.99 468.16,421.71 468.96,421.44 469.76,421.15 470.56,420.87 471.36,420.58 472.16,420.28 472.96,419.99 473.76,419.68 474.55,419.37 475.35,419.05 476.15,418.72 476.95,418.39 477.75,418.04 478.55,417.68 479.35,417.32 480.15,416.94 480.94,416.55 481.74,416.15 482.54,415.73 483.34,415.30 484.14,414.86 484.94,414.40 485.74,413.93 486.54,413.44 487.33,412.93 488.13,412.40 488.93,411.86 489.73,411.29 490.53,410.71 491.33,410.10 492.13,409.47 492.93,408.82 493.72,408.14 494.52,407.44 495.32,406.72 496.12,405.97 496.92,405.19 497.72,404.39 498.52,403.56 499.32,402.71 500.11,401.82 500.91,400.91 501.71,399.96 502.51,398.98 503.31,397.98 504.11,396.95 504.91,395.91 505.71,394.87 506.50,393.82 507.30,392.77 508.10,391.74 508.90,390.72 509.70,389.73 510.50,388.77 511.30,387.86 512.10,386.99 512.89,386.18 513.69,385.43 514.49,384.75 515.29,384.14 516.09,383.62 516.89,383.19 517.69,382.85 518.49,382.62 519.28,382.50 520.08,382.49 520.88,382.58 521.68,382.76 522.48,383.04 523.28,383.40 524.08,383.84 524.88,384.36 525.67,384.96 526.47,385.61 527.27,386.33 528.07,387.10 528.87,387.92 529.67,388.78 530.47,389.69 531.27,390.63 532.06,391.58 532.86,392.55 533.66,393.54 534.46,394.55 535.26,395.56 536.06,396.57 536.86,397.58 537.66,398.58 538.45,399.57 539.25,400.54 540.05,401.49 540.85,402.42 541.65,403.32 542.45,404.20 543.25,405.05 544.05,405.87 544.84,406.66 545.64,407.42 546.44,408.16 547.24,408.85 548.04,409.51 548.84,410.14 549.64,410.73 550.44,411.28 551.23,411.79 552.03,412.26 552.83,412.69 553.63,413.07 554.43,413.41 555.23,413.71 556.03,413.97 556.83,414.20 557.62,414.41 558.42,414.59 559.22,414.74 560.02,414.86 560.82,414.97 561.62,415.06 562.42,415.13 563.22,415.19 564.01,415.25 564.81,415.29 565.61,415.34 566.41,415.39 567.21,415.44 568.01,415.49 568.81,415.56 569.61,415.63 570.40,415.72 571.20,415.81 572.00,415.92 572.80,416.03 573.60,416.15 574.40,416.28 575.20,416.42 576.00,416.56 576.79,416.71 577.59,416.87 578.39,417.03 579.19,417.20 579.99,417.37 580.79,417.54 581.59,417.72 582.39,417.90 583.18,418.09 583.98,418.28 584.78,418.47 585.58,418.66 586.38,418.85 587.18,419.05 587.98,419.24 588.78,419.43 589.57,419.63 590.37,419.82 591.17,420.01 591.97,420.19 592.77,420.38 593.57,420.56 594.37,420.74 595.17,420.92 595.96,421.10 596.76,421.28 597.56,421.47 598.36,421.66 599.16,421.85 599.96,422.05 600.76,422.26 601.56,422.47 602.35,422.70 603.15,422.93 603.95,423.18 604.75,423.44 605.55,423.72 606.35,424.01 607.15,424.31 607.95,424.64 608.74,424.98 609.54,425.35 610.34,425.73 611.14,426.14 611.94,426.58 612.74,427.03 613.54,427.52 614.34,428.03 615.13,428.57 615.93,429.13 616.73,429.73 617.53,430.36 618.33,431.03 619.13,431.72 619.93,432.44 620.73,433.19 621.52,433.97 622.32,434.76 623.12,435.58 623.92,436.42 624.72,437.27 625.52,438.14 626.32,439.02 627.12,439.91 627.91,440.81 628.71,441.71 629.51,442.63 630.31,443.54 631.11,444.45 631.91,445.37 632.71,446.28 633.51,447.18 634.30,448.08 635.10,448.97 635.90,449.85 636.70,450.71 637.50,451.56 638.30,452.39 639.10,453.21 639.90,454.00 640.69,454.78 641.49,455.53 642.29,456.26 643.09,456.96 643.89,457.64 644.69,458.29 645.49,458.90 646.29,459.49 647.08,460.04 647.88,460.56 648.68,461.04 649.48,461.49 650.28,461.89 651.08,462.26 651.88,462.58 652.68,462.86 653.47,463.09 654.27,463.28 655.07,463.42 655.87,463.51 656.67,463.54 657.47,463.53 658.27,463.46 659.07,463.34 659.86,463.15 660.66,462.91 661.46,462.61 662.26,462.25 663.06,461.82 663.86,461.33 664.66,460.77 665.46,460.15 666.25,459.45 667.05,458.69 667.85,457.86 668.65,456.97 669.45,456.03 670.25,455.04 671.05,454.02 671.85,452.97 672.64,451.90 673.44,450.81 674.24,449.71 675.04,448.62 675.84,447.53 676.64,446.45 677.44,445.40 678.24,444.38 679.03,443.39 679.83,442.44 680.63,441.55 681.43,440.71 682.23,439.94 683.03,439.24 683.83,438.62 684.63,438.09 685.42,437.66 686.22,437.35 687.02,437.18 687.82,437.16 688.62,437.33 689.42,437.68 690.22,438.26 691.02,439.06 691.81,440.11 692.61,441.38 693.41,442.85 694.21,444.50 695.01,446.31 695.81,448.24 696.61,450.29 697.41,452.41 698.20,454.60 699.00,456.83 699.80,459.07 700.60,461.30 701.40,463.49 702.20,465.65 703.00,467.76 703.80,469.82 704.59,471.82 705.39,473.76 706.19,475.63 706.99,477.43 707.79,479.16 708.59,480.80 709.39,482.36 710.19,483.82 710.98,485.19 711.78,486.46 712.58,487.62 713.38,488.67 714.18,489.60 714.98,490.41 715.78,491.10 716.58,491.65 717.37,492.07 718.17,492.34 718.97,492.47 719.77,492.45 720.57,492.27 721.37,491.93 722.17,491.43 722.97,490.78 723.76,489.99 724.56,489.06 725.36,488.02 726.16,486.86 726.96,485.60 727.76,484.24 728.56,482.81 729.36,481.30 730.15,479.73 730.95,478.11 731.75,476.44 732.55,474.74 733.35,473.02 734.15,471.28 734.95,469.55 735.75,467.81 736.54,466.10 737.34,464.41 738.14,462.76 738.94,461.15 739.74,459.60 740.54,458.11 741.34,456.70 742.14,455.36 742.93,454.11 743.73,452.95 744.53,451.89 745.33,450.92 746.13,450.06 746.93,449.31 747.73,448.68 748.53,448.18 749.32,447.80 750.12,447.55 750.92,447.45 751.72,447.49 752.52,447.68 753.32,448.03 754.12,448.54 754.92,449.21 755.71,450.06 756.51,451.09 757.31,452.30 758.11,453.71 758.91,455.30 759.71,457.10 760.51,459.11 761.31,461.33 762.10,463.76 762.90,466.42 763.70,469.31 764.50,472.43 764.50,476.89 763.70,474.23 762.90,471.77 762.10,469.50 761.31,467.43 760.51,465.54 759.71,463.83 758.91,462.29 758.11,460.93 757.31,459.74 756.51,458.70 755.71,457.83 754.92,457.10 754.12,456.53 753.32,456.09 752.52,455.80 751.72,455.63 750.92,455.60 750.12,455.69 749.32,455.90 748.53,456.22 747.73,456.65 746.93,457.19 746.13,457.83 745.33,458.56 744.53,459.38 743.73,460.29 742.93,461.28 742.14,462.35 741.34,463.48 740.54,464.69 739.74,465.95 738.94,467.28 738.14,468.64 737.34,470.05 736.54,471.49 735.75,472.96 734.95,474.43 734.15,475.91 733.35,477.39 732.55,478.86 731.75,480.31 730.95,481.73 730.15,483.11 729.36,484.45 728.56,485.73 727.76,486.96 726.96,488.11 726.16,489.18 725.36,490.17 724.56,491.06 723.76,491.85 722.97,492.53 722.17,493.08 721.37,493.51 720.57,493.80 719.77,493.95 718.97,493.97 718.17,493.86 717.37,493.62 716.58,493.27 715.78,492.80 714.98,492.21 714.18,491.52 713.38,490.73 712.58,489.83 711.78,488.84 710.98,487.76 710.19,486.60 709.39,485.35 708.59,484.02 707.79,482.62 706.99,481.15 706.19,479.62 705.39,478.02 704.59,476.37 703.80,474.66 703.00,472.91 702.20,471.11 701.40,469.27 700.60,467.40 699.80,465.50 699.00,463.59 698.20,461.70 697.41,459.83 696.61,458.02 695.81,456.28 695.01,454.63 694.21,453.09 693.41,451.68 692.61,450.43 691.81,449.34 691.02,448.45 690.22,447.77 689.42,447.28 688.62,446.97 687.82,446.83 687.02,446.85 686.22,446.99 685.42,447.26 684.63,447.62 683.83,448.08 683.03,448.61 682.23,449.20 681.43,449.86 680.63,450.57 679.83,451.34 679.03,452.14 678.24,452.98 677.44,453.86 676.64,454.75 675.84,455.67 675.04,456.60 674.24,457.53 673.44,458.46 672.64,459.39 671.85,460.30 671.05,461.20 670.25,462.07 669.45,462.91 668.65,463.71 667.85,464.47 667.05,465.18 666.25,465.83 665.46,466.42 664.66,466.95 663.86,467.43 663.06,467.85 662.26,468.21 661.46,468.52 660.66,468.78 659.86,468.98 659.07,469.14 658.27,469.25 657.47,469.30 656.67,469.32 655.87,469.29 655.07,469.21 654.27,469.09 653.47,468.93 652.68,468.73 651.88,468.49 651.08,468.22 650.28,467.91 649.48,467.56 648.68,467.18 647.88,466.77 647.08,466.33 646.29,465.86 645.49,465.36 644.69,464.84 643.89,464.28 643.09,463.71 642.29,463.11 641.49,462.49 640.69,461.85 639.90,461.19 639.10,460.51 638.30,459.81 637.50,459.10 636.70,458.38 635.90,457.64 635.10,456.90 634.30,456.14 633.51,455.37 632.71,454.60 631.91,453.83 631.11,453.05 630.31,452.27 629.51,451.49 628.71,450.71 627.91,449.94 627.12,449.17 626.32,448.42 625.52,447.67 624.72,446.93 623.92,446.20 623.12,445.49 622.32,444.79 621.52,444.11 620.73,443.45 619.93,442.81 619.13,442.20 618.33,441.61 617.53,441.04 616.73,440.50 615.93,439.99 615.13,439.51 614.34,439.05 613.54,438.61 612.74,438.20 611.94,437.81 611.14,437.44 610.34,437.10 609.54,436.77 608.74,436.46 607.95,436.16 607.15,435.88 606.35,435.62 605.55,435.37 604.75,435.14 603.95,434.92 603.15,434.71 602.35,434.51 601.56,434.31 600.76,434.13 599.96,433.95 599.16,433.78 598.36,433.62 597.56,433.46 596.76,433.30 595.96,433.15 595.17,432.99 594.37,432.84 593.57,432.69 592.77,432.53 591.97,432.37 591.17,432.21 590.37,432.05 589.57,431.89 588.78,431.73 587.98,431.56 587.18,431.40 586.38,431.23 585.58,431.07 584.78,430.90 583.98,430.74 583.18,430.58 582.39,430.42 581.59,430.27 580.79,430.11 579.99,429.97 579.19,429.82 578.39,429.68 577.59,429.54 576.79,429.41 576.00,429.28 575.20,429.16 574.40,429.04 573.60,428.93 572.80,428.83 572.00,428.73 571.20,428.64 570.40,428.56 569.61,428.49 568.81,428.42 568.01,428.37 567.21,428.32 566.41,428.28 565.61,428.24 564.81,428.20 564.01,428.16 563.22,428.11 562.42,428.06 561.62,428.00 560.82,427.92 560.02,427.83 559.22,427.72 558.42,427.60 557.62,427.45 556.83,427.27 556.03,427.07 555.23,426.82 554.43,426.54 553.63,426.23 552.83,425.87 552.03,425.48 551.23,425.06 550.44,424.60 549.64,424.10 548.84,423.57 548.04,423.01 547.24,422.41 546.44,421.79 545.64,421.14 544.84,420.46 544.05,419.75 543.25,419.02 542.45,418.27 541.65,417.49 540.85,416.68 540.05,415.86 539.25,415.02 538.45,414.16 537.66,413.28 536.86,412.39 536.06,411.49 535.26,410.59 534.46,409.69 533.66,408.80 532.86,407.91 532.06,407.04 531.27,406.20 530.47,405.40 529.67,404.62 528.87,403.87 528.07,403.17 527.27,402.50 526.47,401.89 525.67,401.32 524.88,400.81 524.08,400.37 523.28,399.98 522.48,399.67 521.68,399.43 520.88,399.27 520.08,399.20 519.28,399.21 518.49,399.31 517.69,399.51 516.89,399.80 516.09,400.17 515.29,400.62 514.49,401.14 513.69,401.73 512.89,402.37 512.10,403.07 511.30,403.82 510.50,404.61 509.70,405.43 508.90,406.28 508.10,407.16 507.30,408.05 506.50,408.96 505.71,409.88 504.91,410.80 504.11,411.72 503.31,412.62 502.51,413.50 501.71,414.35 500.91,415.18 500.11,415.99 499.32,416.76 498.52,417.52 497.72,418.25 496.92,418.95 496.12,419.63 495.32,420.29 494.52,420.93 493.72,421.54 492.93,422.14 492.13,422.71 491.33,423.27 490.53,423.81 489.73,424.32 488.93,424.82 488.13,425.31 487.33,425.77 486.54,426.22 485.74,426.66 484.94,427.08 484.14,427.48 483.34,427.88 482.54,428.26 481.74,428.62 480.94,428.97 480.15,429.31 479.35,429.64 478.55,429.96 477.75,430.27 476.95,430.58 476.15,430.87 475.35,431.16 474.55,431.44 473.76,431.71 472.96,431.98 472.16,432.24 471.36,432.50 470.56,432.75 469.76,433.00 468.96,433.25 468.16,433.49 467.37,433.74 466.57,433.98 465.77,434.22 464.97,434.46 464.17,434.71 463.37,434.95 462.57,435.20 461.77,435.45 460.98,435.70 460.18,435.96 459.38,436.22 458.58,436.49 457.78,436.76 456.98,437.03 456.18,437.32 455.38,437.61 454.59,437.91 453.79,438.22 452.99,438.53 452.19,438.86 451.39,439.20 450.59,439.55 449.79,439.91 448.99,440.28 448.20,440.66 447.40,441.06 446.60,441.47 445.80,441.90" fill="#000" fill-opacity="0.181"/>
<rect x="658.60" y="311.60" width="100.2" height="28.6" fill="#fff" stroke="#808080" stroke-width="1"/>
<circle cx="671.00" cy="318.90" r="2.9" fill="#000" fill-opacity="0.33" stroke="#5a5a5a" stroke-width="0.9"/>
<circle cx="671.00" cy="332.60" r="2.85" fill="#0000f0"/>
<text x="682.95" y="321.50" font-size="11.8" textLength="74.4" lengthAdjust="spacingAndGlyphs" fill="#2e2e2e">Estimated data</text>
<text x="682.95" y="335.40" font-size="11.8" textLength="70.2" lengthAdjust="spacingAndGlyphs" fill="#2e2e2e">Observed data</text>
<g font-size="12.1" fill="#2e2e2e"><text transform="translate(435.35,506.00) scale(1.1,1)" text-anchor="end">0</text>
<text transform="translate(435.35,466.62) scale(1.1,1)" text-anchor="end">0.2</text>
<text transform="translate(435.35,427.24) scale(1.1,1)" text-anchor="end">0.4</text>
<text transform="translate(435.35,387.86) scale(1.1,1)" text-anchor="end">0.6</text>
<text transform="translate(435.35,348.48) scale(1.1,1)" text-anchor="end">0.8</text>
<text transform="translate(435.35,309.10) scale(1.1,1)" text-anchor="end">1</text>
<text transform="translate(445.80,523.60) scale(1.1,1)" text-anchor="middle">39</text>
<text transform="translate(470.32,523.60) scale(1.1,1)" text-anchor="middle">40</text>
<text transform="translate(494.83,523.60) scale(1.1,1)" text-anchor="middle">41</text>
<text transform="translate(519.35,523.60) scale(1.1,1)" text-anchor="middle">42</text>
<text transform="translate(543.86,523.60) scale(1.1,1)" text-anchor="middle">43</text>
<text transform="translate(568.38,523.60) scale(1.1,1)" text-anchor="middle">44</text>
<text transform="translate(592.89,523.60) scale(1.1,1)" text-anchor="middle">45</text>
<text transform="translate(617.41,523.60) scale(1.1,1)" text-anchor="middle">46</text>
<text transform="translate(641.92,523.60) scale(1.1,1)" text-anchor="middle">47</text>
<text transform="translate(666.44,523.60) scale(1.1,1)" text-anchor="middle">48</text>
<text transform="translate(690.95,523.60) scale(1.1,1)" text-anchor="middle">49</text>
<text transform="translate(715.47,523.60) scale(1.1,1)" text-anchor="middle">50</text>
<text transform="translate(739.98,523.60) scale(1.1,1)" text-anchor="middle">51</text>
<text transform="translate(764.50,523.60) scale(1.1,1)" text-anchor="middle">52</text></g>
<text transform="translate(605.45,540.75) scale(1.017,1)" font-size="14.5" text-anchor="middle" fill="#2e2e2e">Time (week number)</text>
<text transform="translate(412.60,403.65) rotate(-90) scale(1.03,1)" font-size="14.5" text-anchor="middle" fill="#2e2e2e">Infected human density</text>
<g transform="translate(446.40,301.80) scale(1.15,1)" fill="#2e2e2e"><text x="-0.1" y="0.9" font-size="12.1">×</text><text x="6.7" y="0" font-size="12.1">10</text><text x="18.7" y="-4.2" font-size="8.3">−3</text></g>
<text transform="translate(593.90,567.10) scale(1.05,1)" font-size="21.2" text-anchor="middle" fill="#2e2e2e">(d)</text>
</g>
</svg>
</body></html>
